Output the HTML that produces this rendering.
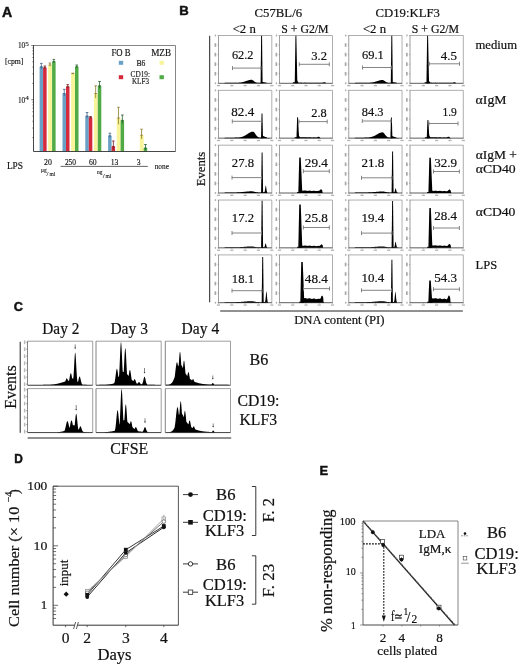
<!DOCTYPE html>
<html><head><meta charset="utf-8"><title>Figure</title>
<style>html,body{margin:0;padding:0;background:#fff;}svg{display:block;}</style>
</head><body>
<svg width="520" height="664" viewBox="0 0 520 664">
<rect x="0" y="0" width="520" height="664" fill="#fff"/>
<text x="2.00" y="17.00" font-family="'Liberation Sans', Arial, sans-serif" font-size="14.2" text-anchor="start" font-weight="bold" fill="#111" textLength="10.20" lengthAdjust="spacingAndGlyphs"  stroke="#111" stroke-width="0.45">A</text>
<line x1="33.50" y1="45.50" x2="175.50" y2="45.50" stroke="#777" stroke-width="0.9" />
<line x1="175.50" y1="45.50" x2="175.50" y2="151.50" stroke="#777" stroke-width="0.9" />
<rect x="39.60" y="66.80" width="3.50" height="84.70" fill="#6a9fc6" stroke="none" stroke-width="1" />
<line x1="41.35" y1="63.40" x2="41.35" y2="68.84" stroke="#3b6186" stroke-width="0.8" />
<line x1="40.05" y1="63.40" x2="42.65" y2="63.40" stroke="#3b6186" stroke-width="0.8" />
<line x1="40.05" y1="66.80" x2="42.65" y2="66.80" stroke="#3b6186" stroke-width="0.8" />
<rect x="43.10" y="67.70" width="3.50" height="83.80" fill="#d52a3c" stroke="none" stroke-width="1" />
<line x1="44.85" y1="66.00" x2="44.85" y2="68.72" stroke="#7a1a1a" stroke-width="0.8" />
<line x1="43.55" y1="66.00" x2="46.15" y2="66.00" stroke="#7a1a1a" stroke-width="0.8" />
<line x1="43.55" y1="67.70" x2="46.15" y2="67.70" stroke="#7a1a1a" stroke-width="0.8" />
<rect x="48.20" y="65.00" width="3.90" height="86.50" fill="#f8f49c" stroke="none" stroke-width="1" />
<line x1="49.95" y1="63.00" x2="49.95" y2="66.20" stroke="#8b7a2c" stroke-width="0.8" />
<line x1="48.65" y1="63.00" x2="51.25" y2="63.00" stroke="#8b7a2c" stroke-width="0.8" />
<line x1="48.65" y1="65.00" x2="51.25" y2="65.00" stroke="#8b7a2c" stroke-width="0.8" />
<rect x="52.10" y="61.60" width="3.50" height="89.90" fill="#50ab46" stroke="none" stroke-width="1" />
<line x1="53.85" y1="59.40" x2="53.85" y2="62.92" stroke="#245f2a" stroke-width="0.8" />
<line x1="52.55" y1="59.40" x2="55.15" y2="59.40" stroke="#245f2a" stroke-width="0.8" />
<line x1="52.55" y1="61.60" x2="55.15" y2="61.60" stroke="#245f2a" stroke-width="0.8" />
<rect x="62.50" y="93.60" width="3.50" height="57.90" fill="#6a9fc6" stroke="none" stroke-width="1" />
<line x1="64.25" y1="89.30" x2="64.25" y2="96.18" stroke="#3b6186" stroke-width="0.8" />
<line x1="62.95" y1="89.30" x2="65.55" y2="89.30" stroke="#3b6186" stroke-width="0.8" />
<line x1="62.95" y1="93.60" x2="65.55" y2="93.60" stroke="#3b6186" stroke-width="0.8" />
<rect x="66.00" y="86.70" width="3.50" height="64.80" fill="#d52a3c" stroke="none" stroke-width="1" />
<line x1="67.75" y1="84.60" x2="67.75" y2="87.96" stroke="#7a1a1a" stroke-width="0.8" />
<line x1="66.45" y1="84.60" x2="69.05" y2="84.60" stroke="#7a1a1a" stroke-width="0.8" />
<line x1="66.45" y1="86.70" x2="69.05" y2="86.70" stroke="#7a1a1a" stroke-width="0.8" />
<rect x="71.10" y="73.70" width="3.90" height="77.80" fill="#f8f49c" stroke="none" stroke-width="1" />
<line x1="72.85" y1="73.20" x2="72.85" y2="74.00" stroke="#8b7a2c" stroke-width="0.8" />
<line x1="71.55" y1="73.20" x2="74.15" y2="73.20" stroke="#8b7a2c" stroke-width="0.8" />
<line x1="71.55" y1="73.70" x2="74.15" y2="73.70" stroke="#8b7a2c" stroke-width="0.8" />
<rect x="75.00" y="66.80" width="3.50" height="84.70" fill="#50ab46" stroke="none" stroke-width="1" />
<line x1="76.75" y1="65.00" x2="76.75" y2="67.88" stroke="#245f2a" stroke-width="0.8" />
<line x1="75.45" y1="65.00" x2="78.05" y2="65.00" stroke="#245f2a" stroke-width="0.8" />
<line x1="75.45" y1="66.80" x2="78.05" y2="66.80" stroke="#245f2a" stroke-width="0.8" />
<rect x="85.30" y="116.00" width="3.50" height="35.50" fill="#6a9fc6" stroke="none" stroke-width="1" />
<line x1="87.05" y1="112.50" x2="87.05" y2="118.10" stroke="#3b6186" stroke-width="0.8" />
<line x1="85.75" y1="112.50" x2="88.35" y2="112.50" stroke="#3b6186" stroke-width="0.8" />
<line x1="85.75" y1="116.00" x2="88.35" y2="116.00" stroke="#3b6186" stroke-width="0.8" />
<rect x="88.80" y="117.60" width="3.50" height="33.90" fill="#d52a3c" stroke="none" stroke-width="1" />
<line x1="90.55" y1="116.50" x2="90.55" y2="118.26" stroke="#7a1a1a" stroke-width="0.8" />
<line x1="89.25" y1="116.50" x2="91.85" y2="116.50" stroke="#7a1a1a" stroke-width="0.8" />
<line x1="89.25" y1="117.60" x2="91.85" y2="117.60" stroke="#7a1a1a" stroke-width="0.8" />
<rect x="93.90" y="93.50" width="3.90" height="58.00" fill="#f8f49c" stroke="none" stroke-width="1" />
<line x1="95.65" y1="85.80" x2="95.65" y2="98.12" stroke="#8b7a2c" stroke-width="0.8" />
<line x1="94.35" y1="85.80" x2="96.95" y2="85.80" stroke="#8b7a2c" stroke-width="0.8" />
<line x1="94.35" y1="93.50" x2="96.95" y2="93.50" stroke="#8b7a2c" stroke-width="0.8" />
<rect x="97.80" y="85.80" width="3.50" height="65.70" fill="#50ab46" stroke="none" stroke-width="1" />
<line x1="99.55" y1="81.50" x2="99.55" y2="88.38" stroke="#245f2a" stroke-width="0.8" />
<line x1="98.25" y1="81.50" x2="100.85" y2="81.50" stroke="#245f2a" stroke-width="0.8" />
<line x1="98.25" y1="85.80" x2="100.85" y2="85.80" stroke="#245f2a" stroke-width="0.8" />
<rect x="108.10" y="135.80" width="3.50" height="15.70" fill="#6a9fc6" stroke="none" stroke-width="1" />
<line x1="109.85" y1="133.20" x2="109.85" y2="137.36" stroke="#3b6186" stroke-width="0.8" />
<line x1="108.55" y1="133.20" x2="111.15" y2="133.20" stroke="#3b6186" stroke-width="0.8" />
<line x1="108.55" y1="135.80" x2="111.15" y2="135.80" stroke="#3b6186" stroke-width="0.8" />
<rect x="111.60" y="146.50" width="3.50" height="5.00" fill="#d52a3c" stroke="none" stroke-width="1" />
<line x1="113.35" y1="141.00" x2="113.35" y2="149.80" stroke="#7a1a1a" stroke-width="0.8" />
<line x1="112.05" y1="141.00" x2="114.65" y2="141.00" stroke="#7a1a1a" stroke-width="0.8" />
<line x1="112.05" y1="146.50" x2="114.65" y2="146.50" stroke="#7a1a1a" stroke-width="0.8" />
<rect x="116.70" y="118.00" width="3.90" height="33.50" fill="#f8f49c" stroke="none" stroke-width="1" />
<line x1="118.45" y1="107.30" x2="118.45" y2="124.42" stroke="#8b7a2c" stroke-width="0.8" />
<line x1="117.15" y1="107.30" x2="119.75" y2="107.30" stroke="#8b7a2c" stroke-width="0.8" />
<line x1="117.15" y1="118.00" x2="119.75" y2="118.00" stroke="#8b7a2c" stroke-width="0.8" />
<rect x="120.60" y="120.40" width="3.50" height="31.10" fill="#50ab46" stroke="none" stroke-width="1" />
<line x1="122.35" y1="115.00" x2="122.35" y2="123.64" stroke="#245f2a" stroke-width="0.8" />
<line x1="121.05" y1="115.00" x2="123.65" y2="115.00" stroke="#245f2a" stroke-width="0.8" />
<line x1="121.05" y1="120.40" x2="123.65" y2="120.40" stroke="#245f2a" stroke-width="0.8" />
<rect x="139.80" y="135.30" width="3.90" height="16.20" fill="#f8f49c" stroke="none" stroke-width="1" />
<line x1="141.55" y1="129.20" x2="141.55" y2="138.96" stroke="#8b7a2c" stroke-width="0.8" />
<line x1="140.25" y1="129.20" x2="142.85" y2="129.20" stroke="#8b7a2c" stroke-width="0.8" />
<line x1="140.25" y1="135.30" x2="142.85" y2="135.30" stroke="#8b7a2c" stroke-width="0.8" />
<rect x="143.70" y="148.00" width="3.50" height="3.50" fill="#50ab46" stroke="none" stroke-width="1" />
<line x1="145.45" y1="144.50" x2="145.45" y2="150.10" stroke="#245f2a" stroke-width="0.8" />
<line x1="144.15" y1="144.50" x2="146.75" y2="144.50" stroke="#245f2a" stroke-width="0.8" />
<line x1="144.15" y1="148.00" x2="146.75" y2="148.00" stroke="#245f2a" stroke-width="0.8" />
<line x1="33.50" y1="45.00" x2="33.50" y2="151.50" stroke="#333" stroke-width="0.9" />
<line x1="33.50" y1="151.50" x2="175.50" y2="151.50" stroke="#333" stroke-width="0.9" />
<line x1="32.30" y1="137.58" x2="33.50" y2="137.58" stroke="#333" stroke-width="0.6" />
<line x1="32.30" y1="128.04" x2="33.50" y2="128.04" stroke="#333" stroke-width="0.6" />
<line x1="32.30" y1="121.27" x2="33.50" y2="121.27" stroke="#333" stroke-width="0.6" />
<line x1="32.30" y1="116.02" x2="33.50" y2="116.02" stroke="#333" stroke-width="0.6" />
<line x1="32.30" y1="111.72" x2="33.50" y2="111.72" stroke="#333" stroke-width="0.6" />
<line x1="32.30" y1="108.10" x2="33.50" y2="108.10" stroke="#333" stroke-width="0.6" />
<line x1="32.30" y1="104.95" x2="33.50" y2="104.95" stroke="#333" stroke-width="0.6" />
<line x1="32.30" y1="102.18" x2="33.50" y2="102.18" stroke="#333" stroke-width="0.6" />
<line x1="31.30" y1="99.70" x2="33.50" y2="99.70" stroke="#333" stroke-width="0.6" />
<line x1="32.30" y1="83.38" x2="33.50" y2="83.38" stroke="#333" stroke-width="0.6" />
<line x1="32.30" y1="73.84" x2="33.50" y2="73.84" stroke="#333" stroke-width="0.6" />
<line x1="32.30" y1="67.07" x2="33.50" y2="67.07" stroke="#333" stroke-width="0.6" />
<line x1="32.30" y1="61.82" x2="33.50" y2="61.82" stroke="#333" stroke-width="0.6" />
<line x1="32.30" y1="57.52" x2="33.50" y2="57.52" stroke="#333" stroke-width="0.6" />
<line x1="32.30" y1="53.90" x2="33.50" y2="53.90" stroke="#333" stroke-width="0.6" />
<line x1="32.30" y1="50.75" x2="33.50" y2="50.75" stroke="#333" stroke-width="0.6" />
<line x1="32.30" y1="47.98" x2="33.50" y2="47.98" stroke="#333" stroke-width="0.6" />
<line x1="31.30" y1="45.50" x2="33.50" y2="45.50" stroke="#333" stroke-width="0.6" />
<text x="17.90" y="48.40" font-family="'Liberation Serif', 'Times New Roman', serif" font-size="7.4" text-anchor="start" font-weight="normal" fill="#111" textLength="7.30" lengthAdjust="spacingAndGlyphs"  stroke="#111" stroke-width="0.12">10</text>
<text x="25.30" y="45.60" font-family="'Liberation Serif', 'Times New Roman', serif" font-size="6.0" text-anchor="start" font-weight="normal" fill="#111" textLength="3.60" lengthAdjust="spacingAndGlyphs"  stroke="#111" stroke-width="0.10">5</text>
<text x="17.90" y="103.40" font-family="'Liberation Serif', 'Times New Roman', serif" font-size="7.4" text-anchor="start" font-weight="normal" fill="#111" textLength="7.30" lengthAdjust="spacingAndGlyphs"  stroke="#111" stroke-width="0.12">10</text>
<text x="25.30" y="99.60" font-family="'Liberation Serif', 'Times New Roman', serif" font-size="6.0" text-anchor="start" font-weight="normal" fill="#111" textLength="3.60" lengthAdjust="spacingAndGlyphs"  stroke="#111" stroke-width="0.10">4</text>
<text x="5.00" y="64.20" font-family="'Liberation Serif', 'Times New Roman', serif" font-size="7.6" text-anchor="start" font-weight="normal" fill="#111" textLength="18.40" lengthAdjust="spacingAndGlyphs"  stroke="#111" stroke-width="0.13">[cpm]</text>
<text x="111.40" y="56.00" font-family="'Liberation Serif', 'Times New Roman', serif" font-size="10.0" text-anchor="start" font-weight="normal" fill="#111" textLength="19.10" lengthAdjust="spacingAndGlyphs"  stroke="#111" stroke-width="0.17">FO B</text>
<text x="151.20" y="56.00" font-family="'Liberation Serif', 'Times New Roman', serif" font-size="10.0" text-anchor="start" font-weight="normal" fill="#111" textLength="19.90" lengthAdjust="spacingAndGlyphs"  stroke="#111" stroke-width="0.17">MZB</text>
<rect x="118.80" y="60.80" width="4.40" height="4.00" fill="#6a9fc6" stroke="none" stroke-width="1" />
<rect x="159.50" y="60.80" width="4.40" height="4.00" fill="#f8f49c" stroke="none" stroke-width="1" />
<rect x="118.80" y="75.20" width="4.40" height="4.00" fill="#d52a3c" stroke="none" stroke-width="1" />
<rect x="159.50" y="75.20" width="4.40" height="4.00" fill="#50ab46" stroke="none" stroke-width="1" />
<text x="136.50" y="65.80" font-family="'Liberation Serif', 'Times New Roman', serif" font-size="8.6" text-anchor="start" font-weight="normal" fill="#111" textLength="8.90" lengthAdjust="spacingAndGlyphs"  stroke="#111" stroke-width="0.14">B6</text>
<text x="130.50" y="77.20" font-family="'Liberation Serif', 'Times New Roman', serif" font-size="8.6" text-anchor="start" font-weight="normal" fill="#111" textLength="19.50" lengthAdjust="spacingAndGlyphs"  stroke="#111" stroke-width="0.14">CD19:</text>
<text x="131.90" y="84.40" font-family="'Liberation Serif', 'Times New Roman', serif" font-size="8.6" text-anchor="start" font-weight="normal" fill="#111" textLength="17.10" lengthAdjust="spacingAndGlyphs"  stroke="#111" stroke-width="0.14">KLF3</text>
<text x="6.90" y="169.00" font-family="'Liberation Serif', 'Times New Roman', serif" font-size="10" text-anchor="start" font-weight="normal" fill="#111" textLength="16.10" lengthAdjust="spacingAndGlyphs"  stroke="#111" stroke-width="0.17">LPS</text>
<text x="44.10" y="164.70" font-family="'Liberation Serif', 'Times New Roman', serif" font-size="7.7" text-anchor="start" font-weight="normal" fill="#111" textLength="7.80" lengthAdjust="spacingAndGlyphs"  stroke="#111" stroke-width="0.13">20</text>
<text x="64.90" y="164.70" font-family="'Liberation Serif', 'Times New Roman', serif" font-size="7.7" text-anchor="start" font-weight="normal" fill="#111" textLength="11.20" lengthAdjust="spacingAndGlyphs"  stroke="#111" stroke-width="0.13">250</text>
<text x="92.80" y="164.70" font-family="'Liberation Serif', 'Times New Roman', serif" font-size="7.7" text-anchor="middle" font-weight="normal" fill="#111"  stroke="#111" stroke-width="0.13">60</text>
<text x="114.50" y="164.70" font-family="'Liberation Serif', 'Times New Roman', serif" font-size="7.7" text-anchor="middle" font-weight="normal" fill="#111"  stroke="#111" stroke-width="0.13">13</text>
<text x="138.60" y="164.70" font-family="'Liberation Serif', 'Times New Roman', serif" font-size="7.7" text-anchor="middle" font-weight="normal" fill="#111"  stroke="#111" stroke-width="0.13">3</text>
<text x="154.70" y="169.20" font-family="'Liberation Serif', 'Times New Roman', serif" font-size="7.4" text-anchor="start" font-weight="normal" fill="#111" textLength="14.30" lengthAdjust="spacingAndGlyphs"  stroke="#111" stroke-width="0.12">none</text>
<line x1="60.60" y1="166.40" x2="147.80" y2="166.40" stroke="#222" stroke-width="0.7" />
<text x="40.80" y="172.00" font-family="'Liberation Serif', 'Times New Roman', serif" font-size="5.5" text-anchor="start" font-weight="normal" fill="#111"  stroke="#111" stroke-width="0.09">µg</text>
<text x="46.60" y="175.50" font-family="'Liberation Serif', 'Times New Roman', serif" font-size="7.0" text-anchor="start" font-weight="normal" fill="#111"  stroke="#111" stroke-width="0.12">/</text>
<text x="49.40" y="176.00" font-family="'Liberation Serif', 'Times New Roman', serif" font-size="5.5" text-anchor="start" font-weight="normal" fill="#111"  stroke="#111" stroke-width="0.09">ml</text>
<text x="97.00" y="174.20" font-family="'Liberation Serif', 'Times New Roman', serif" font-size="5.5" text-anchor="start" font-weight="normal" fill="#111"  stroke="#111" stroke-width="0.09">ng</text>
<text x="102.80" y="177.70" font-family="'Liberation Serif', 'Times New Roman', serif" font-size="7.0" text-anchor="start" font-weight="normal" fill="#111"  stroke="#111" stroke-width="0.12">/</text>
<text x="105.60" y="178.20" font-family="'Liberation Serif', 'Times New Roman', serif" font-size="5.5" text-anchor="start" font-weight="normal" fill="#111"  stroke="#111" stroke-width="0.09">ml</text>
<text x="179.30" y="14.70" font-family="'Liberation Sans', Arial, sans-serif" font-size="12.2" text-anchor="start" font-weight="bold" fill="#111" textLength="9.50" lengthAdjust="spacingAndGlyphs"  stroke="#111" stroke-width="0.45">B</text>
<text x="254.60" y="16.80" font-family="'Liberation Serif', 'Times New Roman', serif" font-size="12.7" text-anchor="start" font-weight="normal" fill="#111" textLength="47.50" lengthAdjust="spacingAndGlyphs"  stroke="#111" stroke-width="0.20">C57BL/6</text>
<text x="375.50" y="16.80" font-family="'Liberation Serif', 'Times New Roman', serif" font-size="12.7" text-anchor="start" font-weight="normal" fill="#111" textLength="64.50" lengthAdjust="spacingAndGlyphs"  stroke="#111" stroke-width="0.20">CD19:KLF3</text>
<text x="232.70" y="33.00" font-family="'Liberation Serif', 'Times New Roman', serif" font-size="12.7" text-anchor="start" font-weight="normal" fill="#111" textLength="23.10" lengthAdjust="spacingAndGlyphs"  stroke="#111" stroke-width="0.20">&lt;2 n</text>
<text x="281.30" y="33.00" font-family="'Liberation Serif', 'Times New Roman', serif" font-size="12.7" text-anchor="start" font-weight="normal" fill="#111" textLength="47.30" lengthAdjust="spacingAndGlyphs"  stroke="#111" stroke-width="0.20">S + G2/M</text>
<text x="362.95" y="33.00" font-family="'Liberation Serif', 'Times New Roman', serif" font-size="12.7" text-anchor="start" font-weight="normal" fill="#111" textLength="23.10" lengthAdjust="spacingAndGlyphs"  stroke="#111" stroke-width="0.20">&lt;2 n</text>
<text x="411.80" y="33.00" font-family="'Liberation Serif', 'Times New Roman', serif" font-size="12.7" text-anchor="start" font-weight="normal" fill="#111" textLength="47.30" lengthAdjust="spacingAndGlyphs"  stroke="#111" stroke-width="0.20">S + G2/M</text>
<text x="475.50" y="48.80" font-family="'Liberation Serif', 'Times New Roman', serif" font-size="12.7" text-anchor="start" font-weight="normal" fill="#111" textLength="41.50" lengthAdjust="spacingAndGlyphs"  stroke="#111" stroke-width="0.20">medium</text>
<text x="475.60" y="104.00" font-family="'Liberation Serif', 'Times New Roman', serif" font-size="12.7" text-anchor="start" font-weight="normal" fill="#111" textLength="30.90" lengthAdjust="spacingAndGlyphs"  stroke="#111" stroke-width="0.20">αIgM</text>
<text x="475.70" y="158.60" font-family="'Liberation Serif', 'Times New Roman', serif" font-size="12.7" text-anchor="start" font-weight="normal" fill="#111" textLength="41.20" lengthAdjust="spacingAndGlyphs"  stroke="#111" stroke-width="0.20">αIgM +</text>
<text x="475.70" y="172.80" font-family="'Liberation Serif', 'Times New Roman', serif" font-size="12.7" text-anchor="start" font-weight="normal" fill="#111" textLength="40.00" lengthAdjust="spacingAndGlyphs"  stroke="#111" stroke-width="0.20">αCD40</text>
<text x="475.80" y="215.90" font-family="'Liberation Serif', 'Times New Roman', serif" font-size="12.7" text-anchor="start" font-weight="normal" fill="#111" textLength="39.60" lengthAdjust="spacingAndGlyphs"  stroke="#111" stroke-width="0.20">αCD40</text>
<text x="475.60" y="268.90" font-family="'Liberation Serif', 'Times New Roman', serif" font-size="12.7" text-anchor="start" font-weight="normal" fill="#111" textLength="21.60" lengthAdjust="spacingAndGlyphs"  stroke="#111" stroke-width="0.20">LPS</text>
<line x1="209.70" y1="35.80" x2="209.70" y2="302.30" stroke="#222" stroke-width="1.0" />
<text x="0" y="0" transform="translate(205.30,169.00) rotate(-90)" font-family="'Liberation Serif', 'Times New Roman', serif" font-size="12.7" text-anchor="middle" fill="#111" stroke="#111" stroke-width="0.2" textLength="34.60" lengthAdjust="spacingAndGlyphs">Events</text>
<line x1="220.20" y1="311.00" x2="462.80" y2="311.00" stroke="#222" stroke-width="1.0" />
<text x="294.20" y="323.90" font-family="'Liberation Serif', 'Times New Roman', serif" font-size="12.7" text-anchor="start" font-weight="normal" fill="#111" textLength="90.40" lengthAdjust="spacingAndGlyphs"  stroke="#111" stroke-width="0.20">DNA content (PI)</text>
<line x1="218.50" y1="35.50" x2="271.80" y2="35.50" stroke="#999" stroke-width="0.8" />
<line x1="271.80" y1="35.50" x2="271.80" y2="83.30" stroke="#999" stroke-width="0.8" />
<line x1="218.50" y1="35.50" x2="218.50" y2="83.30" stroke="#888" stroke-width="0.8" />
<line x1="218.50" y1="83.30" x2="271.80" y2="83.30" stroke="#333" stroke-width="0.8" />
<line x1="217.50" y1="35.50" x2="218.50" y2="35.50" stroke="#777" stroke-width="0.5" />
<rect x="214.80" y="34.60" width="1.30" height="1.80" fill="#aaa" stroke="none" stroke-width="1" />
<line x1="217.50" y1="45.06" x2="218.50" y2="45.06" stroke="#777" stroke-width="0.5" />
<rect x="214.50" y="43.26" width="1.70" height="3.60" fill="#a8a8a8" stroke="none" stroke-width="1" />
<line x1="217.50" y1="54.62" x2="218.50" y2="54.62" stroke="#777" stroke-width="0.5" />
<rect x="214.50" y="52.82" width="1.70" height="3.60" fill="#a8a8a8" stroke="none" stroke-width="1" />
<line x1="217.50" y1="64.18" x2="218.50" y2="64.18" stroke="#777" stroke-width="0.5" />
<rect x="214.50" y="62.38" width="1.70" height="3.60" fill="#a8a8a8" stroke="none" stroke-width="1" />
<line x1="217.50" y1="73.74" x2="218.50" y2="73.74" stroke="#777" stroke-width="0.5" />
<rect x="214.50" y="71.94" width="1.70" height="3.60" fill="#a8a8a8" stroke="none" stroke-width="1" />
<line x1="217.50" y1="83.30" x2="218.50" y2="83.30" stroke="#777" stroke-width="0.5" />
<rect x="214.80" y="82.40" width="1.30" height="1.80" fill="#aaa" stroke="none" stroke-width="1" />
<line x1="218.50" y1="83.30" x2="218.50" y2="84.30" stroke="#777" stroke-width="0.5" />
<rect x="216.90" y="85.00" width="3.20" height="1.30" fill="#b4b4b4" stroke="none" stroke-width="1" />
<line x1="231.82" y1="83.30" x2="231.82" y2="84.30" stroke="#777" stroke-width="0.5" />
<rect x="230.22" y="85.00" width="3.20" height="1.30" fill="#b4b4b4" stroke="none" stroke-width="1" />
<line x1="245.15" y1="83.30" x2="245.15" y2="84.30" stroke="#777" stroke-width="0.5" />
<rect x="243.55" y="85.00" width="3.20" height="1.30" fill="#b4b4b4" stroke="none" stroke-width="1" />
<line x1="258.48" y1="83.30" x2="258.48" y2="84.30" stroke="#777" stroke-width="0.5" />
<rect x="256.88" y="85.00" width="3.20" height="1.30" fill="#b4b4b4" stroke="none" stroke-width="1" />
<line x1="271.80" y1="83.30" x2="271.80" y2="84.30" stroke="#777" stroke-width="0.5" />
<rect x="270.20" y="85.00" width="3.20" height="1.30" fill="#b4b4b4" stroke="none" stroke-width="1" />
<line x1="279.50" y1="35.50" x2="332.50" y2="35.50" stroke="#999" stroke-width="0.8" />
<line x1="332.50" y1="35.50" x2="332.50" y2="83.30" stroke="#999" stroke-width="0.8" />
<line x1="279.50" y1="35.50" x2="279.50" y2="83.30" stroke="#888" stroke-width="0.8" />
<line x1="279.50" y1="83.30" x2="332.50" y2="83.30" stroke="#333" stroke-width="0.8" />
<line x1="278.50" y1="35.50" x2="279.50" y2="35.50" stroke="#777" stroke-width="0.5" />
<rect x="275.80" y="34.60" width="1.30" height="1.80" fill="#aaa" stroke="none" stroke-width="1" />
<line x1="278.50" y1="45.06" x2="279.50" y2="45.06" stroke="#777" stroke-width="0.5" />
<rect x="275.50" y="43.26" width="1.70" height="3.60" fill="#a8a8a8" stroke="none" stroke-width="1" />
<line x1="278.50" y1="54.62" x2="279.50" y2="54.62" stroke="#777" stroke-width="0.5" />
<rect x="275.50" y="52.82" width="1.70" height="3.60" fill="#a8a8a8" stroke="none" stroke-width="1" />
<line x1="278.50" y1="64.18" x2="279.50" y2="64.18" stroke="#777" stroke-width="0.5" />
<rect x="275.50" y="62.38" width="1.70" height="3.60" fill="#a8a8a8" stroke="none" stroke-width="1" />
<line x1="278.50" y1="73.74" x2="279.50" y2="73.74" stroke="#777" stroke-width="0.5" />
<rect x="275.50" y="71.94" width="1.70" height="3.60" fill="#a8a8a8" stroke="none" stroke-width="1" />
<line x1="278.50" y1="83.30" x2="279.50" y2="83.30" stroke="#777" stroke-width="0.5" />
<rect x="275.80" y="82.40" width="1.30" height="1.80" fill="#aaa" stroke="none" stroke-width="1" />
<line x1="279.50" y1="83.30" x2="279.50" y2="84.30" stroke="#777" stroke-width="0.5" />
<rect x="277.90" y="85.00" width="3.20" height="1.30" fill="#b4b4b4" stroke="none" stroke-width="1" />
<line x1="292.75" y1="83.30" x2="292.75" y2="84.30" stroke="#777" stroke-width="0.5" />
<rect x="291.15" y="85.00" width="3.20" height="1.30" fill="#b4b4b4" stroke="none" stroke-width="1" />
<line x1="306.00" y1="83.30" x2="306.00" y2="84.30" stroke="#777" stroke-width="0.5" />
<rect x="304.40" y="85.00" width="3.20" height="1.30" fill="#b4b4b4" stroke="none" stroke-width="1" />
<line x1="319.25" y1="83.30" x2="319.25" y2="84.30" stroke="#777" stroke-width="0.5" />
<rect x="317.65" y="85.00" width="3.20" height="1.30" fill="#b4b4b4" stroke="none" stroke-width="1" />
<line x1="332.50" y1="83.30" x2="332.50" y2="84.30" stroke="#777" stroke-width="0.5" />
<rect x="330.90" y="85.00" width="3.20" height="1.30" fill="#b4b4b4" stroke="none" stroke-width="1" />
<line x1="348.75" y1="35.50" x2="402.05" y2="35.50" stroke="#999" stroke-width="0.8" />
<line x1="402.05" y1="35.50" x2="402.05" y2="83.30" stroke="#999" stroke-width="0.8" />
<line x1="348.75" y1="35.50" x2="348.75" y2="83.30" stroke="#888" stroke-width="0.8" />
<line x1="348.75" y1="83.30" x2="402.05" y2="83.30" stroke="#333" stroke-width="0.8" />
<line x1="347.75" y1="35.50" x2="348.75" y2="35.50" stroke="#777" stroke-width="0.5" />
<rect x="345.05" y="34.60" width="1.30" height="1.80" fill="#aaa" stroke="none" stroke-width="1" />
<line x1="347.75" y1="45.06" x2="348.75" y2="45.06" stroke="#777" stroke-width="0.5" />
<rect x="344.75" y="43.26" width="1.70" height="3.60" fill="#a8a8a8" stroke="none" stroke-width="1" />
<line x1="347.75" y1="54.62" x2="348.75" y2="54.62" stroke="#777" stroke-width="0.5" />
<rect x="344.75" y="52.82" width="1.70" height="3.60" fill="#a8a8a8" stroke="none" stroke-width="1" />
<line x1="347.75" y1="64.18" x2="348.75" y2="64.18" stroke="#777" stroke-width="0.5" />
<rect x="344.75" y="62.38" width="1.70" height="3.60" fill="#a8a8a8" stroke="none" stroke-width="1" />
<line x1="347.75" y1="73.74" x2="348.75" y2="73.74" stroke="#777" stroke-width="0.5" />
<rect x="344.75" y="71.94" width="1.70" height="3.60" fill="#a8a8a8" stroke="none" stroke-width="1" />
<line x1="347.75" y1="83.30" x2="348.75" y2="83.30" stroke="#777" stroke-width="0.5" />
<rect x="345.05" y="82.40" width="1.30" height="1.80" fill="#aaa" stroke="none" stroke-width="1" />
<line x1="348.75" y1="83.30" x2="348.75" y2="84.30" stroke="#777" stroke-width="0.5" />
<rect x="347.15" y="85.00" width="3.20" height="1.30" fill="#b4b4b4" stroke="none" stroke-width="1" />
<line x1="362.07" y1="83.30" x2="362.07" y2="84.30" stroke="#777" stroke-width="0.5" />
<rect x="360.47" y="85.00" width="3.20" height="1.30" fill="#b4b4b4" stroke="none" stroke-width="1" />
<line x1="375.40" y1="83.30" x2="375.40" y2="84.30" stroke="#777" stroke-width="0.5" />
<rect x="373.80" y="85.00" width="3.20" height="1.30" fill="#b4b4b4" stroke="none" stroke-width="1" />
<line x1="388.73" y1="83.30" x2="388.73" y2="84.30" stroke="#777" stroke-width="0.5" />
<rect x="387.12" y="85.00" width="3.20" height="1.30" fill="#b4b4b4" stroke="none" stroke-width="1" />
<line x1="402.05" y1="83.30" x2="402.05" y2="84.30" stroke="#777" stroke-width="0.5" />
<rect x="400.45" y="85.00" width="3.20" height="1.30" fill="#b4b4b4" stroke="none" stroke-width="1" />
<line x1="410.00" y1="35.50" x2="463.30" y2="35.50" stroke="#999" stroke-width="0.8" />
<line x1="463.30" y1="35.50" x2="463.30" y2="83.30" stroke="#999" stroke-width="0.8" />
<line x1="410.00" y1="35.50" x2="410.00" y2="83.30" stroke="#888" stroke-width="0.8" />
<line x1="410.00" y1="83.30" x2="463.30" y2="83.30" stroke="#333" stroke-width="0.8" />
<line x1="409.00" y1="35.50" x2="410.00" y2="35.50" stroke="#777" stroke-width="0.5" />
<rect x="406.30" y="34.60" width="1.30" height="1.80" fill="#aaa" stroke="none" stroke-width="1" />
<line x1="409.00" y1="45.06" x2="410.00" y2="45.06" stroke="#777" stroke-width="0.5" />
<rect x="406.00" y="43.26" width="1.70" height="3.60" fill="#a8a8a8" stroke="none" stroke-width="1" />
<line x1="409.00" y1="54.62" x2="410.00" y2="54.62" stroke="#777" stroke-width="0.5" />
<rect x="406.00" y="52.82" width="1.70" height="3.60" fill="#a8a8a8" stroke="none" stroke-width="1" />
<line x1="409.00" y1="64.18" x2="410.00" y2="64.18" stroke="#777" stroke-width="0.5" />
<rect x="406.00" y="62.38" width="1.70" height="3.60" fill="#a8a8a8" stroke="none" stroke-width="1" />
<line x1="409.00" y1="73.74" x2="410.00" y2="73.74" stroke="#777" stroke-width="0.5" />
<rect x="406.00" y="71.94" width="1.70" height="3.60" fill="#a8a8a8" stroke="none" stroke-width="1" />
<line x1="409.00" y1="83.30" x2="410.00" y2="83.30" stroke="#777" stroke-width="0.5" />
<rect x="406.30" y="82.40" width="1.30" height="1.80" fill="#aaa" stroke="none" stroke-width="1" />
<line x1="410.00" y1="83.30" x2="410.00" y2="84.30" stroke="#777" stroke-width="0.5" />
<rect x="408.40" y="85.00" width="3.20" height="1.30" fill="#b4b4b4" stroke="none" stroke-width="1" />
<line x1="423.32" y1="83.30" x2="423.32" y2="84.30" stroke="#777" stroke-width="0.5" />
<rect x="421.72" y="85.00" width="3.20" height="1.30" fill="#b4b4b4" stroke="none" stroke-width="1" />
<line x1="436.65" y1="83.30" x2="436.65" y2="84.30" stroke="#777" stroke-width="0.5" />
<rect x="435.05" y="85.00" width="3.20" height="1.30" fill="#b4b4b4" stroke="none" stroke-width="1" />
<line x1="449.98" y1="83.30" x2="449.98" y2="84.30" stroke="#777" stroke-width="0.5" />
<rect x="448.38" y="85.00" width="3.20" height="1.30" fill="#b4b4b4" stroke="none" stroke-width="1" />
<line x1="463.30" y1="83.30" x2="463.30" y2="84.30" stroke="#777" stroke-width="0.5" />
<rect x="461.70" y="85.00" width="3.20" height="1.30" fill="#b4b4b4" stroke="none" stroke-width="1" />
<line x1="218.50" y1="90.35" x2="271.80" y2="90.35" stroke="#999" stroke-width="0.8" />
<line x1="271.80" y1="90.35" x2="271.80" y2="138.15" stroke="#999" stroke-width="0.8" />
<line x1="218.50" y1="90.35" x2="218.50" y2="138.15" stroke="#888" stroke-width="0.8" />
<line x1="218.50" y1="138.15" x2="271.80" y2="138.15" stroke="#333" stroke-width="0.8" />
<line x1="217.50" y1="90.35" x2="218.50" y2="90.35" stroke="#777" stroke-width="0.5" />
<rect x="214.80" y="89.45" width="1.30" height="1.80" fill="#aaa" stroke="none" stroke-width="1" />
<line x1="217.50" y1="99.91" x2="218.50" y2="99.91" stroke="#777" stroke-width="0.5" />
<rect x="214.50" y="98.11" width="1.70" height="3.60" fill="#a8a8a8" stroke="none" stroke-width="1" />
<line x1="217.50" y1="109.47" x2="218.50" y2="109.47" stroke="#777" stroke-width="0.5" />
<rect x="214.50" y="107.67" width="1.70" height="3.60" fill="#a8a8a8" stroke="none" stroke-width="1" />
<line x1="217.50" y1="119.03" x2="218.50" y2="119.03" stroke="#777" stroke-width="0.5" />
<rect x="214.50" y="117.23" width="1.70" height="3.60" fill="#a8a8a8" stroke="none" stroke-width="1" />
<line x1="217.50" y1="128.59" x2="218.50" y2="128.59" stroke="#777" stroke-width="0.5" />
<rect x="214.50" y="126.79" width="1.70" height="3.60" fill="#a8a8a8" stroke="none" stroke-width="1" />
<line x1="217.50" y1="138.15" x2="218.50" y2="138.15" stroke="#777" stroke-width="0.5" />
<rect x="214.80" y="137.25" width="1.30" height="1.80" fill="#aaa" stroke="none" stroke-width="1" />
<line x1="218.50" y1="138.15" x2="218.50" y2="139.15" stroke="#777" stroke-width="0.5" />
<rect x="216.90" y="139.85" width="3.20" height="1.30" fill="#b4b4b4" stroke="none" stroke-width="1" />
<line x1="231.82" y1="138.15" x2="231.82" y2="139.15" stroke="#777" stroke-width="0.5" />
<rect x="230.22" y="139.85" width="3.20" height="1.30" fill="#b4b4b4" stroke="none" stroke-width="1" />
<line x1="245.15" y1="138.15" x2="245.15" y2="139.15" stroke="#777" stroke-width="0.5" />
<rect x="243.55" y="139.85" width="3.20" height="1.30" fill="#b4b4b4" stroke="none" stroke-width="1" />
<line x1="258.48" y1="138.15" x2="258.48" y2="139.15" stroke="#777" stroke-width="0.5" />
<rect x="256.88" y="139.85" width="3.20" height="1.30" fill="#b4b4b4" stroke="none" stroke-width="1" />
<line x1="271.80" y1="138.15" x2="271.80" y2="139.15" stroke="#777" stroke-width="0.5" />
<rect x="270.20" y="139.85" width="3.20" height="1.30" fill="#b4b4b4" stroke="none" stroke-width="1" />
<line x1="279.50" y1="90.35" x2="332.50" y2="90.35" stroke="#999" stroke-width="0.8" />
<line x1="332.50" y1="90.35" x2="332.50" y2="138.15" stroke="#999" stroke-width="0.8" />
<line x1="279.50" y1="90.35" x2="279.50" y2="138.15" stroke="#888" stroke-width="0.8" />
<line x1="279.50" y1="138.15" x2="332.50" y2="138.15" stroke="#333" stroke-width="0.8" />
<line x1="278.50" y1="90.35" x2="279.50" y2="90.35" stroke="#777" stroke-width="0.5" />
<rect x="275.80" y="89.45" width="1.30" height="1.80" fill="#aaa" stroke="none" stroke-width="1" />
<line x1="278.50" y1="99.91" x2="279.50" y2="99.91" stroke="#777" stroke-width="0.5" />
<rect x="275.50" y="98.11" width="1.70" height="3.60" fill="#a8a8a8" stroke="none" stroke-width="1" />
<line x1="278.50" y1="109.47" x2="279.50" y2="109.47" stroke="#777" stroke-width="0.5" />
<rect x="275.50" y="107.67" width="1.70" height="3.60" fill="#a8a8a8" stroke="none" stroke-width="1" />
<line x1="278.50" y1="119.03" x2="279.50" y2="119.03" stroke="#777" stroke-width="0.5" />
<rect x="275.50" y="117.23" width="1.70" height="3.60" fill="#a8a8a8" stroke="none" stroke-width="1" />
<line x1="278.50" y1="128.59" x2="279.50" y2="128.59" stroke="#777" stroke-width="0.5" />
<rect x="275.50" y="126.79" width="1.70" height="3.60" fill="#a8a8a8" stroke="none" stroke-width="1" />
<line x1="278.50" y1="138.15" x2="279.50" y2="138.15" stroke="#777" stroke-width="0.5" />
<rect x="275.80" y="137.25" width="1.30" height="1.80" fill="#aaa" stroke="none" stroke-width="1" />
<line x1="279.50" y1="138.15" x2="279.50" y2="139.15" stroke="#777" stroke-width="0.5" />
<rect x="277.90" y="139.85" width="3.20" height="1.30" fill="#b4b4b4" stroke="none" stroke-width="1" />
<line x1="292.75" y1="138.15" x2="292.75" y2="139.15" stroke="#777" stroke-width="0.5" />
<rect x="291.15" y="139.85" width="3.20" height="1.30" fill="#b4b4b4" stroke="none" stroke-width="1" />
<line x1="306.00" y1="138.15" x2="306.00" y2="139.15" stroke="#777" stroke-width="0.5" />
<rect x="304.40" y="139.85" width="3.20" height="1.30" fill="#b4b4b4" stroke="none" stroke-width="1" />
<line x1="319.25" y1="138.15" x2="319.25" y2="139.15" stroke="#777" stroke-width="0.5" />
<rect x="317.65" y="139.85" width="3.20" height="1.30" fill="#b4b4b4" stroke="none" stroke-width="1" />
<line x1="332.50" y1="138.15" x2="332.50" y2="139.15" stroke="#777" stroke-width="0.5" />
<rect x="330.90" y="139.85" width="3.20" height="1.30" fill="#b4b4b4" stroke="none" stroke-width="1" />
<line x1="348.75" y1="90.35" x2="402.05" y2="90.35" stroke="#999" stroke-width="0.8" />
<line x1="402.05" y1="90.35" x2="402.05" y2="138.15" stroke="#999" stroke-width="0.8" />
<line x1="348.75" y1="90.35" x2="348.75" y2="138.15" stroke="#888" stroke-width="0.8" />
<line x1="348.75" y1="138.15" x2="402.05" y2="138.15" stroke="#333" stroke-width="0.8" />
<line x1="347.75" y1="90.35" x2="348.75" y2="90.35" stroke="#777" stroke-width="0.5" />
<rect x="345.05" y="89.45" width="1.30" height="1.80" fill="#aaa" stroke="none" stroke-width="1" />
<line x1="347.75" y1="99.91" x2="348.75" y2="99.91" stroke="#777" stroke-width="0.5" />
<rect x="344.75" y="98.11" width="1.70" height="3.60" fill="#a8a8a8" stroke="none" stroke-width="1" />
<line x1="347.75" y1="109.47" x2="348.75" y2="109.47" stroke="#777" stroke-width="0.5" />
<rect x="344.75" y="107.67" width="1.70" height="3.60" fill="#a8a8a8" stroke="none" stroke-width="1" />
<line x1="347.75" y1="119.03" x2="348.75" y2="119.03" stroke="#777" stroke-width="0.5" />
<rect x="344.75" y="117.23" width="1.70" height="3.60" fill="#a8a8a8" stroke="none" stroke-width="1" />
<line x1="347.75" y1="128.59" x2="348.75" y2="128.59" stroke="#777" stroke-width="0.5" />
<rect x="344.75" y="126.79" width="1.70" height="3.60" fill="#a8a8a8" stroke="none" stroke-width="1" />
<line x1="347.75" y1="138.15" x2="348.75" y2="138.15" stroke="#777" stroke-width="0.5" />
<rect x="345.05" y="137.25" width="1.30" height="1.80" fill="#aaa" stroke="none" stroke-width="1" />
<line x1="348.75" y1="138.15" x2="348.75" y2="139.15" stroke="#777" stroke-width="0.5" />
<rect x="347.15" y="139.85" width="3.20" height="1.30" fill="#b4b4b4" stroke="none" stroke-width="1" />
<line x1="362.07" y1="138.15" x2="362.07" y2="139.15" stroke="#777" stroke-width="0.5" />
<rect x="360.47" y="139.85" width="3.20" height="1.30" fill="#b4b4b4" stroke="none" stroke-width="1" />
<line x1="375.40" y1="138.15" x2="375.40" y2="139.15" stroke="#777" stroke-width="0.5" />
<rect x="373.80" y="139.85" width="3.20" height="1.30" fill="#b4b4b4" stroke="none" stroke-width="1" />
<line x1="388.73" y1="138.15" x2="388.73" y2="139.15" stroke="#777" stroke-width="0.5" />
<rect x="387.12" y="139.85" width="3.20" height="1.30" fill="#b4b4b4" stroke="none" stroke-width="1" />
<line x1="402.05" y1="138.15" x2="402.05" y2="139.15" stroke="#777" stroke-width="0.5" />
<rect x="400.45" y="139.85" width="3.20" height="1.30" fill="#b4b4b4" stroke="none" stroke-width="1" />
<line x1="410.00" y1="90.35" x2="463.30" y2="90.35" stroke="#999" stroke-width="0.8" />
<line x1="463.30" y1="90.35" x2="463.30" y2="138.15" stroke="#999" stroke-width="0.8" />
<line x1="410.00" y1="90.35" x2="410.00" y2="138.15" stroke="#888" stroke-width="0.8" />
<line x1="410.00" y1="138.15" x2="463.30" y2="138.15" stroke="#333" stroke-width="0.8" />
<line x1="409.00" y1="90.35" x2="410.00" y2="90.35" stroke="#777" stroke-width="0.5" />
<rect x="406.30" y="89.45" width="1.30" height="1.80" fill="#aaa" stroke="none" stroke-width="1" />
<line x1="409.00" y1="99.91" x2="410.00" y2="99.91" stroke="#777" stroke-width="0.5" />
<rect x="406.00" y="98.11" width="1.70" height="3.60" fill="#a8a8a8" stroke="none" stroke-width="1" />
<line x1="409.00" y1="109.47" x2="410.00" y2="109.47" stroke="#777" stroke-width="0.5" />
<rect x="406.00" y="107.67" width="1.70" height="3.60" fill="#a8a8a8" stroke="none" stroke-width="1" />
<line x1="409.00" y1="119.03" x2="410.00" y2="119.03" stroke="#777" stroke-width="0.5" />
<rect x="406.00" y="117.23" width="1.70" height="3.60" fill="#a8a8a8" stroke="none" stroke-width="1" />
<line x1="409.00" y1="128.59" x2="410.00" y2="128.59" stroke="#777" stroke-width="0.5" />
<rect x="406.00" y="126.79" width="1.70" height="3.60" fill="#a8a8a8" stroke="none" stroke-width="1" />
<line x1="409.00" y1="138.15" x2="410.00" y2="138.15" stroke="#777" stroke-width="0.5" />
<rect x="406.30" y="137.25" width="1.30" height="1.80" fill="#aaa" stroke="none" stroke-width="1" />
<line x1="410.00" y1="138.15" x2="410.00" y2="139.15" stroke="#777" stroke-width="0.5" />
<rect x="408.40" y="139.85" width="3.20" height="1.30" fill="#b4b4b4" stroke="none" stroke-width="1" />
<line x1="423.32" y1="138.15" x2="423.32" y2="139.15" stroke="#777" stroke-width="0.5" />
<rect x="421.72" y="139.85" width="3.20" height="1.30" fill="#b4b4b4" stroke="none" stroke-width="1" />
<line x1="436.65" y1="138.15" x2="436.65" y2="139.15" stroke="#777" stroke-width="0.5" />
<rect x="435.05" y="139.85" width="3.20" height="1.30" fill="#b4b4b4" stroke="none" stroke-width="1" />
<line x1="449.98" y1="138.15" x2="449.98" y2="139.15" stroke="#777" stroke-width="0.5" />
<rect x="448.38" y="139.85" width="3.20" height="1.30" fill="#b4b4b4" stroke="none" stroke-width="1" />
<line x1="463.30" y1="138.15" x2="463.30" y2="139.15" stroke="#777" stroke-width="0.5" />
<rect x="461.70" y="139.85" width="3.20" height="1.30" fill="#b4b4b4" stroke="none" stroke-width="1" />
<line x1="218.50" y1="145.20" x2="271.80" y2="145.20" stroke="#999" stroke-width="0.8" />
<line x1="271.80" y1="145.20" x2="271.80" y2="193.00" stroke="#999" stroke-width="0.8" />
<line x1="218.50" y1="145.20" x2="218.50" y2="193.00" stroke="#888" stroke-width="0.8" />
<line x1="218.50" y1="193.00" x2="271.80" y2="193.00" stroke="#333" stroke-width="0.8" />
<line x1="217.50" y1="145.20" x2="218.50" y2="145.20" stroke="#777" stroke-width="0.5" />
<rect x="214.80" y="144.30" width="1.30" height="1.80" fill="#aaa" stroke="none" stroke-width="1" />
<line x1="217.50" y1="154.76" x2="218.50" y2="154.76" stroke="#777" stroke-width="0.5" />
<rect x="214.50" y="152.96" width="1.70" height="3.60" fill="#a8a8a8" stroke="none" stroke-width="1" />
<line x1="217.50" y1="164.32" x2="218.50" y2="164.32" stroke="#777" stroke-width="0.5" />
<rect x="214.50" y="162.52" width="1.70" height="3.60" fill="#a8a8a8" stroke="none" stroke-width="1" />
<line x1="217.50" y1="173.88" x2="218.50" y2="173.88" stroke="#777" stroke-width="0.5" />
<rect x="214.50" y="172.08" width="1.70" height="3.60" fill="#a8a8a8" stroke="none" stroke-width="1" />
<line x1="217.50" y1="183.44" x2="218.50" y2="183.44" stroke="#777" stroke-width="0.5" />
<rect x="214.50" y="181.64" width="1.70" height="3.60" fill="#a8a8a8" stroke="none" stroke-width="1" />
<line x1="217.50" y1="193.00" x2="218.50" y2="193.00" stroke="#777" stroke-width="0.5" />
<rect x="214.80" y="192.10" width="1.30" height="1.80" fill="#aaa" stroke="none" stroke-width="1" />
<line x1="218.50" y1="193.00" x2="218.50" y2="194.00" stroke="#777" stroke-width="0.5" />
<rect x="216.90" y="194.70" width="3.20" height="1.30" fill="#b4b4b4" stroke="none" stroke-width="1" />
<line x1="231.82" y1="193.00" x2="231.82" y2="194.00" stroke="#777" stroke-width="0.5" />
<rect x="230.22" y="194.70" width="3.20" height="1.30" fill="#b4b4b4" stroke="none" stroke-width="1" />
<line x1="245.15" y1="193.00" x2="245.15" y2="194.00" stroke="#777" stroke-width="0.5" />
<rect x="243.55" y="194.70" width="3.20" height="1.30" fill="#b4b4b4" stroke="none" stroke-width="1" />
<line x1="258.48" y1="193.00" x2="258.48" y2="194.00" stroke="#777" stroke-width="0.5" />
<rect x="256.88" y="194.70" width="3.20" height="1.30" fill="#b4b4b4" stroke="none" stroke-width="1" />
<line x1="271.80" y1="193.00" x2="271.80" y2="194.00" stroke="#777" stroke-width="0.5" />
<rect x="270.20" y="194.70" width="3.20" height="1.30" fill="#b4b4b4" stroke="none" stroke-width="1" />
<line x1="279.50" y1="145.20" x2="332.50" y2="145.20" stroke="#999" stroke-width="0.8" />
<line x1="332.50" y1="145.20" x2="332.50" y2="193.00" stroke="#999" stroke-width="0.8" />
<line x1="279.50" y1="145.20" x2="279.50" y2="193.00" stroke="#888" stroke-width="0.8" />
<line x1="279.50" y1="193.00" x2="332.50" y2="193.00" stroke="#333" stroke-width="0.8" />
<line x1="278.50" y1="145.20" x2="279.50" y2="145.20" stroke="#777" stroke-width="0.5" />
<rect x="275.80" y="144.30" width="1.30" height="1.80" fill="#aaa" stroke="none" stroke-width="1" />
<line x1="278.50" y1="154.76" x2="279.50" y2="154.76" stroke="#777" stroke-width="0.5" />
<rect x="275.50" y="152.96" width="1.70" height="3.60" fill="#a8a8a8" stroke="none" stroke-width="1" />
<line x1="278.50" y1="164.32" x2="279.50" y2="164.32" stroke="#777" stroke-width="0.5" />
<rect x="275.50" y="162.52" width="1.70" height="3.60" fill="#a8a8a8" stroke="none" stroke-width="1" />
<line x1="278.50" y1="173.88" x2="279.50" y2="173.88" stroke="#777" stroke-width="0.5" />
<rect x="275.50" y="172.08" width="1.70" height="3.60" fill="#a8a8a8" stroke="none" stroke-width="1" />
<line x1="278.50" y1="183.44" x2="279.50" y2="183.44" stroke="#777" stroke-width="0.5" />
<rect x="275.50" y="181.64" width="1.70" height="3.60" fill="#a8a8a8" stroke="none" stroke-width="1" />
<line x1="278.50" y1="193.00" x2="279.50" y2="193.00" stroke="#777" stroke-width="0.5" />
<rect x="275.80" y="192.10" width="1.30" height="1.80" fill="#aaa" stroke="none" stroke-width="1" />
<line x1="279.50" y1="193.00" x2="279.50" y2="194.00" stroke="#777" stroke-width="0.5" />
<rect x="277.90" y="194.70" width="3.20" height="1.30" fill="#b4b4b4" stroke="none" stroke-width="1" />
<line x1="292.75" y1="193.00" x2="292.75" y2="194.00" stroke="#777" stroke-width="0.5" />
<rect x="291.15" y="194.70" width="3.20" height="1.30" fill="#b4b4b4" stroke="none" stroke-width="1" />
<line x1="306.00" y1="193.00" x2="306.00" y2="194.00" stroke="#777" stroke-width="0.5" />
<rect x="304.40" y="194.70" width="3.20" height="1.30" fill="#b4b4b4" stroke="none" stroke-width="1" />
<line x1="319.25" y1="193.00" x2="319.25" y2="194.00" stroke="#777" stroke-width="0.5" />
<rect x="317.65" y="194.70" width="3.20" height="1.30" fill="#b4b4b4" stroke="none" stroke-width="1" />
<line x1="332.50" y1="193.00" x2="332.50" y2="194.00" stroke="#777" stroke-width="0.5" />
<rect x="330.90" y="194.70" width="3.20" height="1.30" fill="#b4b4b4" stroke="none" stroke-width="1" />
<line x1="348.75" y1="145.20" x2="402.05" y2="145.20" stroke="#999" stroke-width="0.8" />
<line x1="402.05" y1="145.20" x2="402.05" y2="193.00" stroke="#999" stroke-width="0.8" />
<line x1="348.75" y1="145.20" x2="348.75" y2="193.00" stroke="#888" stroke-width="0.8" />
<line x1="348.75" y1="193.00" x2="402.05" y2="193.00" stroke="#333" stroke-width="0.8" />
<line x1="347.75" y1="145.20" x2="348.75" y2="145.20" stroke="#777" stroke-width="0.5" />
<rect x="345.05" y="144.30" width="1.30" height="1.80" fill="#aaa" stroke="none" stroke-width="1" />
<line x1="347.75" y1="154.76" x2="348.75" y2="154.76" stroke="#777" stroke-width="0.5" />
<rect x="344.75" y="152.96" width="1.70" height="3.60" fill="#a8a8a8" stroke="none" stroke-width="1" />
<line x1="347.75" y1="164.32" x2="348.75" y2="164.32" stroke="#777" stroke-width="0.5" />
<rect x="344.75" y="162.52" width="1.70" height="3.60" fill="#a8a8a8" stroke="none" stroke-width="1" />
<line x1="347.75" y1="173.88" x2="348.75" y2="173.88" stroke="#777" stroke-width="0.5" />
<rect x="344.75" y="172.08" width="1.70" height="3.60" fill="#a8a8a8" stroke="none" stroke-width="1" />
<line x1="347.75" y1="183.44" x2="348.75" y2="183.44" stroke="#777" stroke-width="0.5" />
<rect x="344.75" y="181.64" width="1.70" height="3.60" fill="#a8a8a8" stroke="none" stroke-width="1" />
<line x1="347.75" y1="193.00" x2="348.75" y2="193.00" stroke="#777" stroke-width="0.5" />
<rect x="345.05" y="192.10" width="1.30" height="1.80" fill="#aaa" stroke="none" stroke-width="1" />
<line x1="348.75" y1="193.00" x2="348.75" y2="194.00" stroke="#777" stroke-width="0.5" />
<rect x="347.15" y="194.70" width="3.20" height="1.30" fill="#b4b4b4" stroke="none" stroke-width="1" />
<line x1="362.07" y1="193.00" x2="362.07" y2="194.00" stroke="#777" stroke-width="0.5" />
<rect x="360.47" y="194.70" width="3.20" height="1.30" fill="#b4b4b4" stroke="none" stroke-width="1" />
<line x1="375.40" y1="193.00" x2="375.40" y2="194.00" stroke="#777" stroke-width="0.5" />
<rect x="373.80" y="194.70" width="3.20" height="1.30" fill="#b4b4b4" stroke="none" stroke-width="1" />
<line x1="388.73" y1="193.00" x2="388.73" y2="194.00" stroke="#777" stroke-width="0.5" />
<rect x="387.12" y="194.70" width="3.20" height="1.30" fill="#b4b4b4" stroke="none" stroke-width="1" />
<line x1="402.05" y1="193.00" x2="402.05" y2="194.00" stroke="#777" stroke-width="0.5" />
<rect x="400.45" y="194.70" width="3.20" height="1.30" fill="#b4b4b4" stroke="none" stroke-width="1" />
<line x1="410.00" y1="145.20" x2="463.30" y2="145.20" stroke="#999" stroke-width="0.8" />
<line x1="463.30" y1="145.20" x2="463.30" y2="193.00" stroke="#999" stroke-width="0.8" />
<line x1="410.00" y1="145.20" x2="410.00" y2="193.00" stroke="#888" stroke-width="0.8" />
<line x1="410.00" y1="193.00" x2="463.30" y2="193.00" stroke="#333" stroke-width="0.8" />
<line x1="409.00" y1="145.20" x2="410.00" y2="145.20" stroke="#777" stroke-width="0.5" />
<rect x="406.30" y="144.30" width="1.30" height="1.80" fill="#aaa" stroke="none" stroke-width="1" />
<line x1="409.00" y1="154.76" x2="410.00" y2="154.76" stroke="#777" stroke-width="0.5" />
<rect x="406.00" y="152.96" width="1.70" height="3.60" fill="#a8a8a8" stroke="none" stroke-width="1" />
<line x1="409.00" y1="164.32" x2="410.00" y2="164.32" stroke="#777" stroke-width="0.5" />
<rect x="406.00" y="162.52" width="1.70" height="3.60" fill="#a8a8a8" stroke="none" stroke-width="1" />
<line x1="409.00" y1="173.88" x2="410.00" y2="173.88" stroke="#777" stroke-width="0.5" />
<rect x="406.00" y="172.08" width="1.70" height="3.60" fill="#a8a8a8" stroke="none" stroke-width="1" />
<line x1="409.00" y1="183.44" x2="410.00" y2="183.44" stroke="#777" stroke-width="0.5" />
<rect x="406.00" y="181.64" width="1.70" height="3.60" fill="#a8a8a8" stroke="none" stroke-width="1" />
<line x1="409.00" y1="193.00" x2="410.00" y2="193.00" stroke="#777" stroke-width="0.5" />
<rect x="406.30" y="192.10" width="1.30" height="1.80" fill="#aaa" stroke="none" stroke-width="1" />
<line x1="410.00" y1="193.00" x2="410.00" y2="194.00" stroke="#777" stroke-width="0.5" />
<rect x="408.40" y="194.70" width="3.20" height="1.30" fill="#b4b4b4" stroke="none" stroke-width="1" />
<line x1="423.32" y1="193.00" x2="423.32" y2="194.00" stroke="#777" stroke-width="0.5" />
<rect x="421.72" y="194.70" width="3.20" height="1.30" fill="#b4b4b4" stroke="none" stroke-width="1" />
<line x1="436.65" y1="193.00" x2="436.65" y2="194.00" stroke="#777" stroke-width="0.5" />
<rect x="435.05" y="194.70" width="3.20" height="1.30" fill="#b4b4b4" stroke="none" stroke-width="1" />
<line x1="449.98" y1="193.00" x2="449.98" y2="194.00" stroke="#777" stroke-width="0.5" />
<rect x="448.38" y="194.70" width="3.20" height="1.30" fill="#b4b4b4" stroke="none" stroke-width="1" />
<line x1="463.30" y1="193.00" x2="463.30" y2="194.00" stroke="#777" stroke-width="0.5" />
<rect x="461.70" y="194.70" width="3.20" height="1.30" fill="#b4b4b4" stroke="none" stroke-width="1" />
<line x1="218.50" y1="200.05" x2="271.80" y2="200.05" stroke="#999" stroke-width="0.8" />
<line x1="271.80" y1="200.05" x2="271.80" y2="247.85" stroke="#999" stroke-width="0.8" />
<line x1="218.50" y1="200.05" x2="218.50" y2="247.85" stroke="#888" stroke-width="0.8" />
<line x1="218.50" y1="247.85" x2="271.80" y2="247.85" stroke="#333" stroke-width="0.8" />
<line x1="217.50" y1="200.05" x2="218.50" y2="200.05" stroke="#777" stroke-width="0.5" />
<rect x="214.80" y="199.15" width="1.30" height="1.80" fill="#aaa" stroke="none" stroke-width="1" />
<line x1="217.50" y1="209.61" x2="218.50" y2="209.61" stroke="#777" stroke-width="0.5" />
<rect x="214.50" y="207.81" width="1.70" height="3.60" fill="#a8a8a8" stroke="none" stroke-width="1" />
<line x1="217.50" y1="219.17" x2="218.50" y2="219.17" stroke="#777" stroke-width="0.5" />
<rect x="214.50" y="217.37" width="1.70" height="3.60" fill="#a8a8a8" stroke="none" stroke-width="1" />
<line x1="217.50" y1="228.73" x2="218.50" y2="228.73" stroke="#777" stroke-width="0.5" />
<rect x="214.50" y="226.93" width="1.70" height="3.60" fill="#a8a8a8" stroke="none" stroke-width="1" />
<line x1="217.50" y1="238.29" x2="218.50" y2="238.29" stroke="#777" stroke-width="0.5" />
<rect x="214.50" y="236.49" width="1.70" height="3.60" fill="#a8a8a8" stroke="none" stroke-width="1" />
<line x1="217.50" y1="247.85" x2="218.50" y2="247.85" stroke="#777" stroke-width="0.5" />
<rect x="214.80" y="246.95" width="1.30" height="1.80" fill="#aaa" stroke="none" stroke-width="1" />
<line x1="218.50" y1="247.85" x2="218.50" y2="248.85" stroke="#777" stroke-width="0.5" />
<rect x="216.90" y="249.55" width="3.20" height="1.30" fill="#b4b4b4" stroke="none" stroke-width="1" />
<line x1="231.82" y1="247.85" x2="231.82" y2="248.85" stroke="#777" stroke-width="0.5" />
<rect x="230.22" y="249.55" width="3.20" height="1.30" fill="#b4b4b4" stroke="none" stroke-width="1" />
<line x1="245.15" y1="247.85" x2="245.15" y2="248.85" stroke="#777" stroke-width="0.5" />
<rect x="243.55" y="249.55" width="3.20" height="1.30" fill="#b4b4b4" stroke="none" stroke-width="1" />
<line x1="258.48" y1="247.85" x2="258.48" y2="248.85" stroke="#777" stroke-width="0.5" />
<rect x="256.88" y="249.55" width="3.20" height="1.30" fill="#b4b4b4" stroke="none" stroke-width="1" />
<line x1="271.80" y1="247.85" x2="271.80" y2="248.85" stroke="#777" stroke-width="0.5" />
<rect x="270.20" y="249.55" width="3.20" height="1.30" fill="#b4b4b4" stroke="none" stroke-width="1" />
<line x1="279.50" y1="200.05" x2="332.50" y2="200.05" stroke="#999" stroke-width="0.8" />
<line x1="332.50" y1="200.05" x2="332.50" y2="247.85" stroke="#999" stroke-width="0.8" />
<line x1="279.50" y1="200.05" x2="279.50" y2="247.85" stroke="#888" stroke-width="0.8" />
<line x1="279.50" y1="247.85" x2="332.50" y2="247.85" stroke="#333" stroke-width="0.8" />
<line x1="278.50" y1="200.05" x2="279.50" y2="200.05" stroke="#777" stroke-width="0.5" />
<rect x="275.80" y="199.15" width="1.30" height="1.80" fill="#aaa" stroke="none" stroke-width="1" />
<line x1="278.50" y1="209.61" x2="279.50" y2="209.61" stroke="#777" stroke-width="0.5" />
<rect x="275.50" y="207.81" width="1.70" height="3.60" fill="#a8a8a8" stroke="none" stroke-width="1" />
<line x1="278.50" y1="219.17" x2="279.50" y2="219.17" stroke="#777" stroke-width="0.5" />
<rect x="275.50" y="217.37" width="1.70" height="3.60" fill="#a8a8a8" stroke="none" stroke-width="1" />
<line x1="278.50" y1="228.73" x2="279.50" y2="228.73" stroke="#777" stroke-width="0.5" />
<rect x="275.50" y="226.93" width="1.70" height="3.60" fill="#a8a8a8" stroke="none" stroke-width="1" />
<line x1="278.50" y1="238.29" x2="279.50" y2="238.29" stroke="#777" stroke-width="0.5" />
<rect x="275.50" y="236.49" width="1.70" height="3.60" fill="#a8a8a8" stroke="none" stroke-width="1" />
<line x1="278.50" y1="247.85" x2="279.50" y2="247.85" stroke="#777" stroke-width="0.5" />
<rect x="275.80" y="246.95" width="1.30" height="1.80" fill="#aaa" stroke="none" stroke-width="1" />
<line x1="279.50" y1="247.85" x2="279.50" y2="248.85" stroke="#777" stroke-width="0.5" />
<rect x="277.90" y="249.55" width="3.20" height="1.30" fill="#b4b4b4" stroke="none" stroke-width="1" />
<line x1="292.75" y1="247.85" x2="292.75" y2="248.85" stroke="#777" stroke-width="0.5" />
<rect x="291.15" y="249.55" width="3.20" height="1.30" fill="#b4b4b4" stroke="none" stroke-width="1" />
<line x1="306.00" y1="247.85" x2="306.00" y2="248.85" stroke="#777" stroke-width="0.5" />
<rect x="304.40" y="249.55" width="3.20" height="1.30" fill="#b4b4b4" stroke="none" stroke-width="1" />
<line x1="319.25" y1="247.85" x2="319.25" y2="248.85" stroke="#777" stroke-width="0.5" />
<rect x="317.65" y="249.55" width="3.20" height="1.30" fill="#b4b4b4" stroke="none" stroke-width="1" />
<line x1="332.50" y1="247.85" x2="332.50" y2="248.85" stroke="#777" stroke-width="0.5" />
<rect x="330.90" y="249.55" width="3.20" height="1.30" fill="#b4b4b4" stroke="none" stroke-width="1" />
<line x1="348.75" y1="200.05" x2="402.05" y2="200.05" stroke="#999" stroke-width="0.8" />
<line x1="402.05" y1="200.05" x2="402.05" y2="247.85" stroke="#999" stroke-width="0.8" />
<line x1="348.75" y1="200.05" x2="348.75" y2="247.85" stroke="#888" stroke-width="0.8" />
<line x1="348.75" y1="247.85" x2="402.05" y2="247.85" stroke="#333" stroke-width="0.8" />
<line x1="347.75" y1="200.05" x2="348.75" y2="200.05" stroke="#777" stroke-width="0.5" />
<rect x="345.05" y="199.15" width="1.30" height="1.80" fill="#aaa" stroke="none" stroke-width="1" />
<line x1="347.75" y1="209.61" x2="348.75" y2="209.61" stroke="#777" stroke-width="0.5" />
<rect x="344.75" y="207.81" width="1.70" height="3.60" fill="#a8a8a8" stroke="none" stroke-width="1" />
<line x1="347.75" y1="219.17" x2="348.75" y2="219.17" stroke="#777" stroke-width="0.5" />
<rect x="344.75" y="217.37" width="1.70" height="3.60" fill="#a8a8a8" stroke="none" stroke-width="1" />
<line x1="347.75" y1="228.73" x2="348.75" y2="228.73" stroke="#777" stroke-width="0.5" />
<rect x="344.75" y="226.93" width="1.70" height="3.60" fill="#a8a8a8" stroke="none" stroke-width="1" />
<line x1="347.75" y1="238.29" x2="348.75" y2="238.29" stroke="#777" stroke-width="0.5" />
<rect x="344.75" y="236.49" width="1.70" height="3.60" fill="#a8a8a8" stroke="none" stroke-width="1" />
<line x1="347.75" y1="247.85" x2="348.75" y2="247.85" stroke="#777" stroke-width="0.5" />
<rect x="345.05" y="246.95" width="1.30" height="1.80" fill="#aaa" stroke="none" stroke-width="1" />
<line x1="348.75" y1="247.85" x2="348.75" y2="248.85" stroke="#777" stroke-width="0.5" />
<rect x="347.15" y="249.55" width="3.20" height="1.30" fill="#b4b4b4" stroke="none" stroke-width="1" />
<line x1="362.07" y1="247.85" x2="362.07" y2="248.85" stroke="#777" stroke-width="0.5" />
<rect x="360.47" y="249.55" width="3.20" height="1.30" fill="#b4b4b4" stroke="none" stroke-width="1" />
<line x1="375.40" y1="247.85" x2="375.40" y2="248.85" stroke="#777" stroke-width="0.5" />
<rect x="373.80" y="249.55" width="3.20" height="1.30" fill="#b4b4b4" stroke="none" stroke-width="1" />
<line x1="388.73" y1="247.85" x2="388.73" y2="248.85" stroke="#777" stroke-width="0.5" />
<rect x="387.12" y="249.55" width="3.20" height="1.30" fill="#b4b4b4" stroke="none" stroke-width="1" />
<line x1="402.05" y1="247.85" x2="402.05" y2="248.85" stroke="#777" stroke-width="0.5" />
<rect x="400.45" y="249.55" width="3.20" height="1.30" fill="#b4b4b4" stroke="none" stroke-width="1" />
<line x1="410.00" y1="200.05" x2="463.30" y2="200.05" stroke="#999" stroke-width="0.8" />
<line x1="463.30" y1="200.05" x2="463.30" y2="247.85" stroke="#999" stroke-width="0.8" />
<line x1="410.00" y1="200.05" x2="410.00" y2="247.85" stroke="#888" stroke-width="0.8" />
<line x1="410.00" y1="247.85" x2="463.30" y2="247.85" stroke="#333" stroke-width="0.8" />
<line x1="409.00" y1="200.05" x2="410.00" y2="200.05" stroke="#777" stroke-width="0.5" />
<rect x="406.30" y="199.15" width="1.30" height="1.80" fill="#aaa" stroke="none" stroke-width="1" />
<line x1="409.00" y1="209.61" x2="410.00" y2="209.61" stroke="#777" stroke-width="0.5" />
<rect x="406.00" y="207.81" width="1.70" height="3.60" fill="#a8a8a8" stroke="none" stroke-width="1" />
<line x1="409.00" y1="219.17" x2="410.00" y2="219.17" stroke="#777" stroke-width="0.5" />
<rect x="406.00" y="217.37" width="1.70" height="3.60" fill="#a8a8a8" stroke="none" stroke-width="1" />
<line x1="409.00" y1="228.73" x2="410.00" y2="228.73" stroke="#777" stroke-width="0.5" />
<rect x="406.00" y="226.93" width="1.70" height="3.60" fill="#a8a8a8" stroke="none" stroke-width="1" />
<line x1="409.00" y1="238.29" x2="410.00" y2="238.29" stroke="#777" stroke-width="0.5" />
<rect x="406.00" y="236.49" width="1.70" height="3.60" fill="#a8a8a8" stroke="none" stroke-width="1" />
<line x1="409.00" y1="247.85" x2="410.00" y2="247.85" stroke="#777" stroke-width="0.5" />
<rect x="406.30" y="246.95" width="1.30" height="1.80" fill="#aaa" stroke="none" stroke-width="1" />
<line x1="410.00" y1="247.85" x2="410.00" y2="248.85" stroke="#777" stroke-width="0.5" />
<rect x="408.40" y="249.55" width="3.20" height="1.30" fill="#b4b4b4" stroke="none" stroke-width="1" />
<line x1="423.32" y1="247.85" x2="423.32" y2="248.85" stroke="#777" stroke-width="0.5" />
<rect x="421.72" y="249.55" width="3.20" height="1.30" fill="#b4b4b4" stroke="none" stroke-width="1" />
<line x1="436.65" y1="247.85" x2="436.65" y2="248.85" stroke="#777" stroke-width="0.5" />
<rect x="435.05" y="249.55" width="3.20" height="1.30" fill="#b4b4b4" stroke="none" stroke-width="1" />
<line x1="449.98" y1="247.85" x2="449.98" y2="248.85" stroke="#777" stroke-width="0.5" />
<rect x="448.38" y="249.55" width="3.20" height="1.30" fill="#b4b4b4" stroke="none" stroke-width="1" />
<line x1="463.30" y1="247.85" x2="463.30" y2="248.85" stroke="#777" stroke-width="0.5" />
<rect x="461.70" y="249.55" width="3.20" height="1.30" fill="#b4b4b4" stroke="none" stroke-width="1" />
<line x1="218.50" y1="254.90" x2="271.80" y2="254.90" stroke="#999" stroke-width="0.8" />
<line x1="271.80" y1="254.90" x2="271.80" y2="302.70" stroke="#999" stroke-width="0.8" />
<line x1="218.50" y1="254.90" x2="218.50" y2="302.70" stroke="#888" stroke-width="0.8" />
<line x1="218.50" y1="302.70" x2="271.80" y2="302.70" stroke="#333" stroke-width="0.8" />
<line x1="217.50" y1="254.90" x2="218.50" y2="254.90" stroke="#777" stroke-width="0.5" />
<rect x="214.80" y="254.00" width="1.30" height="1.80" fill="#aaa" stroke="none" stroke-width="1" />
<line x1="217.50" y1="264.46" x2="218.50" y2="264.46" stroke="#777" stroke-width="0.5" />
<rect x="214.50" y="262.66" width="1.70" height="3.60" fill="#a8a8a8" stroke="none" stroke-width="1" />
<line x1="217.50" y1="274.02" x2="218.50" y2="274.02" stroke="#777" stroke-width="0.5" />
<rect x="214.50" y="272.22" width="1.70" height="3.60" fill="#a8a8a8" stroke="none" stroke-width="1" />
<line x1="217.50" y1="283.58" x2="218.50" y2="283.58" stroke="#777" stroke-width="0.5" />
<rect x="214.50" y="281.78" width="1.70" height="3.60" fill="#a8a8a8" stroke="none" stroke-width="1" />
<line x1="217.50" y1="293.14" x2="218.50" y2="293.14" stroke="#777" stroke-width="0.5" />
<rect x="214.50" y="291.34" width="1.70" height="3.60" fill="#a8a8a8" stroke="none" stroke-width="1" />
<line x1="217.50" y1="302.70" x2="218.50" y2="302.70" stroke="#777" stroke-width="0.5" />
<rect x="214.80" y="301.80" width="1.30" height="1.80" fill="#aaa" stroke="none" stroke-width="1" />
<line x1="218.50" y1="302.70" x2="218.50" y2="303.70" stroke="#777" stroke-width="0.5" />
<rect x="216.90" y="304.40" width="3.20" height="1.30" fill="#b4b4b4" stroke="none" stroke-width="1" />
<line x1="231.82" y1="302.70" x2="231.82" y2="303.70" stroke="#777" stroke-width="0.5" />
<rect x="230.22" y="304.40" width="3.20" height="1.30" fill="#b4b4b4" stroke="none" stroke-width="1" />
<line x1="245.15" y1="302.70" x2="245.15" y2="303.70" stroke="#777" stroke-width="0.5" />
<rect x="243.55" y="304.40" width="3.20" height="1.30" fill="#b4b4b4" stroke="none" stroke-width="1" />
<line x1="258.48" y1="302.70" x2="258.48" y2="303.70" stroke="#777" stroke-width="0.5" />
<rect x="256.88" y="304.40" width="3.20" height="1.30" fill="#b4b4b4" stroke="none" stroke-width="1" />
<line x1="271.80" y1="302.70" x2="271.80" y2="303.70" stroke="#777" stroke-width="0.5" />
<rect x="270.20" y="304.40" width="3.20" height="1.30" fill="#b4b4b4" stroke="none" stroke-width="1" />
<line x1="279.50" y1="254.90" x2="332.50" y2="254.90" stroke="#999" stroke-width="0.8" />
<line x1="332.50" y1="254.90" x2="332.50" y2="302.70" stroke="#999" stroke-width="0.8" />
<line x1="279.50" y1="254.90" x2="279.50" y2="302.70" stroke="#888" stroke-width="0.8" />
<line x1="279.50" y1="302.70" x2="332.50" y2="302.70" stroke="#333" stroke-width="0.8" />
<line x1="278.50" y1="254.90" x2="279.50" y2="254.90" stroke="#777" stroke-width="0.5" />
<rect x="275.80" y="254.00" width="1.30" height="1.80" fill="#aaa" stroke="none" stroke-width="1" />
<line x1="278.50" y1="264.46" x2="279.50" y2="264.46" stroke="#777" stroke-width="0.5" />
<rect x="275.50" y="262.66" width="1.70" height="3.60" fill="#a8a8a8" stroke="none" stroke-width="1" />
<line x1="278.50" y1="274.02" x2="279.50" y2="274.02" stroke="#777" stroke-width="0.5" />
<rect x="275.50" y="272.22" width="1.70" height="3.60" fill="#a8a8a8" stroke="none" stroke-width="1" />
<line x1="278.50" y1="283.58" x2="279.50" y2="283.58" stroke="#777" stroke-width="0.5" />
<rect x="275.50" y="281.78" width="1.70" height="3.60" fill="#a8a8a8" stroke="none" stroke-width="1" />
<line x1="278.50" y1="293.14" x2="279.50" y2="293.14" stroke="#777" stroke-width="0.5" />
<rect x="275.50" y="291.34" width="1.70" height="3.60" fill="#a8a8a8" stroke="none" stroke-width="1" />
<line x1="278.50" y1="302.70" x2="279.50" y2="302.70" stroke="#777" stroke-width="0.5" />
<rect x="275.80" y="301.80" width="1.30" height="1.80" fill="#aaa" stroke="none" stroke-width="1" />
<line x1="279.50" y1="302.70" x2="279.50" y2="303.70" stroke="#777" stroke-width="0.5" />
<rect x="277.90" y="304.40" width="3.20" height="1.30" fill="#b4b4b4" stroke="none" stroke-width="1" />
<line x1="292.75" y1="302.70" x2="292.75" y2="303.70" stroke="#777" stroke-width="0.5" />
<rect x="291.15" y="304.40" width="3.20" height="1.30" fill="#b4b4b4" stroke="none" stroke-width="1" />
<line x1="306.00" y1="302.70" x2="306.00" y2="303.70" stroke="#777" stroke-width="0.5" />
<rect x="304.40" y="304.40" width="3.20" height="1.30" fill="#b4b4b4" stroke="none" stroke-width="1" />
<line x1="319.25" y1="302.70" x2="319.25" y2="303.70" stroke="#777" stroke-width="0.5" />
<rect x="317.65" y="304.40" width="3.20" height="1.30" fill="#b4b4b4" stroke="none" stroke-width="1" />
<line x1="332.50" y1="302.70" x2="332.50" y2="303.70" stroke="#777" stroke-width="0.5" />
<rect x="330.90" y="304.40" width="3.20" height="1.30" fill="#b4b4b4" stroke="none" stroke-width="1" />
<line x1="348.75" y1="254.90" x2="402.05" y2="254.90" stroke="#999" stroke-width="0.8" />
<line x1="402.05" y1="254.90" x2="402.05" y2="302.70" stroke="#999" stroke-width="0.8" />
<line x1="348.75" y1="254.90" x2="348.75" y2="302.70" stroke="#888" stroke-width="0.8" />
<line x1="348.75" y1="302.70" x2="402.05" y2="302.70" stroke="#333" stroke-width="0.8" />
<line x1="347.75" y1="254.90" x2="348.75" y2="254.90" stroke="#777" stroke-width="0.5" />
<rect x="345.05" y="254.00" width="1.30" height="1.80" fill="#aaa" stroke="none" stroke-width="1" />
<line x1="347.75" y1="264.46" x2="348.75" y2="264.46" stroke="#777" stroke-width="0.5" />
<rect x="344.75" y="262.66" width="1.70" height="3.60" fill="#a8a8a8" stroke="none" stroke-width="1" />
<line x1="347.75" y1="274.02" x2="348.75" y2="274.02" stroke="#777" stroke-width="0.5" />
<rect x="344.75" y="272.22" width="1.70" height="3.60" fill="#a8a8a8" stroke="none" stroke-width="1" />
<line x1="347.75" y1="283.58" x2="348.75" y2="283.58" stroke="#777" stroke-width="0.5" />
<rect x="344.75" y="281.78" width="1.70" height="3.60" fill="#a8a8a8" stroke="none" stroke-width="1" />
<line x1="347.75" y1="293.14" x2="348.75" y2="293.14" stroke="#777" stroke-width="0.5" />
<rect x="344.75" y="291.34" width="1.70" height="3.60" fill="#a8a8a8" stroke="none" stroke-width="1" />
<line x1="347.75" y1="302.70" x2="348.75" y2="302.70" stroke="#777" stroke-width="0.5" />
<rect x="345.05" y="301.80" width="1.30" height="1.80" fill="#aaa" stroke="none" stroke-width="1" />
<line x1="348.75" y1="302.70" x2="348.75" y2="303.70" stroke="#777" stroke-width="0.5" />
<rect x="347.15" y="304.40" width="3.20" height="1.30" fill="#b4b4b4" stroke="none" stroke-width="1" />
<line x1="362.07" y1="302.70" x2="362.07" y2="303.70" stroke="#777" stroke-width="0.5" />
<rect x="360.47" y="304.40" width="3.20" height="1.30" fill="#b4b4b4" stroke="none" stroke-width="1" />
<line x1="375.40" y1="302.70" x2="375.40" y2="303.70" stroke="#777" stroke-width="0.5" />
<rect x="373.80" y="304.40" width="3.20" height="1.30" fill="#b4b4b4" stroke="none" stroke-width="1" />
<line x1="388.73" y1="302.70" x2="388.73" y2="303.70" stroke="#777" stroke-width="0.5" />
<rect x="387.12" y="304.40" width="3.20" height="1.30" fill="#b4b4b4" stroke="none" stroke-width="1" />
<line x1="402.05" y1="302.70" x2="402.05" y2="303.70" stroke="#777" stroke-width="0.5" />
<rect x="400.45" y="304.40" width="3.20" height="1.30" fill="#b4b4b4" stroke="none" stroke-width="1" />
<line x1="410.00" y1="254.90" x2="463.30" y2="254.90" stroke="#999" stroke-width="0.8" />
<line x1="463.30" y1="254.90" x2="463.30" y2="302.70" stroke="#999" stroke-width="0.8" />
<line x1="410.00" y1="254.90" x2="410.00" y2="302.70" stroke="#888" stroke-width="0.8" />
<line x1="410.00" y1="302.70" x2="463.30" y2="302.70" stroke="#333" stroke-width="0.8" />
<line x1="409.00" y1="254.90" x2="410.00" y2="254.90" stroke="#777" stroke-width="0.5" />
<rect x="406.30" y="254.00" width="1.30" height="1.80" fill="#aaa" stroke="none" stroke-width="1" />
<line x1="409.00" y1="264.46" x2="410.00" y2="264.46" stroke="#777" stroke-width="0.5" />
<rect x="406.00" y="262.66" width="1.70" height="3.60" fill="#a8a8a8" stroke="none" stroke-width="1" />
<line x1="409.00" y1="274.02" x2="410.00" y2="274.02" stroke="#777" stroke-width="0.5" />
<rect x="406.00" y="272.22" width="1.70" height="3.60" fill="#a8a8a8" stroke="none" stroke-width="1" />
<line x1="409.00" y1="283.58" x2="410.00" y2="283.58" stroke="#777" stroke-width="0.5" />
<rect x="406.00" y="281.78" width="1.70" height="3.60" fill="#a8a8a8" stroke="none" stroke-width="1" />
<line x1="409.00" y1="293.14" x2="410.00" y2="293.14" stroke="#777" stroke-width="0.5" />
<rect x="406.00" y="291.34" width="1.70" height="3.60" fill="#a8a8a8" stroke="none" stroke-width="1" />
<line x1="409.00" y1="302.70" x2="410.00" y2="302.70" stroke="#777" stroke-width="0.5" />
<rect x="406.30" y="301.80" width="1.30" height="1.80" fill="#aaa" stroke="none" stroke-width="1" />
<line x1="410.00" y1="302.70" x2="410.00" y2="303.70" stroke="#777" stroke-width="0.5" />
<rect x="408.40" y="304.40" width="3.20" height="1.30" fill="#b4b4b4" stroke="none" stroke-width="1" />
<line x1="423.32" y1="302.70" x2="423.32" y2="303.70" stroke="#777" stroke-width="0.5" />
<rect x="421.72" y="304.40" width="3.20" height="1.30" fill="#b4b4b4" stroke="none" stroke-width="1" />
<line x1="436.65" y1="302.70" x2="436.65" y2="303.70" stroke="#777" stroke-width="0.5" />
<rect x="435.05" y="304.40" width="3.20" height="1.30" fill="#b4b4b4" stroke="none" stroke-width="1" />
<line x1="449.98" y1="302.70" x2="449.98" y2="303.70" stroke="#777" stroke-width="0.5" />
<rect x="448.38" y="304.40" width="3.20" height="1.30" fill="#b4b4b4" stroke="none" stroke-width="1" />
<line x1="463.30" y1="302.70" x2="463.30" y2="303.70" stroke="#777" stroke-width="0.5" />
<rect x="461.70" y="304.40" width="3.20" height="1.30" fill="#b4b4b4" stroke="none" stroke-width="1" />
<path d="M219.00,83.30 L219.00,83.30 L219.25,83.30 L219.50,83.30 L219.75,83.30 L220.00,83.30 L220.25,83.30 L220.50,83.30 L220.75,83.30 L221.00,83.30 L221.25,83.30 L221.50,83.30 L221.75,83.30 L222.00,83.30 L222.25,83.30 L222.50,83.30 L222.75,83.30 L223.00,83.30 L223.25,83.30 L223.50,83.30 L223.75,83.30 L224.00,83.30 L224.25,83.30 L224.50,83.30 L224.75,82.80 L225.00,82.80 L225.25,82.80 L225.50,82.80 L225.75,82.80 L226.00,82.80 L226.25,82.80 L226.50,82.80 L226.75,82.80 L227.00,82.80 L227.25,82.80 L227.50,82.80 L227.75,82.80 L228.00,82.80 L228.25,82.80 L228.50,82.80 L228.75,82.80 L229.00,82.80 L229.25,82.80 L229.50,82.80 L229.75,82.80 L230.00,82.80 L230.25,82.80 L230.50,82.80 L230.75,82.80 L231.00,82.80 L231.25,82.80 L231.50,82.80 L231.75,82.80 L232.00,82.80 L232.25,82.80 L232.50,82.80 L232.75,82.80 L233.00,82.79 L233.25,82.79 L233.50,82.79 L233.75,82.79 L234.00,82.79 L234.25,82.79 L234.50,82.79 L234.75,82.78 L235.00,82.78 L235.25,82.78 L235.50,82.77 L235.75,82.77 L236.00,82.77 L236.25,82.76 L236.50,82.76 L236.75,82.75 L237.00,82.74 L237.25,82.73 L237.50,82.72 L237.75,82.71 L238.00,82.70 L238.25,82.69 L238.50,82.67 L238.75,82.66 L239.00,82.64 L239.25,82.62 L239.50,82.60 L239.75,82.57 L240.00,82.55 L240.25,82.52 L240.50,82.49 L240.75,82.45 L241.00,82.42 L241.25,82.38 L241.50,82.34 L241.75,82.29 L242.00,82.24 L242.25,82.19 L242.50,82.14 L242.75,82.08 L243.00,82.02 L243.25,81.96 L243.50,81.89 L243.75,81.82 L244.00,81.75 L244.25,81.68 L244.50,81.60 L244.75,81.52 L245.00,81.44 L245.25,81.35 L245.50,81.27 L245.75,81.18 L246.00,81.09 L246.25,81.01 L246.50,80.92 L246.75,80.83 L247.00,80.74 L247.25,80.66 L247.50,80.57 L247.75,80.49 L248.00,80.41 L248.25,80.34 L248.50,80.26 L248.75,80.20 L249.00,80.13 L249.25,80.07 L249.50,80.02 L249.75,79.97 L250.00,79.92 L250.25,79.89 L250.50,79.86 L250.75,79.83 L251.00,79.81 L251.25,79.80 L251.50,79.80 L251.75,79.82 L252.00,79.87 L252.25,79.96 L252.50,80.08 L252.75,80.23 L253.00,80.40 L253.25,80.58 L253.50,80.78 L253.75,80.98 L254.00,81.18 L254.25,81.38 L254.50,81.57 L254.75,81.74 L255.00,81.91 L255.25,82.05 L255.50,82.18 L255.75,82.30 L256.00,82.39 L256.25,82.48 L256.50,82.55 L256.75,82.60 L257.00,82.65 L257.25,82.69 L257.50,82.71 L257.75,82.74 L258.00,82.75 L258.25,82.77 L258.50,82.78 L258.75,82.78 L259.00,82.79 L259.25,82.79 L259.50,82.79 L259.75,82.80 L260.00,82.80 L260.25,82.80 L260.50,82.80 L260.75,82.80 L261.00,82.80 L261.25,82.80 L261.50,82.80 L261.75,81.90 L262.00,81.91 L262.25,81.93 L262.50,81.96 L262.75,81.99 L263.00,82.03 L263.25,82.08 L263.50,82.13 L263.75,82.18 L264.00,82.23 L264.25,82.29 L264.50,82.34 L264.75,82.39 L265.00,82.44 L265.25,82.49 L265.50,82.53 L265.75,82.57 L266.00,82.61 L266.25,82.64 L266.50,82.67 L266.75,83.19 L267.00,83.21 L267.25,83.23 L267.50,83.24 L267.75,83.26 L268.00,83.27 L268.25,83.27 L268.50,83.28 L268.75,83.28 L269.00,83.29 L269.25,83.29 L269.50,83.29 L269.75,83.30 L270.00,83.30 L270.25,83.30 L270.50,83.30 L270.75,83.30 L271.00,83.30 L271.25,83.30 L271.30,83.30 Z" fill="#000"/>
<path d="M260.60,83.30 L261.15,35.80 L262.05,35.80 L262.60,83.30 Z" fill="#000"/>
<line x1="232.50" y1="68.10" x2="261.00" y2="68.10" stroke="#777" stroke-width="0.9" />
<line x1="232.50" y1="66.10" x2="232.50" y2="70.10" stroke="#777" stroke-width="0.9" />
<line x1="261.00" y1="66.10" x2="261.00" y2="70.10" stroke="#777" stroke-width="0.9" />
<text x="231.90" y="59.30" font-family="'Liberation Serif', 'Times New Roman', serif" font-size="12.6" text-anchor="start" font-weight="normal" fill="#111" textLength="21.60" lengthAdjust="spacingAndGlyphs"  stroke="#111" stroke-width="0.20">62.2</text>
<path d="M280.00,83.30 L280.00,83.30 L280.25,83.30 L280.50,83.30 L280.75,83.30 L281.00,83.30 L281.25,83.30 L281.50,83.30 L281.75,83.30 L282.00,83.30 L282.25,83.30 L282.50,83.30 L282.75,83.30 L283.00,83.30 L283.25,83.30 L283.50,83.30 L283.75,83.30 L284.00,83.30 L284.25,83.30 L284.50,83.30 L284.75,83.30 L285.00,83.30 L285.25,83.30 L285.50,83.30 L285.75,83.30 L286.00,83.30 L286.25,83.30 L286.50,83.30 L286.75,83.30 L287.00,83.30 L287.25,83.30 L287.50,83.30 L287.75,83.30 L288.00,83.30 L288.25,83.30 L288.50,83.30 L288.75,83.30 L289.00,83.30 L289.25,83.30 L289.50,83.30 L289.75,83.30 L290.00,83.30 L290.25,83.30 L290.50,83.30 L290.75,83.30 L291.00,83.30 L291.25,83.30 L291.50,83.30 L291.75,83.30 L292.00,83.30 L292.25,83.30 L292.50,83.30 L292.75,83.30 L293.00,82.30 L293.25,82.30 L293.50,82.30 L293.75,82.30 L294.00,82.30 L294.25,82.30 L294.50,82.30 L294.75,82.30 L295.00,82.30 L295.25,82.30 L295.50,82.30 L295.75,82.30 L296.00,75.08 L296.25,76.75 L296.50,78.08 L296.75,79.14 L297.00,79.99 L297.25,80.66 L297.50,81.20 L297.75,81.63 L298.00,81.97 L298.25,82.24 L298.50,82.45 L298.75,82.63 L299.00,82.62 L299.25,82.62 L299.50,82.65 L299.75,82.66 L300.00,82.63 L300.25,82.58 L300.50,82.57 L300.75,82.60 L301.00,82.64 L301.25,82.64 L301.50,82.61 L301.75,82.61 L302.00,82.65 L302.25,82.70 L302.50,82.71 L302.75,82.68 L303.00,82.65 L303.25,82.67 L303.50,82.70 L303.75,82.71 L304.00,82.66 L304.25,82.62 L304.50,82.61 L304.75,82.65 L305.00,82.67 L305.25,82.64 L305.50,82.61 L305.75,82.61 L306.00,82.66 L306.25,82.70 L306.50,82.70 L306.75,82.68 L307.00,82.67 L307.25,82.71 L307.50,82.75 L307.75,82.74 L308.00,82.70 L308.25,82.66 L308.50,82.67 L308.75,82.70 L309.00,82.70 L309.25,82.66 L309.50,82.62 L309.75,82.63 L310.00,82.68 L310.25,82.71 L310.50,82.69 L310.75,82.67 L311.00,82.68 L311.25,82.73 L311.50,82.77 L311.75,82.76 L312.00,82.72 L312.25,82.71 L312.50,82.73 L312.75,82.76 L313.00,82.74 L313.25,82.69 L313.50,82.66 L313.75,82.67 L314.00,82.71 L314.25,82.72 L314.50,82.69 L314.75,82.66 L315.00,82.69 L315.25,82.74 L315.50,82.77 L315.75,82.76 L316.00,82.73 L316.25,82.74 L316.50,82.78 L316.75,82.80 L317.00,82.78 L317.25,82.73 L317.50,82.71 L317.75,82.73 L318.00,82.75 L318.25,82.74 L318.50,82.70 L318.75,82.68 L319.00,82.70 L319.25,82.75 L319.50,82.77 L319.75,82.75 L320.00,82.73 L320.25,82.76 L320.50,82.81 L320.75,82.83 L321.00,82.80 L321.25,82.76 L321.50,82.76 L321.75,82.78 L322.00,82.79 L322.25,82.74 L322.50,82.67 L322.75,82.62 L323.00,82.59 L323.25,82.56 L323.50,82.47 L323.75,82.35 L324.00,82.26 L324.25,82.25 L324.50,82.28 L324.75,82.32 L325.00,82.34 L325.25,82.40 L325.50,82.51 L325.75,82.63 L326.00,83.18 L326.25,83.25 L326.50,83.28 L326.75,83.29 L327.00,83.30 L327.25,83.30 L327.50,83.30 L327.75,83.30 L328.00,83.30 L328.25,83.30 L328.50,83.30 L328.75,83.30 L329.00,83.30 L329.25,83.30 L329.50,83.30 L329.75,83.30 L330.00,83.30 L330.25,83.30 L330.50,83.30 L330.75,83.30 L331.00,83.30 L331.25,83.30 L331.50,83.30 L331.75,83.30 L332.00,83.30 L332.00,83.30 Z" fill="#000"/>
<path d="M294.75,83.30 L295.45,35.80 L296.35,35.80 L297.35,83.30 Z" fill="#000"/>
<line x1="299.30" y1="64.30" x2="329.30" y2="64.30" stroke="#777" stroke-width="0.9" />
<line x1="299.30" y1="62.30" x2="299.30" y2="66.30" stroke="#777" stroke-width="0.9" />
<line x1="329.30" y1="62.30" x2="329.30" y2="66.30" stroke="#777" stroke-width="0.9" />
<text x="311.30" y="59.60" font-family="'Liberation Serif', 'Times New Roman', serif" font-size="12.6" text-anchor="start" font-weight="normal" fill="#111" textLength="15.70" lengthAdjust="spacingAndGlyphs"  stroke="#111" stroke-width="0.20">3.2</text>
<path d="M349.25,83.30 L349.25,83.30 L349.50,83.30 L349.75,83.30 L350.00,83.30 L350.25,83.30 L350.50,83.30 L350.75,83.30 L351.00,83.30 L351.25,83.30 L351.50,83.30 L351.75,83.30 L352.00,83.30 L352.25,83.30 L352.50,83.30 L352.75,83.30 L353.00,83.30 L353.25,83.30 L353.50,83.30 L353.75,83.30 L354.00,83.30 L354.25,83.30 L354.50,83.30 L354.75,83.30 L355.00,82.80 L355.25,82.80 L355.50,82.80 L355.75,82.80 L356.00,82.80 L356.25,82.80 L356.50,82.80 L356.75,82.80 L357.00,82.80 L357.25,82.80 L357.50,82.80 L357.75,82.80 L358.00,82.80 L358.25,82.80 L358.50,82.80 L358.75,82.80 L359.00,82.80 L359.25,82.80 L359.50,82.80 L359.75,82.80 L360.00,82.80 L360.25,82.80 L360.50,82.80 L360.75,82.80 L361.00,82.80 L361.25,82.80 L361.50,82.80 L361.75,82.80 L362.00,82.80 L362.25,82.80 L362.50,82.80 L362.75,82.80 L363.00,82.80 L363.25,82.80 L363.50,82.80 L363.75,82.80 L364.00,82.80 L364.25,82.79 L364.50,82.79 L364.75,82.79 L365.00,82.79 L365.25,82.79 L365.50,82.79 L365.75,82.79 L366.00,82.78 L366.25,82.78 L366.50,82.78 L366.75,82.77 L367.00,82.77 L367.25,82.76 L367.50,82.76 L367.75,82.75 L368.00,82.74 L368.25,82.74 L368.50,82.73 L368.75,82.72 L369.00,82.71 L369.25,82.69 L369.50,82.68 L369.75,82.67 L370.00,82.65 L370.25,82.63 L370.50,82.61 L370.75,82.59 L371.00,82.56 L371.25,82.54 L371.50,82.51 L371.75,82.48 L372.00,82.44 L372.25,82.41 L372.50,82.37 L372.75,82.33 L373.00,82.28 L373.25,82.23 L373.50,82.18 L373.75,82.13 L374.00,82.07 L374.25,82.01 L374.50,81.95 L374.75,81.89 L375.00,81.82 L375.25,81.75 L375.50,81.68 L375.75,81.60 L376.00,81.53 L376.25,81.45 L376.50,81.37 L376.75,81.29 L377.00,81.21 L377.25,81.13 L377.50,81.04 L377.75,80.96 L378.00,80.88 L378.25,80.80 L378.50,80.72 L378.75,80.65 L379.00,80.57 L379.25,80.50 L379.50,80.43 L379.75,80.37 L380.00,80.31 L380.25,80.25 L380.50,80.20 L380.75,80.16 L381.00,80.12 L381.25,80.08 L381.50,80.05 L381.75,80.03 L382.00,80.01 L382.25,80.00 L382.50,80.00 L382.75,80.02 L383.00,80.07 L383.25,80.15 L383.50,80.26 L383.75,80.40 L384.00,80.56 L384.25,80.73 L384.50,80.91 L384.75,81.10 L385.00,81.29 L385.25,81.47 L385.50,81.65 L385.75,81.81 L386.00,81.96 L386.25,82.10 L386.50,82.22 L386.75,82.33 L387.00,82.42 L387.25,82.50 L387.50,82.56 L387.75,82.62 L388.00,82.66 L388.25,82.69 L388.50,82.72 L388.75,82.74 L389.00,82.76 L389.25,82.77 L389.50,82.78 L389.75,82.78 L390.00,82.79 L390.25,82.79 L390.50,82.79 L390.75,82.80 L391.00,82.80 L391.25,82.80 L391.50,82.80 L391.75,82.80 L392.00,81.96 L392.25,81.97 L392.50,81.99 L392.75,82.02 L393.00,82.05 L393.25,82.09 L393.50,82.13 L393.75,82.18 L394.00,82.23 L394.25,82.28 L394.50,82.33 L394.75,82.38 L395.00,82.43 L395.25,82.48 L395.50,82.52 L395.75,82.56 L396.00,82.60 L396.25,82.63 L396.50,82.66 L396.75,82.68 L397.00,83.20 L397.25,83.22 L397.50,83.24 L397.75,83.25 L398.00,83.26 L398.25,83.27 L398.50,83.28 L398.75,83.28 L399.00,83.29 L399.25,83.29 L399.50,83.29 L399.75,83.29 L400.00,83.30 L400.25,83.30 L400.50,83.30 L400.75,83.30 L401.00,83.30 L401.25,83.30 L401.50,83.30 L401.55,83.30 Z" fill="#000"/>
<path d="M390.80,83.30 L391.35,35.80 L392.25,35.80 L392.80,83.30 Z" fill="#000"/>
<line x1="362.50" y1="67.50" x2="391.30" y2="67.50" stroke="#777" stroke-width="0.9" />
<line x1="362.50" y1="65.50" x2="362.50" y2="69.50" stroke="#777" stroke-width="0.9" />
<line x1="391.30" y1="65.50" x2="391.30" y2="69.50" stroke="#777" stroke-width="0.9" />
<text x="362.00" y="59.30" font-family="'Liberation Serif', 'Times New Roman', serif" font-size="12.6" text-anchor="start" font-weight="normal" fill="#111" textLength="21.80" lengthAdjust="spacingAndGlyphs"  stroke="#111" stroke-width="0.20">69.1</text>
<path d="M410.50,83.30 L410.50,83.30 L410.75,83.30 L411.00,83.30 L411.25,83.30 L411.50,83.30 L411.75,83.30 L412.00,83.30 L412.25,83.30 L412.50,83.30 L412.75,83.30 L413.00,83.30 L413.25,83.30 L413.50,83.30 L413.75,83.30 L414.00,83.30 L414.25,83.30 L414.50,83.30 L414.75,83.30 L415.00,83.30 L415.25,83.30 L415.50,83.30 L415.75,83.30 L416.00,83.30 L416.25,83.30 L416.50,83.30 L416.75,83.30 L417.00,83.30 L417.25,83.30 L417.50,83.30 L417.75,83.30 L418.00,83.30 L418.25,83.30 L418.50,83.30 L418.75,83.30 L419.00,83.30 L419.25,83.30 L419.50,83.30 L419.75,83.30 L420.00,83.30 L420.25,83.30 L420.50,83.30 L420.75,83.30 L421.00,83.30 L421.25,83.30 L421.50,83.30 L421.75,83.30 L422.00,83.30 L422.25,83.30 L422.50,83.30 L422.75,83.30 L423.00,83.30 L423.25,83.30 L423.50,83.30 L423.75,83.30 L424.00,83.30 L424.25,83.30 L424.50,83.30 L424.75,82.30 L425.00,82.30 L425.25,82.30 L425.50,82.30 L425.75,82.30 L426.00,82.30 L426.25,82.30 L426.50,82.30 L426.75,82.30 L427.00,82.30 L427.25,82.30 L427.50,82.30 L427.75,75.45 L428.00,77.04 L428.25,78.32 L428.50,79.33 L428.75,80.14 L429.00,80.78 L429.25,81.29 L429.50,81.70 L429.75,82.03 L430.00,82.28 L430.25,82.49 L430.50,82.62 L430.75,82.63 L431.00,82.59 L431.25,82.57 L431.50,82.59 L431.75,82.64 L432.00,82.68 L432.25,82.66 L432.50,82.64 L432.75,82.65 L433.00,82.69 L433.25,82.72 L433.50,82.70 L433.75,82.65 L434.00,82.63 L434.25,82.65 L434.50,82.67 L434.75,82.66 L435.00,82.61 L435.25,82.59 L435.50,82.61 L435.75,82.66 L436.00,82.67 L436.25,82.65 L436.50,82.63 L436.75,82.66 L437.00,82.71 L437.25,82.74 L437.50,82.71 L437.75,82.68 L438.00,82.68 L438.25,82.71 L438.50,82.72 L438.75,82.69 L439.00,82.64 L439.25,82.63 L439.50,82.65 L439.75,82.69 L440.00,82.68 L440.25,82.64 L440.50,82.63 L440.75,82.67 L441.00,82.73 L441.25,82.74 L441.50,82.72 L441.75,82.70 L442.00,82.72 L442.25,82.76 L442.50,82.77 L442.75,82.73 L443.00,82.68 L443.25,82.68 L443.50,82.71 L443.75,82.72 L444.00,82.69 L444.25,82.65 L444.50,82.65 L444.75,82.69 L445.00,82.73 L445.25,82.73 L445.50,82.71 L445.75,82.71 L446.00,82.75 L446.25,82.79 L446.50,82.79 L446.75,82.76 L447.00,82.73 L447.25,82.74 L447.50,82.77 L447.75,82.77 L448.00,82.72 L448.25,82.68 L448.50,82.68 L448.75,82.72 L449.00,82.75 L449.25,82.73 L449.50,82.70 L449.75,82.71 L450.00,82.76 L450.25,82.80 L450.50,82.80 L450.75,82.77 L451.00,82.76 L451.25,82.79 L451.50,82.82 L451.75,82.80 L452.00,82.75 L452.25,82.70 L452.50,82.69 L452.75,82.68 L453.00,82.63 L453.25,82.52 L453.50,82.41 L453.75,82.34 L454.00,82.31 L454.25,82.29 L454.50,82.25 L454.75,82.25 L455.00,82.31 L455.25,82.44 L455.50,82.56 L455.75,82.63 L456.00,83.18 L456.25,83.25 L456.50,83.28 L456.75,83.29 L457.00,83.30 L457.25,83.30 L457.50,83.30 L457.75,83.30 L458.00,83.30 L458.25,83.30 L458.50,83.30 L458.75,83.30 L459.00,83.30 L459.25,83.30 L459.50,83.30 L459.75,83.30 L460.00,83.30 L460.25,83.30 L460.50,83.30 L460.75,83.30 L461.00,83.30 L461.25,83.30 L461.50,83.30 L461.75,83.30 L462.00,83.30 L462.25,83.30 L462.50,83.30 L462.75,83.30 L462.80,83.30 Z" fill="#000"/>
<path d="M426.45,83.30 L427.15,35.80 L428.05,35.80 L429.05,83.30 Z" fill="#000"/>
<line x1="429.30" y1="63.80" x2="459.50" y2="63.80" stroke="#777" stroke-width="0.9" />
<line x1="429.30" y1="61.80" x2="429.30" y2="65.80" stroke="#777" stroke-width="0.9" />
<line x1="459.50" y1="61.80" x2="459.50" y2="65.80" stroke="#777" stroke-width="0.9" />
<text x="440.80" y="59.60" font-family="'Liberation Serif', 'Times New Roman', serif" font-size="12.6" text-anchor="start" font-weight="normal" fill="#111" textLength="16.20" lengthAdjust="spacingAndGlyphs"  stroke="#111" stroke-width="0.20">4.5</text>
<path d="M219.00,138.15 L219.00,138.15 L219.25,138.15 L219.50,138.15 L219.75,138.15 L220.00,138.15 L220.25,138.15 L220.50,138.15 L220.75,138.15 L221.00,138.15 L221.25,138.15 L221.50,138.15 L221.75,138.15 L222.00,138.15 L222.25,138.15 L222.50,138.15 L222.75,138.15 L223.00,138.15 L223.25,138.15 L223.50,138.15 L223.75,138.15 L224.00,138.15 L224.25,138.15 L224.50,138.15 L224.75,137.65 L225.00,137.65 L225.25,137.65 L225.50,137.65 L225.75,137.65 L226.00,137.65 L226.25,137.65 L226.50,137.65 L226.75,137.65 L227.00,137.65 L227.25,137.65 L227.50,137.65 L227.75,137.65 L228.00,137.65 L228.25,137.65 L228.50,137.65 L228.75,137.65 L229.00,137.65 L229.25,137.65 L229.50,137.65 L229.75,137.65 L230.00,137.65 L230.25,137.65 L230.50,137.65 L230.75,137.65 L231.00,137.65 L231.25,137.65 L231.50,137.65 L231.75,137.65 L232.00,137.65 L232.25,137.64 L232.50,137.64 L232.75,137.64 L233.00,137.64 L233.25,137.64 L233.50,137.64 L233.75,137.64 L234.00,137.63 L234.25,137.63 L234.50,137.63 L234.75,137.62 L235.00,137.62 L235.25,137.62 L235.50,137.61 L235.75,137.60 L236.00,137.60 L236.25,137.59 L236.50,137.58 L236.75,137.57 L237.00,137.56 L237.25,137.55 L237.50,137.53 L237.75,137.52 L238.00,137.50 L238.25,137.48 L238.50,137.46 L238.75,137.44 L239.00,137.41 L239.25,137.38 L239.50,137.35 L239.75,137.31 L240.00,137.28 L240.25,137.23 L240.50,137.19 L240.75,137.14 L241.00,137.09 L241.25,137.03 L241.50,136.97 L241.75,136.90 L242.00,136.83 L242.25,136.75 L242.50,136.67 L242.75,136.58 L243.00,136.49 L243.25,136.39 L243.50,136.29 L243.75,136.18 L244.00,136.06 L244.25,135.94 L244.50,135.82 L244.75,135.69 L245.00,135.55 L245.25,135.41 L245.50,135.27 L245.75,135.12 L246.00,134.96 L246.25,134.81 L246.50,134.65 L246.75,134.49 L247.00,134.33 L247.25,134.16 L247.50,134.00 L247.75,133.83 L248.00,133.67 L248.25,133.51 L248.50,133.35 L248.75,133.19 L249.00,133.04 L249.25,132.89 L249.50,132.74 L249.75,132.60 L250.00,132.47 L250.25,132.35 L250.50,132.23 L250.75,132.13 L251.00,132.03 L251.25,131.94 L251.50,131.87 L251.75,131.80 L252.00,131.75 L252.25,131.71 L252.50,131.67 L252.75,131.66 L253.00,131.65 L253.25,131.68 L253.50,131.78 L253.75,131.94 L254.00,132.15 L254.25,132.41 L254.50,132.71 L254.75,133.05 L255.00,133.41 L255.25,133.78 L255.50,134.16 L255.75,134.54 L256.00,134.90 L256.25,135.25 L256.50,135.58 L256.75,135.88 L257.00,136.15 L257.25,136.40 L257.50,136.62 L257.75,136.80 L258.00,136.97 L258.25,137.10 L258.50,137.22 L258.75,137.31 L259.00,137.39 L259.25,137.45 L259.50,137.50 L259.75,137.54 L260.00,137.56 L260.25,137.59 L260.50,137.60 L260.75,137.62 L261.00,137.63 L261.25,137.63 L261.50,137.64 L261.75,137.64 L262.00,135.85 L262.25,135.86 L262.50,135.89 L262.75,135.93 L263.00,135.99 L263.25,136.06 L263.50,136.15 L263.75,136.24 L264.00,136.34 L264.25,136.45 L264.50,136.56 L264.75,136.67 L265.00,136.77 L265.25,136.88 L265.50,136.97 L265.75,137.07 L266.00,137.15 L266.25,137.23 L266.50,137.29 L266.75,137.35 L267.00,137.91 L267.25,137.95 L267.50,137.99 L267.75,138.02 L268.00,138.05 L268.25,138.07 L268.50,138.09 L268.75,138.10 L269.00,138.11 L269.25,138.12 L269.50,138.13 L269.75,138.14 L270.00,138.14 L270.25,138.14 L270.50,138.14 L270.75,138.15 L271.00,138.15 L271.25,138.15 L271.30,138.15 Z" fill="#000"/>
<path d="M261.00,138.15 L261.55,113.60 L262.45,113.60 L263.00,138.15 Z" fill="#000"/>
<line x1="232.30" y1="121.30" x2="262.00" y2="121.30" stroke="#777" stroke-width="0.9" />
<line x1="232.30" y1="119.30" x2="232.30" y2="123.30" stroke="#777" stroke-width="0.9" />
<line x1="262.00" y1="119.30" x2="262.00" y2="123.30" stroke="#777" stroke-width="0.9" />
<text x="231.30" y="116.40" font-family="'Liberation Serif', 'Times New Roman', serif" font-size="12.6" text-anchor="start" font-weight="normal" fill="#111" textLength="22.90" lengthAdjust="spacingAndGlyphs"  stroke="#111" stroke-width="0.20">82.4</text>
<path d="M280.00,138.15 L280.00,138.15 L280.25,138.15 L280.50,138.15 L280.75,138.15 L281.00,138.15 L281.25,138.15 L281.50,138.15 L281.75,138.15 L282.00,138.15 L282.25,138.15 L282.50,138.15 L282.75,138.15 L283.00,138.15 L283.25,138.15 L283.50,138.15 L283.75,138.15 L284.00,138.15 L284.25,138.15 L284.50,138.15 L284.75,138.15 L285.00,138.15 L285.25,138.15 L285.50,138.15 L285.75,138.15 L286.00,138.15 L286.25,138.15 L286.50,138.15 L286.75,138.15 L287.00,138.15 L287.25,138.15 L287.50,138.15 L287.75,138.15 L288.00,138.15 L288.25,138.15 L288.50,138.15 L288.75,138.15 L289.00,138.15 L289.25,138.15 L289.50,138.15 L289.75,138.15 L290.00,138.15 L290.25,138.15 L290.50,138.15 L290.75,138.15 L291.00,138.15 L291.25,138.15 L291.50,138.15 L291.75,138.15 L292.00,138.15 L292.25,138.15 L292.50,138.15 L292.75,138.15 L293.00,138.15 L293.25,138.15 L293.50,138.15 L293.75,138.15 L294.00,138.15 L294.25,138.15 L294.50,138.15 L294.75,137.15 L295.00,137.15 L295.25,137.15 L295.50,137.15 L295.75,137.15 L296.00,137.15 L296.25,137.15 L296.50,137.15 L296.75,137.15 L297.00,137.15 L297.25,137.15 L297.50,137.15 L297.75,130.30 L298.00,131.89 L298.25,133.17 L298.50,134.18 L298.75,134.99 L299.00,135.63 L299.25,136.14 L299.50,136.55 L299.75,136.88 L300.00,137.13 L300.25,137.19 L300.50,137.17 L300.75,137.22 L301.00,137.27 L301.25,137.27 L301.50,137.23 L301.75,137.22 L302.00,137.28 L302.25,137.35 L302.50,137.36 L302.75,137.32 L303.00,137.29 L303.25,137.31 L303.50,137.36 L303.75,137.36 L304.00,137.31 L304.25,137.25 L304.50,137.24 L304.75,137.29 L305.00,137.31 L305.25,137.28 L305.50,137.24 L305.75,137.24 L306.00,137.31 L306.25,137.37 L306.50,137.37 L306.75,137.33 L307.00,137.32 L307.25,137.37 L307.50,137.42 L307.75,137.42 L308.00,137.36 L308.25,137.32 L308.50,137.33 L308.75,137.37 L309.00,137.37 L309.25,137.32 L309.50,137.27 L309.75,137.28 L310.00,137.34 L310.25,137.38 L310.50,137.36 L310.75,137.33 L311.00,137.35 L311.25,137.41 L311.50,137.47 L311.75,137.45 L312.00,137.40 L312.25,137.38 L312.50,137.42 L312.75,137.45 L313.00,137.43 L313.25,137.37 L313.50,137.32 L313.75,137.34 L314.00,137.39 L314.25,137.40 L314.50,137.37 L314.75,137.34 L315.00,137.37 L315.25,137.44 L315.50,137.48 L315.75,137.46 L316.00,137.41 L316.25,137.40 L316.50,137.42 L316.75,137.41 L317.00,137.30 L317.25,137.14 L317.50,137.00 L317.75,136.91 L318.00,136.84 L318.25,136.75 L318.50,136.67 L318.75,136.67 L319.00,136.78 L319.25,136.95 L319.50,137.09 L319.75,137.17 L320.00,137.99 L320.25,138.08 L320.50,138.12 L320.75,138.14 L321.00,138.15 L321.25,138.15 L321.50,138.15 L321.75,138.15 L322.00,138.15 L322.25,138.15 L322.50,138.15 L322.75,138.15 L323.00,138.15 L323.25,138.15 L323.50,138.15 L323.75,138.15 L324.00,138.15 L324.25,138.15 L324.50,138.15 L324.75,138.15 L325.00,138.15 L325.25,138.15 L325.50,138.15 L325.75,138.15 L326.00,138.15 L326.25,138.15 L326.50,138.15 L326.75,138.15 L327.00,138.15 L327.25,138.15 L327.50,138.15 L327.75,138.15 L328.00,138.15 L328.25,138.15 L328.50,138.15 L328.75,138.15 L329.00,138.15 L329.25,138.15 L329.50,138.15 L329.75,138.15 L330.00,138.15 L330.25,138.15 L330.50,138.15 L330.75,138.15 L331.00,138.15 L331.25,138.15 L331.50,138.15 L331.75,138.15 L332.00,138.15 L332.00,138.15 Z" fill="#000"/>
<path d="M296.45,138.15 L297.15,117.30 L298.05,117.30 L299.05,138.15 Z" fill="#000"/>
<line x1="299.00" y1="121.60" x2="327.20" y2="121.60" stroke="#777" stroke-width="0.9" />
<line x1="299.00" y1="119.60" x2="299.00" y2="123.60" stroke="#777" stroke-width="0.9" />
<line x1="327.20" y1="119.60" x2="327.20" y2="123.60" stroke="#777" stroke-width="0.9" />
<text x="311.30" y="116.50" font-family="'Liberation Serif', 'Times New Roman', serif" font-size="12.6" text-anchor="start" font-weight="normal" fill="#111" textLength="15.50" lengthAdjust="spacingAndGlyphs"  stroke="#111" stroke-width="0.20">2.8</text>
<path d="M349.25,138.15 L349.25,138.15 L349.50,138.15 L349.75,138.15 L350.00,138.15 L350.25,138.15 L350.50,138.15 L350.75,138.15 L351.00,138.15 L351.25,138.15 L351.50,138.15 L351.75,138.15 L352.00,138.15 L352.25,138.15 L352.50,138.15 L352.75,138.15 L353.00,138.15 L353.25,138.15 L353.50,138.15 L353.75,138.15 L354.00,138.15 L354.25,138.15 L354.50,138.15 L354.75,138.15 L355.00,137.65 L355.25,137.65 L355.50,137.65 L355.75,137.65 L356.00,137.65 L356.25,137.65 L356.50,137.65 L356.75,137.65 L357.00,137.65 L357.25,137.65 L357.50,137.65 L357.75,137.65 L358.00,137.65 L358.25,137.65 L358.50,137.65 L358.75,137.65 L359.00,137.65 L359.25,137.65 L359.50,137.65 L359.75,137.65 L360.00,137.65 L360.25,137.65 L360.50,137.65 L360.75,137.65 L361.00,137.65 L361.25,137.65 L361.50,137.65 L361.75,137.65 L362.00,137.64 L362.25,137.64 L362.50,137.64 L362.75,137.64 L363.00,137.64 L363.25,137.64 L363.50,137.64 L363.75,137.63 L364.00,137.63 L364.25,137.63 L364.50,137.62 L364.75,137.62 L365.00,137.62 L365.25,137.61 L365.50,137.60 L365.75,137.60 L366.00,137.59 L366.25,137.58 L366.50,137.57 L366.75,137.56 L367.00,137.55 L367.25,137.53 L367.50,137.52 L367.75,137.50 L368.00,137.48 L368.25,137.46 L368.50,137.44 L368.75,137.41 L369.00,137.38 L369.25,137.35 L369.50,137.32 L369.75,137.28 L370.00,137.24 L370.25,137.20 L370.50,137.15 L370.75,137.10 L371.00,137.04 L371.25,136.99 L371.50,136.92 L371.75,136.85 L372.00,136.78 L372.25,136.70 L372.50,136.62 L372.75,136.54 L373.00,136.44 L373.25,136.35 L373.50,136.25 L373.75,136.14 L374.00,136.03 L374.25,135.92 L374.50,135.80 L374.75,135.67 L375.00,135.54 L375.25,135.41 L375.50,135.28 L375.75,135.14 L376.00,135.00 L376.25,134.86 L376.50,134.71 L376.75,134.57 L377.00,134.42 L377.25,134.28 L377.50,134.13 L377.75,133.99 L378.00,133.85 L378.25,133.71 L378.50,133.57 L378.75,133.44 L379.00,133.32 L379.25,133.19 L379.50,133.08 L379.75,132.97 L380.00,132.87 L380.25,132.77 L380.50,132.69 L380.75,132.61 L381.00,132.54 L381.25,132.48 L381.50,132.44 L381.75,132.40 L382.00,132.37 L382.25,132.36 L382.50,132.35 L382.75,132.38 L383.00,132.46 L383.25,132.60 L383.50,132.79 L383.75,133.02 L384.00,133.29 L384.25,133.59 L384.50,133.90 L384.75,134.23 L385.00,134.57 L385.25,134.90 L385.50,135.22 L385.75,135.53 L386.00,135.82 L386.25,136.09 L386.50,136.33 L386.75,136.55 L387.00,136.74 L387.25,136.90 L387.50,137.04 L387.75,137.17 L388.00,137.27 L388.25,137.35 L388.50,137.42 L388.75,137.47 L389.00,137.51 L389.25,137.55 L389.50,137.57 L389.75,137.59 L390.00,137.61 L390.25,137.62 L390.50,137.63 L390.75,137.64 L391.00,137.64 L391.25,137.64 L391.50,136.06 L391.75,136.08 L392.00,136.11 L392.25,136.15 L392.50,136.21 L392.75,136.28 L393.00,136.35 L393.25,136.44 L393.50,136.53 L393.75,136.63 L394.00,136.72 L394.25,136.82 L394.50,136.91 L394.75,137.00 L395.00,137.09 L395.25,137.16 L395.50,137.24 L395.75,137.30 L396.00,137.36 L396.25,137.41 L396.50,137.95 L396.75,137.99 L397.00,138.02 L397.25,138.05 L397.50,138.07 L397.75,138.09 L398.00,138.10 L398.25,138.11 L398.50,138.12 L398.75,138.13 L399.00,138.13 L399.25,138.14 L399.50,138.14 L399.75,138.14 L400.00,138.15 L400.25,138.15 L400.50,138.15 L400.75,138.15 L401.00,138.15 L401.25,138.15 L401.50,138.15 L401.55,138.15 Z" fill="#000"/>
<path d="M390.40,138.15 L390.95,117.50 L391.85,117.50 L392.40,138.15 Z" fill="#000"/>
<line x1="362.30" y1="121.00" x2="391.00" y2="121.00" stroke="#777" stroke-width="0.9" />
<line x1="362.30" y1="119.00" x2="362.30" y2="123.00" stroke="#777" stroke-width="0.9" />
<line x1="391.00" y1="119.00" x2="391.00" y2="123.00" stroke="#777" stroke-width="0.9" />
<text x="361.80" y="116.30" font-family="'Liberation Serif', 'Times New Roman', serif" font-size="12.6" text-anchor="start" font-weight="normal" fill="#111" textLength="21.70" lengthAdjust="spacingAndGlyphs"  stroke="#111" stroke-width="0.20">84.3</text>
<path d="M410.50,138.15 L410.50,138.15 L410.75,138.15 L411.00,138.15 L411.25,138.15 L411.50,138.15 L411.75,138.15 L412.00,138.15 L412.25,138.15 L412.50,138.15 L412.75,138.15 L413.00,138.15 L413.25,138.15 L413.50,138.15 L413.75,138.15 L414.00,138.15 L414.25,138.15 L414.50,138.15 L414.75,138.15 L415.00,138.15 L415.25,138.15 L415.50,138.15 L415.75,138.15 L416.00,138.15 L416.25,138.15 L416.50,138.15 L416.75,138.15 L417.00,138.15 L417.25,138.15 L417.50,138.15 L417.75,138.15 L418.00,138.15 L418.25,138.15 L418.50,138.15 L418.75,138.15 L419.00,138.15 L419.25,138.15 L419.50,138.15 L419.75,138.15 L420.00,138.15 L420.25,138.15 L420.50,138.15 L420.75,138.15 L421.00,138.15 L421.25,138.15 L421.50,138.15 L421.75,138.15 L422.00,138.15 L422.25,138.15 L422.50,138.15 L422.75,138.15 L423.00,138.15 L423.25,138.15 L423.50,138.15 L423.75,138.15 L424.00,138.15 L424.25,138.15 L424.50,138.15 L424.75,138.15 L425.00,137.15 L425.25,137.15 L425.50,137.15 L425.75,137.15 L426.00,137.15 L426.25,137.15 L426.50,137.15 L426.75,137.15 L427.00,137.15 L427.25,137.15 L427.50,137.15 L427.75,137.15 L428.00,129.93 L428.25,131.60 L428.50,132.93 L428.75,133.99 L429.00,134.84 L429.25,135.51 L429.50,136.05 L429.75,136.48 L430.00,136.82 L430.25,137.09 L430.50,137.25 L430.75,137.26 L431.00,137.21 L431.25,137.18 L431.50,137.21 L431.75,137.28 L432.00,137.32 L432.25,137.31 L432.50,137.27 L432.75,137.29 L433.00,137.34 L433.25,137.38 L433.50,137.35 L433.75,137.29 L434.00,137.26 L434.25,137.29 L434.50,137.33 L434.75,137.31 L435.00,137.25 L435.25,137.21 L435.50,137.25 L435.75,137.31 L436.00,137.33 L436.25,137.30 L436.50,137.28 L436.75,137.32 L437.00,137.39 L437.25,137.42 L437.50,137.39 L437.75,137.34 L438.00,137.34 L438.25,137.39 L438.50,137.41 L438.75,137.36 L439.00,137.30 L439.25,137.28 L439.50,137.31 L439.75,137.36 L440.00,137.35 L440.25,137.30 L440.50,137.29 L440.75,137.34 L441.00,137.41 L441.25,137.44 L441.50,137.40 L441.75,137.38 L442.00,137.41 L442.25,137.46 L442.50,137.47 L442.75,137.42 L443.00,137.36 L443.25,137.36 L443.50,137.40 L443.75,137.42 L444.00,137.38 L444.25,137.32 L444.50,137.32 L444.75,137.38 L445.00,137.43 L445.25,137.43 L445.50,137.40 L445.75,137.39 L446.00,137.43 L446.25,137.48 L446.50,137.45 L446.75,137.35 L447.00,137.24 L447.25,137.16 L447.50,137.09 L447.75,136.97 L448.00,136.81 L448.25,136.68 L448.50,136.66 L448.75,136.74 L449.00,136.84 L449.25,136.92 L449.50,137.00 L449.75,137.13 L450.00,137.99 L450.25,138.08 L450.50,138.12 L450.75,138.14 L451.00,138.15 L451.25,138.15 L451.50,138.15 L451.75,138.15 L452.00,138.15 L452.25,138.15 L452.50,138.15 L452.75,138.15 L453.00,138.15 L453.25,138.15 L453.50,138.15 L453.75,138.15 L454.00,138.15 L454.25,138.15 L454.50,138.15 L454.75,138.15 L455.00,138.15 L455.25,138.15 L455.50,138.15 L455.75,138.15 L456.00,138.15 L456.25,138.15 L456.50,138.15 L456.75,138.15 L457.00,138.15 L457.25,138.15 L457.50,138.15 L457.75,138.15 L458.00,138.15 L458.25,138.15 L458.50,138.15 L458.75,138.15 L459.00,138.15 L459.25,138.15 L459.50,138.15 L459.75,138.15 L460.00,138.15 L460.25,138.15 L460.50,138.15 L460.75,138.15 L461.00,138.15 L461.25,138.15 L461.50,138.15 L461.75,138.15 L462.00,138.15 L462.25,138.15 L462.50,138.15 L462.75,138.15 L462.80,138.15 Z" fill="#000"/>
<path d="M426.75,138.15 L427.45,119.90 L428.35,119.90 L429.35,138.15 Z" fill="#000"/>
<line x1="429.00" y1="123.50" x2="458.00" y2="123.50" stroke="#777" stroke-width="0.9" />
<line x1="429.00" y1="121.50" x2="429.00" y2="125.50" stroke="#777" stroke-width="0.9" />
<line x1="458.00" y1="121.50" x2="458.00" y2="125.50" stroke="#777" stroke-width="0.9" />
<text x="442.40" y="116.30" font-family="'Liberation Serif', 'Times New Roman', serif" font-size="12.6" text-anchor="start" font-weight="normal" fill="#111" textLength="14.40" lengthAdjust="spacingAndGlyphs"  stroke="#111" stroke-width="0.20">1.9</text>
<path d="M219.00,193.00 L219.00,193.00 L219.25,193.00 L219.50,193.00 L219.75,193.00 L220.00,193.00 L220.25,193.00 L220.50,193.00 L220.75,193.00 L221.00,193.00 L221.25,193.00 L221.50,193.00 L221.75,193.00 L222.00,193.00 L222.25,193.00 L222.50,193.00 L222.75,193.00 L223.00,193.00 L223.25,193.00 L223.50,193.00 L223.75,193.00 L224.00,193.00 L224.25,193.00 L224.50,193.00 L224.75,192.50 L225.00,192.50 L225.25,192.50 L225.50,192.50 L225.75,192.50 L226.00,192.50 L226.25,192.50 L226.50,192.50 L226.75,192.50 L227.00,192.50 L227.25,192.50 L227.50,192.50 L227.75,192.50 L228.00,192.50 L228.25,192.50 L228.50,192.50 L228.75,192.49 L229.00,192.49 L229.25,192.49 L229.50,192.49 L229.75,192.49 L230.00,192.49 L230.25,192.49 L230.50,192.49 L230.75,192.49 L231.00,192.49 L231.25,192.48 L231.50,192.48 L231.75,192.48 L232.00,192.48 L232.25,192.48 L232.50,192.47 L232.75,192.47 L233.00,192.47 L233.25,192.46 L233.50,192.46 L233.75,192.46 L234.00,192.45 L234.25,192.45 L234.50,192.44 L234.75,192.44 L235.00,192.43 L235.25,192.43 L235.50,192.42 L235.75,192.41 L236.00,192.40 L236.25,192.40 L236.50,192.39 L236.75,192.38 L237.00,192.37 L237.25,192.36 L237.50,192.35 L237.75,192.34 L238.00,192.32 L238.25,192.31 L238.50,192.30 L238.75,192.28 L239.00,192.27 L239.25,192.25 L239.50,192.24 L239.75,192.22 L240.00,192.20 L240.25,192.18 L240.50,192.16 L240.75,192.14 L241.00,192.12 L241.25,192.10 L241.50,192.08 L241.75,192.06 L242.00,192.03 L242.25,192.01 L242.50,191.99 L242.75,191.96 L243.00,191.94 L243.25,191.91 L243.50,191.89 L243.75,191.86 L244.00,191.84 L244.25,191.81 L244.50,191.78 L244.75,191.76 L245.00,191.73 L245.25,191.70 L245.50,191.68 L245.75,191.65 L246.00,191.63 L246.25,191.60 L246.50,191.58 L246.75,191.55 L247.00,191.53 L247.25,191.51 L247.50,191.49 L247.75,191.46 L248.00,191.44 L248.25,191.43 L248.50,191.41 L248.75,191.39 L249.00,191.38 L249.25,191.36 L249.50,191.35 L249.75,191.34 L250.00,191.33 L250.25,191.32 L250.50,191.31 L250.75,191.31 L251.00,191.30 L251.25,191.30 L251.50,191.30 L251.75,191.30 L252.00,191.32 L252.25,191.34 L252.50,191.36 L252.75,191.40 L253.00,191.44 L253.25,191.49 L253.50,191.54 L253.75,191.59 L254.00,191.65 L254.25,191.71 L254.50,191.77 L254.75,191.83 L255.00,191.89 L255.25,191.95 L255.50,192.01 L255.75,192.06 L256.00,192.11 L256.25,192.16 L256.50,192.20 L256.75,192.24 L257.00,192.28 L257.25,192.31 L257.50,192.34 L257.75,192.36 L258.00,192.39 L258.25,192.40 L258.50,192.42 L258.75,192.44 L259.00,192.45 L259.25,192.46 L259.50,192.47 L259.75,192.47 L260.00,192.48 L260.25,192.48 L260.50,192.49 L260.75,192.49 L261.00,192.49 L261.25,192.49 L261.50,192.50 L261.75,192.50 L262.00,192.50 L262.25,192.14 L262.50,192.14 L262.75,192.15 L263.00,192.16 L263.25,192.18 L263.50,192.19 L263.75,192.21 L264.00,192.23 L264.25,192.25 L264.50,192.07 L264.75,191.37 L265.00,190.07 L265.25,188.25 L265.50,186.47 L265.75,185.53 L266.00,185.95 L266.25,187.49 L266.50,189.39 L266.75,190.93 L267.00,191.85 L267.25,192.78 L267.50,192.94 L267.75,192.97 L268.00,192.98 L268.25,192.98 L268.50,192.99 L268.75,192.99 L269.00,192.99 L269.25,192.99 L269.50,193.00 L269.75,193.00 L270.00,193.00 L270.25,193.00 L270.50,193.00 L270.75,193.00 L271.00,193.00 L271.25,193.00 L271.30,193.00 Z" fill="#000"/>
<path d="M261.10,193.00 L261.65,152.50 L262.55,152.50 L263.10,193.00 Z" fill="#000"/>
<line x1="232.00" y1="177.60" x2="261.50" y2="177.60" stroke="#777" stroke-width="0.9" />
<line x1="232.00" y1="175.60" x2="232.00" y2="179.60" stroke="#777" stroke-width="0.9" />
<line x1="261.50" y1="175.60" x2="261.50" y2="179.60" stroke="#777" stroke-width="0.9" />
<text x="231.80" y="167.20" font-family="'Liberation Serif', 'Times New Roman', serif" font-size="12.6" text-anchor="start" font-weight="normal" fill="#111" textLength="22.20" lengthAdjust="spacingAndGlyphs"  stroke="#111" stroke-width="0.20">27.8</text>
<path d="M280.00,193.00 L280.00,193.00 L280.25,193.00 L280.50,193.00 L280.75,193.00 L281.00,193.00 L281.25,193.00 L281.50,193.00 L281.75,193.00 L282.00,193.00 L282.25,193.00 L282.50,193.00 L282.75,193.00 L283.00,193.00 L283.25,193.00 L283.50,193.00 L283.75,193.00 L284.00,193.00 L284.25,193.00 L284.50,193.00 L284.75,193.00 L285.00,193.00 L285.25,193.00 L285.50,193.00 L285.75,193.00 L286.00,193.00 L286.25,193.00 L286.50,193.00 L286.75,193.00 L287.00,193.00 L287.25,193.00 L287.50,193.00 L287.75,193.00 L288.00,193.00 L288.25,193.00 L288.50,193.00 L288.75,193.00 L289.00,193.00 L289.25,193.00 L289.50,193.00 L289.75,193.00 L290.00,193.00 L290.25,193.00 L290.50,193.00 L290.75,193.00 L291.00,193.00 L291.25,193.00 L291.50,193.00 L291.75,193.00 L292.00,193.00 L292.25,193.00 L292.50,193.00 L292.75,193.00 L293.00,193.00 L293.25,193.00 L293.50,193.00 L293.75,193.00 L294.00,193.00 L294.25,193.00 L294.50,193.00 L294.75,193.00 L295.00,193.00 L295.25,193.00 L295.50,193.00 L295.75,193.00 L296.00,193.00 L296.25,193.00 L296.50,193.00 L296.75,193.00 L297.00,193.00 L297.25,192.00 L297.50,192.00 L297.75,192.00 L298.00,192.00 L298.25,192.00 L298.50,192.00 L298.75,192.00 L299.00,192.00 L299.25,192.00 L299.50,192.00 L299.75,192.00 L300.00,184.00 L300.25,185.83 L300.50,187.29 L300.75,188.45 L301.00,189.37 L301.25,190.11 L301.50,190.39 L301.75,190.38 L302.00,190.53 L302.25,190.72 L302.50,190.76 L302.75,190.65 L303.00,190.56 L303.25,190.62 L303.50,190.75 L303.75,190.76 L304.00,190.61 L304.25,190.44 L304.50,190.43 L304.75,190.55 L305.00,190.62 L305.25,190.54 L305.50,190.41 L305.75,190.43 L306.00,190.61 L306.25,190.77 L306.50,190.77 L306.75,190.67 L307.00,190.65 L307.25,190.79 L307.50,190.93 L307.75,190.92 L308.00,190.76 L308.25,190.63 L308.50,190.67 L308.75,190.78 L309.00,190.78 L309.25,190.63 L309.50,190.50 L309.75,190.54 L310.00,190.70 L310.25,190.81 L310.50,190.76 L310.75,190.67 L311.00,190.72 L311.25,190.90 L311.50,191.05 L311.75,191.01 L312.00,190.88 L312.25,190.82 L312.50,190.91 L312.75,191.01 L313.00,190.96 L313.25,190.77 L313.50,190.65 L313.75,190.71 L314.00,190.85 L314.25,190.88 L314.50,190.77 L314.75,190.69 L315.00,190.78 L315.25,190.98 L315.50,191.09 L315.75,191.04 L316.00,190.94 L316.25,190.97 L316.50,191.12 L316.75,191.21 L317.00,191.12 L317.25,190.94 L317.50,190.86 L317.75,190.94 L318.00,191.03 L318.25,190.96 L318.50,190.78 L318.75,190.66 L319.00,190.68 L319.25,190.72 L319.50,190.59 L319.75,190.24 L320.00,189.87 L320.25,189.65 L320.50,189.55 L320.75,189.43 L321.00,189.26 L321.25,189.19 L321.50,189.38 L321.75,189.78 L322.00,190.15 L322.25,190.35 L322.50,192.56 L322.75,192.80 L323.00,192.92 L323.25,192.97 L323.50,192.99 L323.75,193.00 L324.00,193.00 L324.25,193.00 L324.50,193.00 L324.75,193.00 L325.00,193.00 L325.25,193.00 L325.50,193.00 L325.75,193.00 L326.00,193.00 L326.25,193.00 L326.50,193.00 L326.75,193.00 L327.00,193.00 L327.25,193.00 L327.50,193.00 L327.75,193.00 L328.00,193.00 L328.25,193.00 L328.50,193.00 L328.75,193.00 L329.00,193.00 L329.25,193.00 L329.50,193.00 L329.75,193.00 L330.00,193.00 L330.25,193.00 L330.50,193.00 L330.75,193.00 L331.00,193.00 L331.25,193.00 L331.50,193.00 L331.75,193.00 L332.00,193.00 L332.00,193.00 Z" fill="#000"/>
<path d="M298.30,193.00 L299.25,157.40 L300.75,157.40 L302.30,193.00 Z" fill="#000"/>
<line x1="303.40" y1="171.20" x2="329.30" y2="171.20" stroke="#777" stroke-width="0.9" />
<line x1="303.40" y1="169.20" x2="303.40" y2="173.20" stroke="#777" stroke-width="0.9" />
<line x1="329.30" y1="169.20" x2="329.30" y2="173.20" stroke="#777" stroke-width="0.9" />
<text x="304.80" y="167.20" font-family="'Liberation Serif', 'Times New Roman', serif" font-size="12.6" text-anchor="start" font-weight="normal" fill="#111" textLength="23.10" lengthAdjust="spacingAndGlyphs"  stroke="#111" stroke-width="0.20">29.4</text>
<path d="M349.25,193.00 L349.25,193.00 L349.50,193.00 L349.75,193.00 L350.00,193.00 L350.25,193.00 L350.50,193.00 L350.75,193.00 L351.00,193.00 L351.25,193.00 L351.50,193.00 L351.75,193.00 L352.00,193.00 L352.25,193.00 L352.50,193.00 L352.75,193.00 L353.00,193.00 L353.25,193.00 L353.50,193.00 L353.75,193.00 L354.00,193.00 L354.25,193.00 L354.50,193.00 L354.75,193.00 L355.00,192.50 L355.25,192.50 L355.50,192.50 L355.75,192.50 L356.00,192.50 L356.25,192.50 L356.50,192.50 L356.75,192.50 L357.00,192.50 L357.25,192.50 L357.50,192.50 L357.75,192.50 L358.00,192.50 L358.25,192.50 L358.50,192.50 L358.75,192.50 L359.00,192.50 L359.25,192.50 L359.50,192.50 L359.75,192.50 L360.00,192.50 L360.25,192.49 L360.50,192.49 L360.75,192.49 L361.00,192.49 L361.25,192.49 L361.50,192.49 L361.75,192.49 L362.00,192.49 L362.25,192.49 L362.50,192.49 L362.75,192.48 L363.00,192.48 L363.25,192.48 L363.50,192.48 L363.75,192.48 L364.00,192.47 L364.25,192.47 L364.50,192.47 L364.75,192.46 L365.00,192.46 L365.25,192.46 L365.50,192.45 L365.75,192.45 L366.00,192.44 L366.25,192.44 L366.50,192.43 L366.75,192.43 L367.00,192.42 L367.25,192.41 L367.50,192.41 L367.75,192.40 L368.00,192.39 L368.25,192.38 L368.50,192.37 L368.75,192.36 L369.00,192.35 L369.25,192.34 L369.50,192.33 L369.75,192.32 L370.00,192.31 L370.25,192.29 L370.50,192.28 L370.75,192.27 L371.00,192.25 L371.25,192.24 L371.50,192.22 L371.75,192.20 L372.00,192.19 L372.25,192.17 L372.50,192.15 L372.75,192.13 L373.00,192.11 L373.25,192.09 L373.50,192.07 L373.75,192.05 L374.00,192.03 L374.25,192.01 L374.50,191.99 L374.75,191.97 L375.00,191.95 L375.25,191.92 L375.50,191.90 L375.75,191.88 L376.00,191.86 L376.25,191.84 L376.50,191.81 L376.75,191.79 L377.00,191.77 L377.25,191.75 L377.50,191.73 L377.75,191.71 L378.00,191.69 L378.25,191.67 L378.50,191.65 L378.75,191.64 L379.00,191.62 L379.25,191.60 L379.50,191.59 L379.75,191.58 L380.00,191.56 L380.25,191.55 L380.50,191.54 L380.75,191.53 L381.00,191.52 L381.25,191.52 L381.50,191.51 L381.75,191.51 L382.00,191.50 L382.25,191.50 L382.50,191.50 L382.75,191.50 L383.00,191.51 L383.25,191.53 L383.50,191.55 L383.75,191.58 L384.00,191.62 L384.25,191.66 L384.50,191.70 L384.75,191.75 L385.00,191.79 L385.25,191.84 L385.50,191.89 L385.75,191.94 L386.00,191.99 L386.25,192.04 L386.50,192.09 L386.75,192.13 L387.00,192.18 L387.25,192.21 L387.50,192.25 L387.75,192.28 L388.00,192.31 L388.25,192.34 L388.50,192.36 L388.75,192.39 L389.00,192.40 L389.25,192.42 L389.50,192.43 L389.75,192.45 L390.00,192.46 L390.25,192.46 L390.50,192.47 L390.75,192.48 L391.00,192.48 L391.25,192.49 L391.50,192.49 L391.75,192.49 L392.00,192.49 L392.25,192.49 L392.50,192.50 L392.75,192.20 L393.00,192.20 L393.25,192.21 L393.50,192.22 L393.75,192.23 L394.00,192.24 L394.25,192.26 L394.50,191.92 L394.75,191.20 L395.00,190.13 L395.25,188.99 L395.50,188.27 L395.75,188.36 L396.00,189.20 L396.25,190.36 L396.50,191.37 L396.75,192.02 L397.00,192.33 L397.25,192.45 L397.50,192.46 L397.75,192.96 L398.00,192.97 L398.25,192.98 L398.50,192.98 L398.75,192.99 L399.00,192.99 L399.25,192.99 L399.50,192.99 L399.75,192.99 L400.00,193.00 L400.25,193.00 L400.50,193.00 L400.75,193.00 L401.00,193.00 L401.25,193.00 L401.50,193.00 L401.55,193.00 Z" fill="#000"/>
<path d="M391.60,193.00 L392.15,151.50 L393.05,151.50 L393.60,193.00 Z" fill="#000"/>
<line x1="361.50" y1="177.80" x2="392.00" y2="177.80" stroke="#777" stroke-width="0.9" />
<line x1="361.50" y1="175.80" x2="361.50" y2="179.80" stroke="#777" stroke-width="0.9" />
<line x1="392.00" y1="175.80" x2="392.00" y2="179.80" stroke="#777" stroke-width="0.9" />
<text x="361.50" y="166.60" font-family="'Liberation Serif', 'Times New Roman', serif" font-size="12.6" text-anchor="start" font-weight="normal" fill="#111" textLength="22.80" lengthAdjust="spacingAndGlyphs"  stroke="#111" stroke-width="0.20">21.8</text>
<path d="M410.50,193.00 L410.50,193.00 L410.75,193.00 L411.00,193.00 L411.25,193.00 L411.50,193.00 L411.75,193.00 L412.00,193.00 L412.25,193.00 L412.50,193.00 L412.75,193.00 L413.00,193.00 L413.25,193.00 L413.50,193.00 L413.75,193.00 L414.00,193.00 L414.25,193.00 L414.50,193.00 L414.75,193.00 L415.00,193.00 L415.25,193.00 L415.50,193.00 L415.75,193.00 L416.00,193.00 L416.25,193.00 L416.50,193.00 L416.75,193.00 L417.00,193.00 L417.25,193.00 L417.50,193.00 L417.75,193.00 L418.00,193.00 L418.25,193.00 L418.50,193.00 L418.75,193.00 L419.00,193.00 L419.25,193.00 L419.50,193.00 L419.75,193.00 L420.00,193.00 L420.25,193.00 L420.50,193.00 L420.75,193.00 L421.00,193.00 L421.25,193.00 L421.50,193.00 L421.75,193.00 L422.00,193.00 L422.25,193.00 L422.50,193.00 L422.75,193.00 L423.00,193.00 L423.25,193.00 L423.50,193.00 L423.75,193.00 L424.00,193.00 L424.25,193.00 L424.50,193.00 L424.75,193.00 L425.00,193.00 L425.25,193.00 L425.50,193.00 L425.75,193.00 L426.00,193.00 L426.25,193.00 L426.50,193.00 L426.75,193.00 L427.00,193.00 L427.25,192.00 L427.50,192.00 L427.75,192.00 L428.00,192.00 L428.25,192.00 L428.50,192.00 L428.75,192.00 L429.00,192.00 L429.25,192.00 L429.50,192.00 L429.75,192.00 L430.00,192.00 L430.25,185.15 L430.50,186.74 L430.75,188.02 L431.00,189.03 L431.25,189.84 L431.50,190.48 L431.75,190.77 L432.00,190.88 L432.25,190.83 L432.50,190.75 L432.75,190.78 L433.00,190.93 L433.25,191.03 L433.50,190.96 L433.75,190.80 L434.00,190.73 L434.25,190.81 L434.50,190.89 L434.75,190.84 L435.00,190.69 L435.25,190.61 L435.50,190.70 L435.75,190.85 L436.00,190.90 L436.25,190.83 L436.50,190.77 L436.75,190.87 L437.00,191.05 L437.25,191.13 L437.50,191.05 L437.75,190.93 L438.00,190.93 L438.25,191.04 L438.50,191.09 L438.75,190.99 L439.00,190.82 L439.25,190.77 L439.50,190.86 L439.75,190.97 L440.00,190.95 L440.25,190.84 L440.50,190.81 L440.75,190.94 L441.00,191.12 L441.25,191.17 L441.50,191.09 L441.75,191.02 L442.00,191.10 L442.25,191.24 L442.50,191.27 L442.75,191.14 L443.00,190.99 L443.25,190.98 L443.50,191.08 L443.75,191.13 L444.00,191.03 L444.25,190.90 L444.50,190.89 L444.75,191.03 L445.00,191.17 L445.25,191.18 L445.50,191.09 L445.75,191.08 L446.00,191.22 L446.25,191.37 L446.50,191.38 L446.75,191.24 L447.00,191.12 L447.25,191.11 L447.50,191.14 L447.75,191.01 L448.00,190.69 L448.25,190.31 L448.50,190.04 L448.75,189.88 L449.00,189.69 L449.25,189.45 L449.50,189.30 L449.75,189.40 L450.00,189.75 L450.25,190.16 L450.50,190.44 L450.75,190.62 L451.00,192.60 L451.25,192.82 L451.50,192.93 L451.75,192.98 L452.00,192.99 L452.25,193.00 L452.50,193.00 L452.75,193.00 L453.00,193.00 L453.25,193.00 L453.50,193.00 L453.75,193.00 L454.00,193.00 L454.25,193.00 L454.50,193.00 L454.75,193.00 L455.00,193.00 L455.25,193.00 L455.50,193.00 L455.75,193.00 L456.00,193.00 L456.25,193.00 L456.50,193.00 L456.75,193.00 L457.00,193.00 L457.25,193.00 L457.50,193.00 L457.75,193.00 L458.00,193.00 L458.25,193.00 L458.50,193.00 L458.75,193.00 L459.00,193.00 L459.25,193.00 L459.50,193.00 L459.75,193.00 L460.00,193.00 L460.25,193.00 L460.50,193.00 L460.75,193.00 L461.00,193.00 L461.25,193.00 L461.50,193.00 L461.75,193.00 L462.00,193.00 L462.25,193.00 L462.50,193.00 L462.75,193.00 L462.80,193.00 Z" fill="#000"/>
<path d="M428.40,193.00 L429.35,157.70 L430.85,157.70 L432.40,193.00 Z" fill="#000"/>
<line x1="433.50" y1="171.50" x2="459.40" y2="171.50" stroke="#777" stroke-width="0.9" />
<line x1="433.50" y1="169.50" x2="433.50" y2="173.50" stroke="#777" stroke-width="0.9" />
<line x1="459.40" y1="169.50" x2="459.40" y2="173.50" stroke="#777" stroke-width="0.9" />
<text x="434.20" y="166.60" font-family="'Liberation Serif', 'Times New Roman', serif" font-size="12.6" text-anchor="start" font-weight="normal" fill="#111" textLength="22.80" lengthAdjust="spacingAndGlyphs"  stroke="#111" stroke-width="0.20">32.9</text>
<path d="M219.00,247.85 L219.00,247.85 L219.25,247.85 L219.50,247.85 L219.75,247.85 L220.00,247.85 L220.25,247.85 L220.50,247.85 L220.75,247.85 L221.00,247.85 L221.25,247.85 L221.50,247.85 L221.75,247.85 L222.00,247.85 L222.25,247.85 L222.50,247.85 L222.75,247.85 L223.00,247.85 L223.25,247.85 L223.50,247.85 L223.75,247.85 L224.00,247.85 L224.25,247.85 L224.50,247.85 L224.75,247.35 L225.00,247.35 L225.25,247.35 L225.50,247.35 L225.75,247.35 L226.00,247.35 L226.25,247.35 L226.50,247.35 L226.75,247.35 L227.00,247.35 L227.25,247.35 L227.50,247.35 L227.75,247.35 L228.00,247.35 L228.25,247.35 L228.50,247.35 L228.75,247.35 L229.00,247.35 L229.25,247.35 L229.50,247.34 L229.75,247.34 L230.00,247.34 L230.25,247.34 L230.50,247.34 L230.75,247.34 L231.00,247.34 L231.25,247.34 L231.50,247.34 L231.75,247.34 L232.00,247.33 L232.25,247.33 L232.50,247.33 L232.75,247.33 L233.00,247.33 L233.25,247.32 L233.50,247.32 L233.75,247.32 L234.00,247.31 L234.25,247.31 L234.50,247.31 L234.75,247.30 L235.00,247.30 L235.25,247.29 L235.50,247.29 L235.75,247.28 L236.00,247.28 L236.25,247.27 L236.50,247.27 L236.75,247.26 L237.00,247.25 L237.25,247.24 L237.50,247.24 L237.75,247.23 L238.00,247.22 L238.25,247.21 L238.50,247.20 L238.75,247.19 L239.00,247.18 L239.25,247.16 L239.50,247.15 L239.75,247.14 L240.00,247.13 L240.25,247.11 L240.50,247.10 L240.75,247.08 L241.00,247.07 L241.25,247.05 L241.50,247.04 L241.75,247.02 L242.00,247.00 L242.25,246.98 L242.50,246.97 L242.75,246.95 L243.00,246.93 L243.25,246.91 L243.50,246.89 L243.75,246.87 L244.00,246.85 L244.25,246.83 L244.50,246.81 L244.75,246.79 L245.00,246.77 L245.25,246.75 L245.50,246.73 L245.75,246.71 L246.00,246.69 L246.25,246.68 L246.50,246.66 L246.75,246.64 L247.00,246.62 L247.25,246.61 L247.50,246.59 L247.75,246.57 L248.00,246.56 L248.25,246.54 L248.50,246.53 L248.75,246.52 L249.00,246.51 L249.25,246.50 L249.50,246.49 L249.75,246.48 L250.00,246.47 L250.25,246.46 L250.50,246.46 L250.75,246.46 L251.00,246.45 L251.25,246.45 L251.50,246.45 L251.75,246.45 L252.00,246.46 L252.25,246.48 L252.50,246.50 L252.75,246.52 L253.00,246.56 L253.25,246.59 L253.50,246.63 L253.75,246.67 L254.00,246.71 L254.25,246.76 L254.50,246.80 L254.75,246.85 L255.00,246.89 L255.25,246.94 L255.50,246.98 L255.75,247.02 L256.00,247.06 L256.25,247.09 L256.50,247.13 L256.75,247.16 L257.00,247.18 L257.25,247.21 L257.50,247.23 L257.75,247.25 L258.00,247.26 L258.25,247.28 L258.50,247.29 L258.75,247.30 L259.00,247.31 L259.25,247.32 L259.50,247.32 L259.75,247.33 L260.00,247.33 L260.25,247.34 L260.50,247.34 L260.75,247.34 L261.00,247.34 L261.25,247.35 L261.50,247.35 L261.75,247.35 L262.00,247.35 L262.25,247.08 L262.50,247.08 L262.75,247.09 L263.00,247.10 L263.25,247.11 L263.50,247.12 L263.75,247.13 L264.00,247.15 L264.25,247.15 L264.50,246.81 L264.75,246.14 L265.00,245.14 L265.25,244.08 L265.50,243.42 L265.75,243.50 L266.00,244.28 L266.25,245.36 L266.50,246.30 L266.75,246.90 L267.00,247.19 L267.25,247.81 L267.50,247.82 L267.75,247.83 L268.00,247.83 L268.25,247.84 L268.50,247.84 L268.75,247.84 L269.00,247.84 L269.25,247.85 L269.50,247.85 L269.75,247.85 L270.00,247.85 L270.25,247.85 L270.50,247.85 L270.75,247.85 L271.00,247.85 L271.25,247.85 L271.30,247.85 Z" fill="#000"/>
<path d="M261.10,247.85 L261.65,200.70 L262.55,200.70 L263.10,247.85 Z" fill="#000"/>
<line x1="232.00" y1="233.00" x2="261.50" y2="233.00" stroke="#777" stroke-width="0.9" />
<line x1="232.00" y1="231.00" x2="232.00" y2="235.00" stroke="#777" stroke-width="0.9" />
<line x1="261.50" y1="231.00" x2="261.50" y2="235.00" stroke="#777" stroke-width="0.9" />
<text x="231.80" y="222.30" font-family="'Liberation Serif', 'Times New Roman', serif" font-size="12.6" text-anchor="start" font-weight="normal" fill="#111" textLength="22.20" lengthAdjust="spacingAndGlyphs"  stroke="#111" stroke-width="0.20">17.2</text>
<path d="M280.00,247.85 L280.00,247.85 L280.25,247.85 L280.50,247.85 L280.75,247.85 L281.00,247.85 L281.25,247.85 L281.50,247.85 L281.75,247.85 L282.00,247.85 L282.25,247.85 L282.50,247.85 L282.75,247.85 L283.00,247.85 L283.25,247.85 L283.50,247.85 L283.75,247.85 L284.00,247.85 L284.25,247.85 L284.50,247.85 L284.75,247.85 L285.00,247.85 L285.25,247.85 L285.50,247.85 L285.75,247.85 L286.00,247.85 L286.25,247.85 L286.50,247.85 L286.75,247.85 L287.00,247.85 L287.25,247.85 L287.50,247.85 L287.75,247.85 L288.00,247.85 L288.25,247.85 L288.50,247.85 L288.75,247.85 L289.00,247.85 L289.25,247.85 L289.50,247.85 L289.75,247.85 L290.00,247.85 L290.25,247.85 L290.50,247.85 L290.75,247.85 L291.00,247.85 L291.25,247.85 L291.50,247.85 L291.75,247.85 L292.00,247.85 L292.25,247.85 L292.50,247.85 L292.75,247.85 L293.00,247.85 L293.25,247.85 L293.50,247.85 L293.75,247.85 L294.00,247.85 L294.25,247.85 L294.50,247.85 L294.75,247.85 L295.00,247.85 L295.25,247.85 L295.50,247.85 L295.75,247.85 L296.00,247.85 L296.25,247.85 L296.50,247.85 L296.75,247.85 L297.00,247.85 L297.25,246.85 L297.50,246.85 L297.75,246.85 L298.00,246.85 L298.25,246.85 L298.50,246.85 L298.75,246.85 L299.00,246.85 L299.25,246.85 L299.50,246.85 L299.75,246.85 L300.00,238.85 L300.25,240.68 L300.50,242.14 L300.75,243.30 L301.00,244.22 L301.25,244.96 L301.50,245.48 L301.75,245.47 L302.00,245.60 L302.25,245.77 L302.50,245.81 L302.75,245.71 L303.00,245.63 L303.25,245.68 L303.50,245.80 L303.75,245.81 L304.00,245.67 L304.25,245.52 L304.50,245.51 L304.75,245.62 L305.00,245.68 L305.25,245.61 L305.50,245.50 L305.75,245.51 L306.00,245.67 L306.25,245.82 L306.50,245.82 L306.75,245.73 L307.00,245.71 L307.25,245.83 L307.50,245.97 L307.75,245.96 L308.00,245.81 L308.25,245.69 L308.50,245.73 L308.75,245.83 L309.00,245.83 L309.25,245.69 L309.50,245.57 L309.75,245.60 L310.00,245.76 L310.25,245.85 L310.50,245.81 L310.75,245.73 L311.00,245.77 L311.25,245.94 L311.50,246.07 L311.75,246.04 L312.00,245.91 L312.25,245.86 L312.50,245.94 L312.75,246.04 L313.00,245.99 L313.25,245.82 L313.50,245.71 L313.75,245.76 L314.00,245.88 L314.25,245.91 L314.50,245.81 L314.75,245.74 L315.00,245.82 L315.25,246.00 L315.50,246.11 L315.75,246.06 L316.00,245.97 L316.25,245.99 L316.50,246.13 L316.75,246.21 L317.00,246.13 L317.25,245.97 L317.50,245.90 L317.75,245.97 L318.00,246.05 L318.25,246.01 L318.50,245.86 L318.75,245.78 L319.00,245.86 L319.25,245.97 L319.50,245.95 L319.75,245.75 L320.00,245.52 L320.25,245.37 L320.50,245.26 L320.75,245.04 L321.00,244.68 L321.25,244.37 L321.50,244.30 L321.75,244.46 L322.00,244.69 L322.25,244.85 L322.50,244.98 L322.75,245.22 L323.00,247.45 L323.25,247.67 L323.50,247.78 L323.75,247.83 L324.00,247.84 L324.25,247.85 L324.50,247.85 L324.75,247.85 L325.00,247.85 L325.25,247.85 L325.50,247.85 L325.75,247.85 L326.00,247.85 L326.25,247.85 L326.50,247.85 L326.75,247.85 L327.00,247.85 L327.25,247.85 L327.50,247.85 L327.75,247.85 L328.00,247.85 L328.25,247.85 L328.50,247.85 L328.75,247.85 L329.00,247.85 L329.25,247.85 L329.50,247.85 L329.75,247.85 L330.00,247.85 L330.25,247.85 L330.50,247.85 L330.75,247.85 L331.00,247.85 L331.25,247.85 L331.50,247.85 L331.75,247.85 L332.00,247.85 L332.00,247.85 Z" fill="#000"/>
<path d="M298.30,247.85 L299.25,204.40 L300.75,204.40 L302.30,247.85 Z" fill="#000"/>
<line x1="303.40" y1="227.50" x2="329.30" y2="227.50" stroke="#777" stroke-width="0.9" />
<line x1="303.40" y1="225.50" x2="303.40" y2="229.50" stroke="#777" stroke-width="0.9" />
<line x1="329.30" y1="225.50" x2="329.30" y2="229.50" stroke="#777" stroke-width="0.9" />
<text x="304.80" y="222.30" font-family="'Liberation Serif', 'Times New Roman', serif" font-size="12.6" text-anchor="start" font-weight="normal" fill="#111" textLength="23.10" lengthAdjust="spacingAndGlyphs"  stroke="#111" stroke-width="0.20">25.8</text>
<path d="M349.25,247.85 L349.25,247.85 L349.50,247.85 L349.75,247.85 L350.00,247.85 L350.25,247.85 L350.50,247.85 L350.75,247.85 L351.00,247.85 L351.25,247.85 L351.50,247.85 L351.75,247.85 L352.00,247.85 L352.25,247.85 L352.50,247.85 L352.75,247.85 L353.00,247.85 L353.25,247.85 L353.50,247.85 L353.75,247.85 L354.00,247.85 L354.25,247.85 L354.50,247.85 L354.75,247.85 L355.00,247.35 L355.25,247.35 L355.50,247.35 L355.75,247.35 L356.00,247.35 L356.25,247.35 L356.50,247.35 L356.75,247.35 L357.00,247.35 L357.25,247.35 L357.50,247.35 L357.75,247.35 L358.00,247.35 L358.25,247.35 L358.50,247.35 L358.75,247.35 L359.00,247.35 L359.25,247.35 L359.50,247.35 L359.75,247.35 L360.00,247.35 L360.25,247.35 L360.50,247.34 L360.75,247.34 L361.00,247.34 L361.25,247.34 L361.50,247.34 L361.75,247.34 L362.00,247.34 L362.25,247.34 L362.50,247.34 L362.75,247.34 L363.00,247.33 L363.25,247.33 L363.50,247.33 L363.75,247.33 L364.00,247.33 L364.25,247.32 L364.50,247.32 L364.75,247.32 L365.00,247.31 L365.25,247.31 L365.50,247.31 L365.75,247.30 L366.00,247.30 L366.25,247.29 L366.50,247.29 L366.75,247.28 L367.00,247.28 L367.25,247.27 L367.50,247.27 L367.75,247.26 L368.00,247.25 L368.25,247.24 L368.50,247.24 L368.75,247.23 L369.00,247.22 L369.25,247.21 L369.50,247.20 L369.75,247.19 L370.00,247.18 L370.25,247.16 L370.50,247.15 L370.75,247.14 L371.00,247.13 L371.25,247.11 L371.50,247.10 L371.75,247.08 L372.00,247.07 L372.25,247.05 L372.50,247.04 L372.75,247.02 L373.00,247.00 L373.25,246.98 L373.50,246.97 L373.75,246.95 L374.00,246.93 L374.25,246.91 L374.50,246.89 L374.75,246.87 L375.00,246.85 L375.25,246.83 L375.50,246.81 L375.75,246.79 L376.00,246.77 L376.25,246.75 L376.50,246.73 L376.75,246.71 L377.00,246.69 L377.25,246.68 L377.50,246.66 L377.75,246.64 L378.00,246.62 L378.25,246.61 L378.50,246.59 L378.75,246.57 L379.00,246.56 L379.25,246.54 L379.50,246.53 L379.75,246.52 L380.00,246.51 L380.25,246.50 L380.50,246.49 L380.75,246.48 L381.00,246.47 L381.25,246.46 L381.50,246.46 L381.75,246.46 L382.00,246.45 L382.25,246.45 L382.50,246.45 L382.75,246.45 L383.00,246.46 L383.25,246.48 L383.50,246.50 L383.75,246.52 L384.00,246.56 L384.25,246.59 L384.50,246.63 L384.75,246.67 L385.00,246.71 L385.25,246.76 L385.50,246.80 L385.75,246.85 L386.00,246.89 L386.25,246.94 L386.50,246.98 L386.75,247.02 L387.00,247.06 L387.25,247.09 L387.50,247.13 L387.75,247.16 L388.00,247.18 L388.25,247.21 L388.50,247.23 L388.75,247.25 L389.00,247.26 L389.25,247.28 L389.50,247.29 L389.75,247.30 L390.00,247.31 L390.25,247.32 L390.50,247.32 L390.75,247.33 L391.00,247.33 L391.25,247.34 L391.50,247.34 L391.75,247.34 L392.00,247.34 L392.25,247.35 L392.50,247.35 L392.75,247.08 L393.00,247.08 L393.25,247.09 L393.50,247.10 L393.75,247.11 L394.00,247.12 L394.25,247.06 L394.50,246.57 L394.75,245.59 L395.00,244.15 L395.25,242.61 L395.50,241.65 L395.75,241.76 L396.00,242.90 L396.25,244.47 L396.50,245.83 L396.75,246.70 L397.00,247.12 L397.25,247.29 L397.50,247.31 L397.75,247.82 L398.00,247.82 L398.25,247.83 L398.50,247.83 L398.75,247.84 L399.00,247.84 L399.25,247.84 L399.50,247.84 L399.75,247.85 L400.00,247.85 L400.25,247.85 L400.50,247.85 L400.75,247.85 L401.00,247.85 L401.25,247.85 L401.50,247.85 L401.55,247.85 Z" fill="#000"/>
<path d="M391.60,247.85 L392.15,201.00 L393.05,201.00 L393.60,247.85 Z" fill="#000"/>
<line x1="361.50" y1="233.10" x2="392.00" y2="233.10" stroke="#777" stroke-width="0.9" />
<line x1="361.50" y1="231.10" x2="361.50" y2="235.10" stroke="#777" stroke-width="0.9" />
<line x1="392.00" y1="231.10" x2="392.00" y2="235.10" stroke="#777" stroke-width="0.9" />
<text x="361.50" y="222.00" font-family="'Liberation Serif', 'Times New Roman', serif" font-size="12.6" text-anchor="start" font-weight="normal" fill="#111" textLength="22.80" lengthAdjust="spacingAndGlyphs"  stroke="#111" stroke-width="0.20">19.4</text>
<path d="M410.50,247.85 L410.50,247.85 L410.75,247.85 L411.00,247.85 L411.25,247.85 L411.50,247.85 L411.75,247.85 L412.00,247.85 L412.25,247.85 L412.50,247.85 L412.75,247.85 L413.00,247.85 L413.25,247.85 L413.50,247.85 L413.75,247.85 L414.00,247.85 L414.25,247.85 L414.50,247.85 L414.75,247.85 L415.00,247.85 L415.25,247.85 L415.50,247.85 L415.75,247.85 L416.00,247.85 L416.25,247.85 L416.50,247.85 L416.75,247.85 L417.00,247.85 L417.25,247.85 L417.50,247.85 L417.75,247.85 L418.00,247.85 L418.25,247.85 L418.50,247.85 L418.75,247.85 L419.00,247.85 L419.25,247.85 L419.50,247.85 L419.75,247.85 L420.00,247.85 L420.25,247.85 L420.50,247.85 L420.75,247.85 L421.00,247.85 L421.25,247.85 L421.50,247.85 L421.75,247.85 L422.00,247.85 L422.25,247.85 L422.50,247.85 L422.75,247.85 L423.00,247.85 L423.25,247.85 L423.50,247.85 L423.75,247.85 L424.00,247.85 L424.25,247.85 L424.50,247.85 L424.75,247.85 L425.00,247.85 L425.25,247.85 L425.50,247.85 L425.75,247.85 L426.00,247.85 L426.25,247.85 L426.50,247.85 L426.75,247.85 L427.00,247.85 L427.25,246.85 L427.50,246.85 L427.75,246.85 L428.00,246.85 L428.25,246.85 L428.50,246.85 L428.75,246.85 L429.00,246.85 L429.25,246.85 L429.50,246.85 L429.75,246.85 L430.00,246.85 L430.25,240.00 L430.50,241.59 L430.75,242.87 L431.00,243.88 L431.25,244.69 L431.50,245.20 L431.75,245.40 L432.00,245.52 L432.25,245.47 L432.50,245.38 L432.75,245.41 L433.00,245.57 L433.25,245.68 L433.50,245.60 L433.75,245.43 L434.00,245.36 L434.25,245.44 L434.50,245.53 L434.75,245.47 L435.00,245.30 L435.25,245.22 L435.50,245.32 L435.75,245.49 L436.00,245.54 L436.25,245.46 L436.50,245.40 L436.75,245.51 L437.00,245.70 L437.25,245.79 L437.50,245.71 L437.75,245.58 L438.00,245.58 L438.25,245.69 L438.50,245.75 L438.75,245.64 L439.00,245.46 L439.25,245.40 L439.50,245.50 L439.75,245.62 L440.00,245.59 L440.25,245.47 L440.50,245.44 L440.75,245.59 L441.00,245.78 L441.25,245.84 L441.50,245.75 L441.75,245.68 L442.00,245.76 L442.25,245.91 L442.50,245.95 L442.75,245.81 L443.00,245.64 L443.25,245.63 L443.50,245.74 L443.75,245.79 L444.00,245.69 L444.25,245.54 L444.50,245.53 L444.75,245.69 L445.00,245.84 L445.25,245.85 L445.50,245.75 L445.75,245.74 L446.00,245.89 L446.25,246.06 L446.50,246.07 L446.75,245.92 L447.00,245.78 L447.25,245.78 L447.50,245.80 L447.75,245.66 L448.00,245.31 L448.25,244.89 L448.50,244.59 L448.75,244.41 L449.00,244.21 L449.25,243.95 L449.50,243.78 L449.75,243.89 L450.00,244.28 L450.25,244.72 L450.50,245.04 L450.75,245.23 L451.00,247.41 L451.25,247.65 L451.50,247.77 L451.75,247.82 L452.00,247.84 L452.25,247.85 L452.50,247.85 L452.75,247.85 L453.00,247.85 L453.25,247.85 L453.50,247.85 L453.75,247.85 L454.00,247.85 L454.25,247.85 L454.50,247.85 L454.75,247.85 L455.00,247.85 L455.25,247.85 L455.50,247.85 L455.75,247.85 L456.00,247.85 L456.25,247.85 L456.50,247.85 L456.75,247.85 L457.00,247.85 L457.25,247.85 L457.50,247.85 L457.75,247.85 L458.00,247.85 L458.25,247.85 L458.50,247.85 L458.75,247.85 L459.00,247.85 L459.25,247.85 L459.50,247.85 L459.75,247.85 L460.00,247.85 L460.25,247.85 L460.50,247.85 L460.75,247.85 L461.00,247.85 L461.25,247.85 L461.50,247.85 L461.75,247.85 L462.00,247.85 L462.25,247.85 L462.50,247.85 L462.75,247.85 L462.80,247.85 Z" fill="#000"/>
<path d="M428.40,247.85 L429.35,207.90 L430.85,207.90 L432.40,247.85 Z" fill="#000"/>
<line x1="433.50" y1="228.00" x2="459.40" y2="228.00" stroke="#777" stroke-width="0.9" />
<line x1="433.50" y1="226.00" x2="433.50" y2="230.00" stroke="#777" stroke-width="0.9" />
<line x1="459.40" y1="226.00" x2="459.40" y2="230.00" stroke="#777" stroke-width="0.9" />
<text x="434.20" y="220.20" font-family="'Liberation Serif', 'Times New Roman', serif" font-size="12.6" text-anchor="start" font-weight="normal" fill="#111" textLength="22.80" lengthAdjust="spacingAndGlyphs"  stroke="#111" stroke-width="0.20">28.4</text>
<path d="M219.00,302.70 L219.00,302.70 L219.25,302.70 L219.50,302.70 L219.75,302.70 L220.00,302.70 L220.25,302.70 L220.50,302.70 L220.75,302.70 L221.00,302.70 L221.25,302.70 L221.50,302.70 L221.75,302.70 L222.00,302.70 L222.25,302.70 L222.50,302.70 L222.75,302.70 L223.00,302.70 L223.25,302.70 L223.50,302.70 L223.75,302.70 L224.00,302.70 L224.25,302.70 L224.50,302.70 L224.75,302.20 L225.00,302.20 L225.25,302.20 L225.50,302.20 L225.75,302.20 L226.00,302.20 L226.25,302.20 L226.50,302.20 L226.75,302.20 L227.00,302.20 L227.25,302.20 L227.50,302.20 L227.75,302.20 L228.00,302.20 L228.25,302.20 L228.50,302.20 L228.75,302.20 L229.00,302.20 L229.25,302.19 L229.50,302.19 L229.75,302.19 L230.00,302.19 L230.25,302.19 L230.50,302.19 L230.75,302.19 L231.00,302.19 L231.25,302.19 L231.50,302.19 L231.75,302.18 L232.00,302.18 L232.25,302.18 L232.50,302.18 L232.75,302.18 L233.00,302.17 L233.25,302.17 L233.50,302.17 L233.75,302.16 L234.00,302.16 L234.25,302.16 L234.50,302.15 L234.75,302.15 L235.00,302.14 L235.25,302.14 L235.50,302.13 L235.75,302.13 L236.00,302.12 L236.25,302.11 L236.50,302.11 L236.75,302.10 L237.00,302.09 L237.25,302.08 L237.50,302.07 L237.75,302.06 L238.00,302.05 L238.25,302.04 L238.50,302.03 L238.75,302.02 L239.00,302.01 L239.25,301.99 L239.50,301.98 L239.75,301.97 L240.00,301.95 L240.25,301.94 L240.50,301.92 L240.75,301.90 L241.00,301.89 L241.25,301.87 L241.50,301.85 L241.75,301.83 L242.00,301.81 L242.25,301.79 L242.50,301.77 L242.75,301.75 L243.00,301.73 L243.25,301.71 L243.50,301.69 L243.75,301.67 L244.00,301.65 L244.25,301.62 L244.50,301.60 L244.75,301.58 L245.00,301.56 L245.25,301.54 L245.50,301.51 L245.75,301.49 L246.00,301.47 L246.25,301.45 L246.50,301.43 L246.75,301.41 L247.00,301.39 L247.25,301.37 L247.50,301.35 L247.75,301.34 L248.00,301.32 L248.25,301.30 L248.50,301.29 L248.75,301.28 L249.00,301.26 L249.25,301.25 L249.50,301.24 L249.75,301.23 L250.00,301.22 L250.25,301.22 L250.50,301.21 L250.75,301.21 L251.00,301.20 L251.25,301.20 L251.50,301.20 L251.75,301.20 L252.00,301.21 L252.25,301.23 L252.50,301.25 L252.75,301.28 L253.00,301.32 L253.25,301.36 L253.50,301.40 L253.75,301.45 L254.00,301.49 L254.25,301.54 L254.50,301.59 L254.75,301.64 L255.00,301.69 L255.25,301.74 L255.50,301.79 L255.75,301.83 L256.00,301.88 L256.25,301.91 L256.50,301.95 L256.75,301.98 L257.00,302.01 L257.25,302.04 L257.50,302.06 L257.75,302.09 L258.00,302.10 L258.25,302.12 L258.50,302.13 L258.75,302.15 L259.00,302.16 L259.25,302.16 L259.50,302.17 L259.75,302.18 L260.00,302.18 L260.25,302.19 L260.50,302.19 L260.75,302.19 L261.00,302.19 L261.25,302.19 L261.50,302.20 L261.75,302.20 L262.00,302.20 L262.25,302.20 L262.50,302.20 L262.75,301.90 L263.00,301.90 L263.25,301.91 L263.50,301.91 L263.75,301.93 L264.00,301.94 L264.25,301.95 L264.50,301.97 L264.75,301.99 L265.00,301.77 L265.25,300.96 L265.50,299.32 L265.75,296.73 L266.00,293.76 L266.25,291.60 L266.50,291.38 L266.75,293.22 L267.00,296.13 L267.25,298.87 L267.50,300.71 L267.75,302.16 L268.00,302.54 L268.25,302.66 L268.50,302.68 L268.75,302.68 L269.00,302.69 L269.25,302.69 L269.50,302.69 L269.75,302.69 L270.00,302.70 L270.25,302.70 L270.50,302.70 L270.75,302.70 L271.00,302.70 L271.25,302.70 L271.30,302.70 Z" fill="#000"/>
<path d="M261.70,302.70 L262.25,256.90 L263.15,256.90 L263.70,302.70 Z" fill="#000"/>
<line x1="232.00" y1="290.70" x2="262.00" y2="290.70" stroke="#777" stroke-width="0.9" />
<line x1="232.00" y1="288.70" x2="232.00" y2="292.70" stroke="#777" stroke-width="0.9" />
<line x1="262.00" y1="288.70" x2="262.00" y2="292.70" stroke="#777" stroke-width="0.9" />
<text x="231.80" y="283.40" font-family="'Liberation Serif', 'Times New Roman', serif" font-size="12.6" text-anchor="start" font-weight="normal" fill="#111" textLength="22.20" lengthAdjust="spacingAndGlyphs"  stroke="#111" stroke-width="0.20">18.1</text>
<path d="M280.00,302.70 L280.00,302.70 L280.25,302.70 L280.50,302.70 L280.75,302.70 L281.00,302.70 L281.25,302.70 L281.50,302.70 L281.75,302.70 L282.00,302.70 L282.25,302.70 L282.50,302.70 L282.75,302.70 L283.00,302.70 L283.25,302.70 L283.50,302.70 L283.75,302.70 L284.00,302.70 L284.25,302.70 L284.50,302.70 L284.75,302.70 L285.00,302.70 L285.25,302.70 L285.50,302.70 L285.75,302.70 L286.00,302.70 L286.25,302.70 L286.50,302.70 L286.75,302.70 L287.00,302.70 L287.25,302.70 L287.50,302.70 L287.75,302.70 L288.00,302.70 L288.25,302.70 L288.50,302.70 L288.75,302.70 L289.00,302.70 L289.25,302.70 L289.50,302.70 L289.75,302.70 L290.00,302.70 L290.25,302.70 L290.50,302.70 L290.75,302.70 L291.00,302.70 L291.25,302.70 L291.50,302.70 L291.75,302.70 L292.00,302.70 L292.25,302.70 L292.50,302.70 L292.75,302.70 L293.00,302.70 L293.25,302.70 L293.50,302.70 L293.75,302.70 L294.00,302.70 L294.25,302.70 L294.50,302.70 L294.75,302.70 L295.00,302.70 L295.25,302.70 L295.50,302.70 L295.75,302.70 L296.00,302.70 L296.25,302.70 L296.50,302.70 L296.75,302.70 L297.00,302.70 L297.25,302.70 L297.50,302.70 L297.75,302.70 L298.00,302.70 L298.25,302.70 L298.50,302.70 L298.75,302.70 L299.00,302.70 L299.25,301.70 L299.50,301.70 L299.75,301.70 L300.00,301.70 L300.25,301.70 L300.50,301.70 L300.75,301.70 L301.00,301.70 L301.25,301.70 L301.50,301.70 L301.75,301.70 L302.00,293.70 L302.25,295.53 L302.50,296.99 L302.75,298.15 L303.00,298.16 L303.25,298.27 L303.50,298.50 L303.75,298.53 L304.00,298.25 L304.25,297.95 L304.50,297.93 L304.75,298.15 L305.00,298.28 L305.25,298.13 L305.50,297.90 L305.75,297.93 L306.00,298.25 L306.25,298.55 L306.50,298.56 L306.75,298.38 L307.00,298.34 L307.25,298.58 L307.50,298.85 L307.75,298.83 L308.00,298.54 L308.25,298.31 L308.50,298.37 L308.75,298.57 L309.00,298.57 L309.25,298.31 L309.50,298.06 L309.75,298.13 L310.00,298.44 L310.25,298.63 L310.50,298.55 L310.75,298.38 L311.00,298.47 L311.25,298.80 L311.50,299.07 L311.75,299.01 L312.00,298.75 L312.25,298.65 L312.50,298.82 L312.75,299.01 L313.00,298.91 L313.25,298.58 L313.50,298.36 L313.75,298.46 L314.00,298.71 L314.25,298.76 L314.50,298.57 L314.75,298.42 L315.00,298.58 L315.25,298.95 L315.50,299.16 L315.75,299.07 L316.00,298.88 L316.25,298.93 L316.50,299.20 L316.75,299.37 L317.00,299.21 L317.25,298.89 L317.50,298.75 L317.75,298.89 L318.00,299.06 L318.25,298.97 L318.50,298.69 L318.75,298.55 L319.00,298.74 L319.25,299.05 L319.50,299.11 L319.75,298.87 L320.00,298.61 L320.25,298.54 L320.50,298.52 L320.75,298.19 L321.00,297.44 L321.25,296.60 L321.50,296.05 L321.75,295.89 L322.00,295.86 L322.25,295.78 L322.50,295.82 L322.75,296.25 L323.00,297.05 L323.25,297.85 L323.50,301.90 L323.75,302.34 L324.00,302.56 L324.25,302.65 L324.50,302.69 L324.75,302.70 L325.00,302.70 L325.25,302.70 L325.50,302.70 L325.75,302.70 L326.00,302.70 L326.25,302.70 L326.50,302.70 L326.75,302.70 L327.00,302.70 L327.25,302.70 L327.50,302.70 L327.75,302.70 L328.00,302.70 L328.25,302.70 L328.50,302.70 L328.75,302.70 L329.00,302.70 L329.25,302.70 L329.50,302.70 L329.75,302.70 L330.00,302.70 L330.25,302.70 L330.50,302.70 L330.75,302.70 L331.00,302.70 L331.25,302.70 L331.50,302.70 L331.75,302.70 L332.00,302.70 L332.00,302.70 Z" fill="#000"/>
<path d="M300.30,302.70 L301.25,262.10 L302.75,262.10 L304.30,302.70 Z" fill="#000"/>
<line x1="303.50" y1="288.60" x2="329.50" y2="288.60" stroke="#777" stroke-width="0.9" />
<line x1="303.50" y1="286.60" x2="303.50" y2="290.60" stroke="#777" stroke-width="0.9" />
<line x1="329.50" y1="286.60" x2="329.50" y2="290.60" stroke="#777" stroke-width="0.9" />
<text x="304.80" y="283.40" font-family="'Liberation Serif', 'Times New Roman', serif" font-size="12.6" text-anchor="start" font-weight="normal" fill="#111" textLength="23.10" lengthAdjust="spacingAndGlyphs"  stroke="#111" stroke-width="0.20">48.4</text>
<path d="M349.25,302.70 L349.25,302.70 L349.50,302.70 L349.75,302.70 L350.00,302.70 L350.25,302.70 L350.50,302.70 L350.75,302.70 L351.00,302.70 L351.25,302.70 L351.50,302.70 L351.75,302.70 L352.00,302.70 L352.25,302.70 L352.50,302.70 L352.75,302.70 L353.00,302.70 L353.25,302.70 L353.50,302.70 L353.75,302.70 L354.00,302.70 L354.25,302.70 L354.50,302.70 L354.75,302.70 L355.00,302.20 L355.25,302.20 L355.50,302.20 L355.75,302.20 L356.00,302.20 L356.25,302.20 L356.50,302.20 L356.75,302.20 L357.00,302.20 L357.25,302.20 L357.50,302.20 L357.75,302.20 L358.00,302.20 L358.25,302.20 L358.50,302.20 L358.75,302.20 L359.00,302.20 L359.25,302.20 L359.50,302.20 L359.75,302.20 L360.00,302.20 L360.25,302.19 L360.50,302.19 L360.75,302.19 L361.00,302.19 L361.25,302.19 L361.50,302.19 L361.75,302.19 L362.00,302.19 L362.25,302.19 L362.50,302.19 L362.75,302.18 L363.00,302.18 L363.25,302.18 L363.50,302.18 L363.75,302.18 L364.00,302.17 L364.25,302.17 L364.50,302.17 L364.75,302.16 L365.00,302.16 L365.25,302.16 L365.50,302.15 L365.75,302.15 L366.00,302.14 L366.25,302.14 L366.50,302.13 L366.75,302.13 L367.00,302.12 L367.25,302.11 L367.50,302.11 L367.75,302.10 L368.00,302.09 L368.25,302.08 L368.50,302.07 L368.75,302.06 L369.00,302.05 L369.25,302.04 L369.50,302.03 L369.75,302.02 L370.00,302.01 L370.25,301.99 L370.50,301.98 L370.75,301.97 L371.00,301.95 L371.25,301.94 L371.50,301.92 L371.75,301.90 L372.00,301.89 L372.25,301.87 L372.50,301.85 L372.75,301.83 L373.00,301.81 L373.25,301.79 L373.50,301.77 L373.75,301.75 L374.00,301.73 L374.25,301.71 L374.50,301.69 L374.75,301.67 L375.00,301.65 L375.25,301.62 L375.50,301.60 L375.75,301.58 L376.00,301.56 L376.25,301.54 L376.50,301.51 L376.75,301.49 L377.00,301.47 L377.25,301.45 L377.50,301.43 L377.75,301.41 L378.00,301.39 L378.25,301.37 L378.50,301.35 L378.75,301.34 L379.00,301.32 L379.25,301.30 L379.50,301.29 L379.75,301.28 L380.00,301.26 L380.25,301.25 L380.50,301.24 L380.75,301.23 L381.00,301.22 L381.25,301.22 L381.50,301.21 L381.75,301.21 L382.00,301.20 L382.25,301.20 L382.50,301.20 L382.75,301.20 L383.00,301.21 L383.25,301.23 L383.50,301.25 L383.75,301.28 L384.00,301.32 L384.25,301.36 L384.50,301.40 L384.75,301.45 L385.00,301.49 L385.25,301.54 L385.50,301.59 L385.75,301.64 L386.00,301.69 L386.25,301.74 L386.50,301.79 L386.75,301.83 L387.00,301.88 L387.25,301.91 L387.50,301.95 L387.75,301.98 L388.00,302.01 L388.25,302.04 L388.50,302.06 L388.75,302.09 L389.00,302.10 L389.25,302.12 L389.50,302.13 L389.75,302.15 L390.00,302.16 L390.25,302.16 L390.50,302.17 L390.75,302.18 L391.00,302.18 L391.25,302.19 L391.50,302.19 L391.75,302.19 L392.00,301.90 L392.25,301.90 L392.50,301.91 L392.75,301.92 L393.00,301.93 L393.25,301.94 L393.50,301.96 L393.75,301.97 L394.00,301.79 L394.25,301.02 L394.50,299.45 L394.75,296.98 L395.00,294.14 L395.25,292.08 L395.50,291.87 L395.75,293.62 L396.00,296.41 L396.25,299.02 L396.50,300.78 L396.75,301.68 L397.00,302.55 L397.25,302.66 L397.50,302.68 L397.75,302.68 L398.00,302.68 L398.25,302.69 L398.50,302.69 L398.75,302.69 L399.00,302.69 L399.25,302.70 L399.50,302.70 L399.75,302.70 L400.00,302.70 L400.25,302.70 L400.50,302.70 L400.75,302.70 L401.00,302.70 L401.25,302.70 L401.50,302.70 L401.55,302.70 Z" fill="#000"/>
<path d="M390.90,302.70 L391.45,259.80 L392.35,259.80 L392.90,302.70 Z" fill="#000"/>
<line x1="361.50" y1="290.30" x2="391.50" y2="290.30" stroke="#777" stroke-width="0.9" />
<line x1="361.50" y1="288.30" x2="361.50" y2="292.30" stroke="#777" stroke-width="0.9" />
<line x1="391.50" y1="288.30" x2="391.50" y2="292.30" stroke="#777" stroke-width="0.9" />
<text x="361.50" y="282.40" font-family="'Liberation Serif', 'Times New Roman', serif" font-size="12.6" text-anchor="start" font-weight="normal" fill="#111" textLength="22.80" lengthAdjust="spacingAndGlyphs"  stroke="#111" stroke-width="0.20">10.4</text>
<path d="M410.50,302.70 L410.50,302.70 L410.75,302.70 L411.00,302.70 L411.25,302.70 L411.50,302.70 L411.75,302.70 L412.00,302.70 L412.25,302.70 L412.50,302.70 L412.75,302.70 L413.00,302.70 L413.25,302.70 L413.50,302.70 L413.75,302.70 L414.00,302.70 L414.25,302.70 L414.50,302.70 L414.75,302.70 L415.00,302.70 L415.25,302.70 L415.50,302.70 L415.75,302.70 L416.00,302.70 L416.25,302.70 L416.50,302.70 L416.75,302.70 L417.00,302.70 L417.25,302.70 L417.50,302.70 L417.75,302.70 L418.00,302.70 L418.25,302.70 L418.50,302.70 L418.75,302.70 L419.00,302.70 L419.25,302.70 L419.50,302.70 L419.75,302.70 L420.00,302.70 L420.25,302.70 L420.50,302.70 L420.75,302.70 L421.00,302.70 L421.25,302.70 L421.50,302.70 L421.75,302.70 L422.00,302.70 L422.25,302.70 L422.50,302.70 L422.75,302.70 L423.00,302.70 L423.25,302.70 L423.50,302.70 L423.75,302.70 L424.00,302.70 L424.25,302.70 L424.50,302.70 L424.75,302.70 L425.00,302.70 L425.25,302.70 L425.50,302.70 L425.75,302.70 L426.00,302.70 L426.25,302.70 L426.50,302.70 L426.75,302.70 L427.00,302.70 L427.25,301.70 L427.50,301.70 L427.75,301.70 L428.00,301.70 L428.25,301.70 L428.50,301.70 L428.75,301.70 L429.00,301.70 L429.25,301.70 L429.50,301.70 L429.75,301.70 L430.00,293.70 L430.25,295.53 L430.50,296.99 L430.75,298.12 L431.00,297.91 L431.25,297.74 L431.50,297.89 L431.75,298.25 L432.00,298.46 L432.25,298.38 L432.50,298.21 L432.75,298.28 L433.00,298.57 L433.25,298.76 L433.50,298.62 L433.75,298.31 L434.00,298.18 L434.25,298.33 L434.50,298.49 L434.75,298.38 L435.00,298.08 L435.25,297.93 L435.50,298.11 L435.75,298.42 L436.00,298.52 L436.25,298.37 L436.50,298.26 L436.75,298.45 L437.00,298.81 L437.25,298.97 L437.50,298.81 L437.75,298.58 L438.00,298.58 L438.25,298.80 L438.50,298.90 L438.75,298.70 L439.00,298.36 L439.25,298.25 L439.50,298.45 L439.75,298.66 L440.00,298.61 L440.25,298.39 L440.50,298.34 L440.75,298.60 L441.00,298.96 L441.25,299.06 L441.50,298.89 L441.75,298.77 L442.00,298.92 L442.25,299.20 L442.50,299.26 L442.75,299.01 L443.00,298.71 L443.25,298.68 L443.50,298.88 L443.75,298.98 L444.00,298.79 L444.25,298.52 L444.50,298.50 L444.75,298.79 L445.00,299.07 L445.25,299.08 L445.50,298.90 L445.75,298.88 L446.00,299.14 L446.25,299.43 L446.50,299.41 L446.75,299.07 L447.00,298.71 L447.25,298.55 L447.50,298.39 L447.75,297.91 L448.00,297.06 L448.25,296.19 L448.50,295.69 L448.75,295.59 L449.00,295.62 L449.25,295.64 L449.50,295.82 L449.75,296.41 L450.00,297.34 L450.25,298.20 L450.50,301.90 L450.75,302.34 L451.00,302.56 L451.25,302.65 L451.50,302.69 L451.75,302.70 L452.00,302.70 L452.25,302.70 L452.50,302.70 L452.75,302.70 L453.00,302.70 L453.25,302.70 L453.50,302.70 L453.75,302.70 L454.00,302.70 L454.25,302.70 L454.50,302.70 L454.75,302.70 L455.00,302.70 L455.25,302.70 L455.50,302.70 L455.75,302.70 L456.00,302.70 L456.25,302.70 L456.50,302.70 L456.75,302.70 L457.00,302.70 L457.25,302.70 L457.50,302.70 L457.75,302.70 L458.00,302.70 L458.25,302.70 L458.50,302.70 L458.75,302.70 L459.00,302.70 L459.25,302.70 L459.50,302.70 L459.75,302.70 L460.00,302.70 L460.25,302.70 L460.50,302.70 L460.75,302.70 L461.00,302.70 L461.25,302.70 L461.50,302.70 L461.75,302.70 L462.00,302.70 L462.25,302.70 L462.50,302.70 L462.75,302.70 L462.80,302.70 Z" fill="#000"/>
<path d="M428.30,302.70 L429.25,280.60 L430.75,280.60 L432.30,302.70 Z" fill="#000"/>
<line x1="433.50" y1="289.20" x2="459.40" y2="289.20" stroke="#777" stroke-width="0.9" />
<line x1="433.50" y1="287.20" x2="433.50" y2="291.20" stroke="#777" stroke-width="0.9" />
<line x1="459.40" y1="287.20" x2="459.40" y2="291.20" stroke="#777" stroke-width="0.9" />
<text x="434.20" y="281.70" font-family="'Liberation Serif', 'Times New Roman', serif" font-size="12.6" text-anchor="start" font-weight="normal" fill="#111" textLength="22.80" lengthAdjust="spacingAndGlyphs"  stroke="#111" stroke-width="0.20">54.3</text>
<text x="13.80" y="310.80" font-family="'Liberation Sans', Arial, sans-serif" font-size="12.6" text-anchor="start" font-weight="bold" fill="#111" textLength="9.20" lengthAdjust="spacingAndGlyphs"  stroke="#111" stroke-width="0.45">C</text>
<text x="42.30" y="334.20" font-family="'Liberation Serif', 'Times New Roman', serif" font-size="16.0" text-anchor="start" font-weight="normal" fill="#111" textLength="37.00" lengthAdjust="spacingAndGlyphs"  stroke="#111" stroke-width="0.20">Day 2</text>
<text x="110.40" y="334.20" font-family="'Liberation Serif', 'Times New Roman', serif" font-size="16.0" text-anchor="start" font-weight="normal" fill="#111" textLength="37.50" lengthAdjust="spacingAndGlyphs"  stroke="#111" stroke-width="0.20">Day 3</text>
<text x="181.60" y="334.20" font-family="'Liberation Serif', 'Times New Roman', serif" font-size="16.0" text-anchor="start" font-weight="normal" fill="#111" textLength="37.60" lengthAdjust="spacingAndGlyphs"  stroke="#111" stroke-width="0.20">Day 4</text>
<text x="249.50" y="364.60" font-family="'Liberation Serif', 'Times New Roman', serif" font-size="15.8" text-anchor="start" font-weight="normal" fill="#111" textLength="18.80" lengthAdjust="spacingAndGlyphs"  stroke="#111" stroke-width="0.20">B6</text>
<text x="237.50" y="405.60" font-family="'Liberation Serif', 'Times New Roman', serif" font-size="15.8" text-anchor="start" font-weight="normal" fill="#111" textLength="42.00" lengthAdjust="spacingAndGlyphs"  stroke="#111" stroke-width="0.20">CD19:</text>
<text x="239.50" y="425.20" font-family="'Liberation Serif', 'Times New Roman', serif" font-size="15.8" text-anchor="start" font-weight="normal" fill="#111" textLength="37.50" lengthAdjust="spacingAndGlyphs"  stroke="#111" stroke-width="0.20">KLF3</text>
<text x="110.20" y="454.00" font-family="'Liberation Serif', 'Times New Roman', serif" font-size="15.9" text-anchor="start" font-weight="normal" fill="#111" textLength="38.10" lengthAdjust="spacingAndGlyphs"  stroke="#111" stroke-width="0.20">CFSE</text>
<line x1="20.20" y1="341.80" x2="20.20" y2="432.80" stroke="#222" stroke-width="1.0" />
<line x1="27.70" y1="438.00" x2="231.20" y2="438.00" stroke="#222" stroke-width="1.0" />
<text x="0" y="0" transform="translate(15.60,387.00) rotate(-90)" font-family="'Liberation Serif', 'Times New Roman', serif" font-size="16.0" text-anchor="middle" fill="#111" stroke="#111" stroke-width="0.2" textLength="43.40" lengthAdjust="spacingAndGlyphs">Events</text>
<line x1="27.50" y1="341.20" x2="92.70" y2="341.20" stroke="#888" stroke-width="0.8" />
<line x1="92.70" y1="341.20" x2="92.70" y2="385.20" stroke="#888" stroke-width="0.8" />
<line x1="27.50" y1="341.20" x2="27.50" y2="385.20" stroke="#666" stroke-width="0.8" />
<line x1="27.50" y1="385.20" x2="92.70" y2="385.20" stroke="#333" stroke-width="0.8" />
<line x1="96.00" y1="341.20" x2="161.20" y2="341.20" stroke="#888" stroke-width="0.8" />
<line x1="161.20" y1="341.20" x2="161.20" y2="385.20" stroke="#888" stroke-width="0.8" />
<line x1="96.00" y1="341.20" x2="96.00" y2="385.20" stroke="#666" stroke-width="0.8" />
<line x1="96.00" y1="385.20" x2="161.20" y2="385.20" stroke="#333" stroke-width="0.8" />
<line x1="165.30" y1="341.20" x2="230.50" y2="341.20" stroke="#888" stroke-width="0.8" />
<line x1="230.50" y1="341.20" x2="230.50" y2="385.20" stroke="#888" stroke-width="0.8" />
<line x1="165.30" y1="341.20" x2="165.30" y2="385.20" stroke="#666" stroke-width="0.8" />
<line x1="165.30" y1="385.20" x2="230.50" y2="385.20" stroke="#333" stroke-width="0.8" />
<rect x="23.90" y="340.30" width="1.40" height="3.80" fill="#b8b8b8" stroke="none" stroke-width="1" />
<line x1="25.80" y1="342.20" x2="27.50" y2="342.20" stroke="#666" stroke-width="0.5" />
<rect x="23.90" y="347.30" width="1.40" height="3.80" fill="#b8b8b8" stroke="none" stroke-width="1" />
<line x1="25.80" y1="349.20" x2="27.50" y2="349.20" stroke="#666" stroke-width="0.5" />
<rect x="23.90" y="354.30" width="1.40" height="3.80" fill="#b8b8b8" stroke="none" stroke-width="1" />
<line x1="25.80" y1="356.20" x2="27.50" y2="356.20" stroke="#666" stroke-width="0.5" />
<rect x="23.90" y="361.30" width="1.40" height="3.80" fill="#b8b8b8" stroke="none" stroke-width="1" />
<line x1="25.80" y1="363.20" x2="27.50" y2="363.20" stroke="#666" stroke-width="0.5" />
<rect x="23.90" y="368.30" width="1.40" height="3.80" fill="#b8b8b8" stroke="none" stroke-width="1" />
<line x1="25.80" y1="370.20" x2="27.50" y2="370.20" stroke="#666" stroke-width="0.5" />
<rect x="23.90" y="375.30" width="1.40" height="3.80" fill="#b8b8b8" stroke="none" stroke-width="1" />
<line x1="25.80" y1="377.20" x2="27.50" y2="377.20" stroke="#666" stroke-width="0.5" />
<rect x="23.90" y="382.30" width="1.40" height="3.80" fill="#b8b8b8" stroke="none" stroke-width="1" />
<line x1="25.80" y1="384.20" x2="27.50" y2="384.20" stroke="#666" stroke-width="0.5" />
<line x1="27.50" y1="388.60" x2="92.70" y2="388.60" stroke="#888" stroke-width="0.8" />
<line x1="92.70" y1="388.60" x2="92.70" y2="432.60" stroke="#888" stroke-width="0.8" />
<line x1="27.50" y1="388.60" x2="27.50" y2="432.60" stroke="#666" stroke-width="0.8" />
<line x1="27.50" y1="432.60" x2="92.70" y2="432.60" stroke="#333" stroke-width="0.8" />
<line x1="96.00" y1="388.60" x2="161.20" y2="388.60" stroke="#888" stroke-width="0.8" />
<line x1="161.20" y1="388.60" x2="161.20" y2="432.60" stroke="#888" stroke-width="0.8" />
<line x1="96.00" y1="388.60" x2="96.00" y2="432.60" stroke="#666" stroke-width="0.8" />
<line x1="96.00" y1="432.60" x2="161.20" y2="432.60" stroke="#333" stroke-width="0.8" />
<line x1="165.30" y1="388.60" x2="230.50" y2="388.60" stroke="#888" stroke-width="0.8" />
<line x1="230.50" y1="388.60" x2="230.50" y2="432.60" stroke="#888" stroke-width="0.8" />
<line x1="165.30" y1="388.60" x2="165.30" y2="432.60" stroke="#666" stroke-width="0.8" />
<line x1="165.30" y1="432.60" x2="230.50" y2="432.60" stroke="#333" stroke-width="0.8" />
<rect x="23.90" y="387.70" width="1.40" height="3.80" fill="#b8b8b8" stroke="none" stroke-width="1" />
<line x1="25.80" y1="389.60" x2="27.50" y2="389.60" stroke="#666" stroke-width="0.5" />
<rect x="23.90" y="394.70" width="1.40" height="3.80" fill="#b8b8b8" stroke="none" stroke-width="1" />
<line x1="25.80" y1="396.60" x2="27.50" y2="396.60" stroke="#666" stroke-width="0.5" />
<rect x="23.90" y="401.70" width="1.40" height="3.80" fill="#b8b8b8" stroke="none" stroke-width="1" />
<line x1="25.80" y1="403.60" x2="27.50" y2="403.60" stroke="#666" stroke-width="0.5" />
<rect x="23.90" y="408.70" width="1.40" height="3.80" fill="#b8b8b8" stroke="none" stroke-width="1" />
<line x1="25.80" y1="410.60" x2="27.50" y2="410.60" stroke="#666" stroke-width="0.5" />
<rect x="23.90" y="415.70" width="1.40" height="3.80" fill="#b8b8b8" stroke="none" stroke-width="1" />
<line x1="25.80" y1="417.60" x2="27.50" y2="417.60" stroke="#666" stroke-width="0.5" />
<rect x="23.90" y="422.70" width="1.40" height="3.80" fill="#b8b8b8" stroke="none" stroke-width="1" />
<line x1="25.80" y1="424.60" x2="27.50" y2="424.60" stroke="#666" stroke-width="0.5" />
<rect x="23.90" y="429.70" width="1.40" height="3.80" fill="#b8b8b8" stroke="none" stroke-width="1" />
<line x1="25.80" y1="431.60" x2="27.50" y2="431.60" stroke="#666" stroke-width="0.5" />
<path d="M27.90,385.20 L27.90,384.90 L28.10,384.90 L28.30,384.90 L28.50,384.90 L28.70,384.90 L28.90,384.90 L29.10,384.90 L29.30,384.90 L29.50,384.90 L29.70,384.90 L29.90,384.90 L30.10,384.90 L30.30,384.90 L30.50,384.90 L30.70,384.90 L30.90,384.90 L31.10,384.90 L31.30,384.90 L31.50,384.90 L31.70,384.90 L31.90,384.90 L32.10,384.90 L32.30,384.90 L32.50,384.90 L32.70,384.90 L32.90,384.90 L33.10,384.90 L33.30,384.90 L33.50,384.90 L33.70,384.90 L33.90,384.90 L34.10,384.90 L34.30,384.90 L34.50,384.90 L34.70,384.90 L34.90,384.90 L35.10,384.90 L35.30,384.90 L35.50,384.90 L35.70,384.90 L35.90,384.90 L36.10,384.90 L36.30,384.90 L36.50,384.90 L36.70,384.90 L36.90,384.90 L37.10,384.90 L37.30,384.90 L37.50,384.90 L37.70,384.90 L37.90,384.90 L38.10,384.90 L38.30,384.90 L38.50,384.90 L38.70,384.90 L38.90,384.89 L39.10,384.89 L39.30,384.89 L39.50,384.89 L39.70,384.89 L39.90,384.89 L40.10,384.89 L40.30,384.89 L40.50,384.89 L40.70,384.89 L40.90,384.89 L41.10,384.89 L41.30,384.89 L41.50,384.89 L41.70,384.88 L41.90,384.88 L42.10,384.88 L42.30,384.88 L42.50,384.88 L42.70,384.88 L42.90,384.88 L43.10,384.87 L43.30,384.87 L43.50,384.87 L43.70,384.87 L43.90,384.87 L44.10,384.86 L44.30,384.86 L44.50,384.86 L44.70,384.85 L44.90,384.85 L45.10,384.85 L45.30,384.84 L45.50,384.84 L45.70,384.84 L45.90,384.83 L46.10,384.83 L46.30,384.82 L46.50,384.82 L46.70,384.81 L46.90,384.81 L47.10,384.80 L47.30,384.80 L47.50,384.79 L47.70,384.78 L47.90,384.78 L48.10,384.77 L48.30,384.76 L48.50,384.75 L48.70,384.74 L48.90,384.73 L49.10,384.72 L49.30,384.71 L49.50,384.70 L49.70,384.69 L49.90,384.68 L50.10,384.67 L50.30,384.65 L50.50,384.64 L50.70,384.63 L50.90,384.61 L51.10,384.60 L51.30,384.58 L51.50,384.56 L51.70,384.55 L51.90,384.53 L52.10,384.51 L52.30,384.49 L52.50,384.47 L52.70,384.45 L52.90,384.43 L53.10,384.40 L53.30,384.38 L53.50,384.36 L53.70,384.33 L53.90,384.30 L54.10,384.28 L54.30,384.25 L54.50,384.22 L54.70,384.19 L54.90,384.16 L55.10,384.13 L55.30,384.10 L55.50,384.06 L55.70,384.03 L55.90,383.99 L56.10,383.95 L56.30,383.92 L56.50,383.88 L56.70,383.84 L56.90,383.80 L57.10,383.76 L57.30,383.71 L57.50,383.67 L57.70,383.63 L57.90,383.58 L58.10,383.53 L58.30,383.49 L58.50,383.44 L58.70,383.39 L58.90,383.34 L59.10,383.29 L59.30,383.24 L59.50,383.18 L59.70,383.13 L59.90,383.08 L60.10,383.02 L60.30,382.97 L60.50,382.91 L60.70,382.85 L60.90,382.80 L61.10,382.74 L61.30,382.68 L61.50,382.62 L61.70,382.56 L61.90,382.50 L62.10,382.44 L62.30,382.38 L62.50,382.32 L62.70,382.26 L62.90,382.20 L63.10,382.14 L63.30,382.08 L63.50,382.02 L63.70,381.96 L63.90,381.90 L64.10,381.84 L64.30,381.78 L64.50,381.72 L64.70,381.66 L64.90,381.60 L65.10,381.55 L65.30,381.37 L65.50,380.77 L65.70,380.18 L65.90,379.63 L66.10,379.14 L66.30,378.74 L66.50,378.46 L66.70,378.32 L66.90,378.32 L67.10,378.46 L67.30,378.74 L67.50,379.14 L67.70,379.63 L67.90,380.18 L68.10,380.77 L68.30,380.76 L68.50,380.73 L68.70,380.69 L68.90,380.61 L69.10,380.43 L69.30,379.36 L69.50,378.21 L69.70,377.04 L69.90,375.91 L70.10,374.89 L70.30,374.05 L70.50,373.45 L70.70,373.14 L70.90,373.14 L71.10,373.45 L71.30,374.05 L71.50,374.89 L71.70,375.91 L71.90,377.04 L72.10,378.21 L72.30,378.48 L72.50,378.44 L72.70,378.41 L72.90,378.40 L73.10,378.40 L73.30,378.42 L73.50,376.45 L73.70,373.52 L73.90,370.13 L74.10,366.44 L74.30,362.67 L74.50,359.10 L74.70,356.06 L74.90,353.83 L75.10,352.65 L75.30,352.65 L75.50,353.83 L75.70,356.06 L75.90,359.10 L76.10,362.67 L76.30,366.44 L76.50,370.13 L76.70,373.52 L76.90,376.45 L77.10,378.85 L77.30,380.73 L77.50,381.68 L77.70,381.87 L77.90,382.07 L78.10,381.56 L78.30,380.68 L78.50,379.75 L78.70,378.83 L78.90,377.96 L79.10,377.24 L79.30,376.71 L79.50,376.44 L79.70,376.44 L79.90,376.71 L80.10,377.24 L80.30,377.96 L80.50,378.83 L80.70,379.75 L80.90,380.68 L81.10,381.56 L81.30,382.34 L81.50,383.00 L81.70,383.54 L81.90,383.95 L82.10,384.26 L82.30,384.49 L82.50,384.60 L82.70,384.63 L82.90,384.66 L83.10,384.69 L83.30,384.71 L83.50,384.73 L83.70,384.75 L83.90,384.76 L84.10,384.78 L84.30,384.79 L84.50,384.81 L84.70,384.82 L84.90,384.83 L85.10,384.83 L85.30,384.84 L85.50,384.85 L85.70,384.86 L85.90,384.86 L86.10,384.87 L86.30,384.87 L86.50,384.87 L86.70,384.88 L86.90,384.88 L87.10,384.88 L87.30,384.89 L87.50,384.89 L87.70,384.89 L87.90,384.89 L88.10,384.89 L88.30,384.89 L88.50,384.89 L88.70,384.90 L88.90,384.90 L89.10,384.90 L89.30,384.90 L89.50,384.90 L89.70,384.90 L89.90,384.90 L90.10,384.90 L90.30,384.90 L90.50,384.90 L90.70,384.90 L90.90,384.90 L91.10,384.90 L91.30,384.90 L91.50,384.90 L91.70,384.90 L91.90,384.90 L92.10,384.90 L92.30,384.90 L92.30,385.20 Z" fill="#000"/>
<line x1="75.20" y1="344.40" x2="75.20" y2="348.00" stroke="#333" stroke-width="0.6" />
<path d="M74.30,347.60 L76.10,347.60 L75.20,349.20 Z" fill="#333"/>
<path d="M27.90,432.60 L27.90,432.30 L28.10,432.30 L28.30,432.30 L28.50,432.30 L28.70,432.30 L28.90,432.30 L29.10,432.30 L29.30,432.30 L29.50,432.30 L29.70,432.30 L29.90,432.30 L30.10,432.30 L30.30,432.30 L30.50,432.30 L30.70,432.30 L30.90,432.30 L31.10,432.30 L31.30,432.30 L31.50,432.30 L31.70,432.30 L31.90,432.30 L32.10,432.30 L32.30,432.30 L32.50,432.30 L32.70,432.30 L32.90,432.30 L33.10,432.30 L33.30,432.30 L33.50,432.30 L33.70,432.30 L33.90,432.30 L34.10,432.30 L34.30,432.30 L34.50,432.30 L34.70,432.30 L34.90,432.30 L35.10,432.30 L35.30,432.30 L35.50,432.30 L35.70,432.30 L35.90,432.30 L36.10,432.30 L36.30,432.30 L36.50,432.30 L36.70,432.30 L36.90,432.30 L37.10,432.30 L37.30,432.30 L37.50,432.30 L37.70,432.30 L37.90,432.30 L38.10,432.30 L38.30,432.30 L38.50,432.30 L38.70,432.30 L38.90,432.30 L39.10,432.30 L39.30,432.30 L39.50,432.30 L39.70,432.30 L39.90,432.30 L40.10,432.30 L40.30,432.30 L40.50,432.30 L40.70,432.30 L40.90,432.30 L41.10,432.30 L41.30,432.30 L41.50,432.30 L41.70,432.30 L41.90,432.30 L42.10,432.30 L42.30,432.30 L42.50,432.30 L42.70,432.30 L42.90,432.30 L43.10,432.30 L43.30,432.30 L43.50,432.30 L43.70,432.30 L43.90,432.30 L44.10,432.30 L44.30,432.30 L44.50,432.30 L44.70,432.30 L44.90,432.30 L45.10,432.30 L45.30,432.30 L45.50,432.30 L45.70,432.30 L45.90,432.30 L46.10,432.30 L46.30,432.30 L46.50,432.30 L46.70,432.30 L46.90,432.30 L47.10,432.30 L47.30,432.30 L47.50,432.30 L47.70,432.30 L47.90,432.30 L48.10,432.30 L48.30,432.30 L48.50,432.30 L48.70,432.30 L48.90,432.30 L49.10,432.30 L49.30,432.30 L49.50,432.30 L49.70,432.30 L49.90,432.30 L50.10,432.30 L50.30,432.30 L50.50,432.30 L50.70,432.30 L50.90,432.30 L51.10,432.29 L51.30,432.29 L51.50,432.29 L51.70,432.29 L51.90,432.29 L52.10,432.29 L52.30,432.29 L52.50,432.29 L52.70,432.29 L52.90,432.29 L53.10,432.28 L53.30,432.28 L53.50,432.28 L53.70,432.28 L53.90,432.27 L54.10,432.27 L54.30,432.27 L54.50,432.27 L54.70,432.26 L54.90,432.26 L55.10,432.25 L55.30,432.25 L55.50,432.24 L55.70,432.24 L55.90,432.23 L56.10,432.22 L56.30,432.22 L56.50,432.21 L56.70,432.20 L56.90,432.19 L57.10,432.18 L57.30,432.17 L57.50,432.16 L57.70,432.15 L57.90,432.13 L58.10,432.12 L58.30,432.10 L58.50,432.08 L58.70,432.07 L58.90,432.05 L59.10,432.03 L59.30,432.00 L59.50,431.98 L59.70,431.96 L59.90,431.93 L60.10,431.90 L60.30,431.87 L60.50,431.84 L60.70,431.81 L60.90,431.78 L61.10,431.74 L61.30,431.70 L61.50,431.66 L61.70,431.62 L61.90,431.58 L62.10,431.53 L62.30,431.48 L62.50,431.43 L62.70,431.38 L62.90,431.33 L63.10,431.27 L63.30,431.22 L63.50,431.16 L63.70,431.10 L63.90,431.03 L64.10,430.97 L64.30,430.90 L64.50,430.73 L64.70,430.26 L64.90,429.69 L65.10,429.04 L65.30,428.30 L65.50,427.48 L65.70,426.59 L65.90,425.67 L66.10,424.75 L66.30,423.85 L66.50,423.03 L66.70,422.31 L66.90,421.73 L67.10,421.33 L67.30,421.13 L67.50,421.13 L67.70,421.33 L67.90,421.73 L68.10,422.31 L68.30,423.03 L68.50,423.85 L68.70,424.75 L68.90,425.67 L69.10,426.59 L69.30,427.48 L69.50,427.58 L69.70,427.40 L69.90,426.45 L70.10,425.39 L70.30,424.32 L70.50,423.28 L70.70,422.34 L70.90,421.53 L71.10,420.92 L71.30,420.53 L71.50,420.40 L71.70,420.53 L71.90,420.92 L72.10,421.53 L72.30,422.34 L72.50,423.28 L72.70,424.32 L72.90,425.36 L73.10,425.33 L73.30,425.31 L73.50,425.30 L73.70,425.31 L73.90,425.34 L74.10,425.39 L74.30,425.45 L74.50,425.54 L74.70,424.98 L74.90,423.07 L75.10,421.04 L75.30,419.01 L75.50,417.12 L75.70,415.53 L75.90,414.38 L76.10,413.78 L76.30,413.78 L76.50,414.38 L76.70,415.53 L76.90,417.12 L77.10,419.01 L77.30,421.04 L77.50,423.07 L77.70,424.98 L77.90,426.69 L78.10,428.14 L78.30,429.15 L78.50,429.35 L78.70,429.56 L78.90,429.48 L79.10,428.90 L79.30,428.30 L79.50,427.73 L79.70,427.21 L79.90,426.78 L80.10,426.48 L80.30,426.32 L80.50,426.32 L80.70,426.48 L80.90,426.78 L81.10,427.21 L81.30,427.73 L81.50,428.30 L81.70,428.90 L81.90,429.48 L82.10,430.03 L82.30,430.52 L82.50,430.94 L82.70,431.29 L82.90,431.56 L83.10,431.78 L83.30,431.82 L83.50,431.86 L83.70,431.89 L83.90,431.93 L84.10,431.96 L84.30,431.99 L84.50,432.02 L84.70,432.04 L84.90,432.06 L85.10,432.09 L85.30,432.11 L85.50,432.12 L85.70,432.14 L85.90,432.16 L86.10,432.17 L86.30,432.18 L86.50,432.20 L86.70,432.21 L86.90,432.22 L87.10,432.22 L87.30,432.23 L87.50,432.24 L87.70,432.25 L87.90,432.25 L88.10,432.26 L88.30,432.26 L88.50,432.27 L88.70,432.27 L88.90,432.27 L89.10,432.28 L89.30,432.28 L89.50,432.28 L89.70,432.28 L89.90,432.29 L90.10,432.29 L90.30,432.29 L90.50,432.29 L90.70,432.29 L90.90,432.29 L91.10,432.29 L91.30,432.30 L91.50,432.30 L91.70,432.30 L91.90,432.30 L92.10,432.30 L92.30,432.30 L92.30,432.60 Z" fill="#000"/>
<line x1="76.20" y1="405.00" x2="76.20" y2="409.40" stroke="#333" stroke-width="0.6" />
<path d="M75.30,409.00 L77.10,409.00 L76.20,410.60 Z" fill="#333"/>
<path d="M96.40,385.20 L96.40,384.89 L96.60,384.89 L96.80,384.89 L97.00,384.89 L97.20,384.89 L97.40,384.89 L97.60,384.89 L97.80,384.89 L98.00,384.88 L98.20,384.88 L98.40,384.88 L98.60,384.88 L98.80,384.88 L99.00,384.88 L99.20,384.88 L99.40,384.87 L99.60,384.87 L99.80,384.87 L100.00,384.87 L100.20,384.86 L100.40,384.86 L100.60,384.86 L100.80,384.86 L101.00,384.85 L101.20,384.85 L101.40,384.84 L101.60,384.84 L101.80,384.84 L102.00,384.83 L102.20,384.83 L102.40,384.82 L102.60,384.82 L102.80,384.81 L103.00,384.80 L103.20,384.80 L103.40,384.79 L103.60,384.78 L103.80,384.78 L104.00,384.77 L104.20,384.76 L104.40,384.75 L104.60,384.74 L104.80,384.73 L105.00,384.72 L105.20,384.71 L105.40,384.70 L105.60,384.69 L105.80,384.67 L106.00,384.66 L106.20,384.65 L106.40,384.63 L106.60,384.62 L106.80,384.60 L107.00,384.59 L107.20,384.57 L107.40,384.55 L107.60,384.53 L107.80,384.51 L108.00,384.49 L108.20,384.47 L108.40,384.45 L108.60,384.43 L108.80,384.41 L109.00,384.38 L109.20,384.36 L109.40,384.33 L109.60,384.31 L109.80,384.28 L110.00,384.25 L110.20,384.22 L110.40,384.19 L110.60,384.16 L110.80,384.13 L111.00,384.10 L111.20,384.07 L111.40,384.03 L111.60,384.00 L111.80,383.96 L112.00,383.93 L112.20,383.89 L112.40,383.85 L112.60,383.81 L112.80,383.77 L113.00,383.73 L113.20,383.69 L113.40,383.56 L113.60,383.43 L113.80,383.29 L114.00,383.14 L114.20,382.98 L114.40,382.81 L114.60,382.16 L114.80,381.22 L115.00,380.08 L115.20,378.76 L115.40,377.29 L115.60,375.72 L115.80,374.11 L116.00,372.56 L116.20,371.16 L116.40,370.00 L116.60,369.18 L116.80,368.75 L117.00,368.75 L117.20,369.18 L117.40,370.00 L117.60,371.16 L117.80,372.56 L118.00,374.11 L118.20,375.72 L118.40,377.19 L118.60,376.84 L118.80,376.49 L119.00,376.14 L119.20,373.73 L119.40,370.10 L119.60,365.91 L119.80,361.35 L120.00,356.63 L120.20,352.08 L120.40,348.04 L120.60,344.85 L120.80,342.80 L121.00,342.10 L121.20,342.80 L121.40,344.85 L121.60,348.04 L121.80,352.08 L122.00,356.63 L122.20,361.35 L122.40,365.91 L122.60,370.10 L122.80,371.91 L123.00,371.90 L123.20,371.91 L123.40,371.92 L123.60,371.96 L123.80,370.39 L124.00,366.59 L124.20,362.56 L124.40,358.53 L124.60,354.79 L124.80,351.63 L125.00,349.35 L125.20,348.15 L125.40,348.15 L125.60,349.35 L125.80,351.63 L126.00,354.79 L126.20,358.53 L126.40,362.56 L126.60,366.59 L126.80,370.39 L127.00,373.77 L127.20,374.35 L127.40,374.56 L127.60,374.78 L127.80,375.00 L128.00,375.23 L128.20,375.46 L128.40,375.69 L128.60,375.93 L128.80,374.91 L129.00,373.47 L129.20,372.18 L129.40,371.11 L129.60,370.35 L129.80,369.95 L130.00,369.95 L130.20,370.35 L130.40,371.11 L130.60,372.18 L130.80,373.47 L131.00,374.91 L131.20,376.40 L131.40,377.86 L131.60,379.22 L131.80,379.70 L132.00,379.92 L132.20,380.13 L132.40,380.33 L132.60,380.53 L132.80,380.73 L133.00,380.92 L133.20,381.10 L133.40,381.29 L133.60,380.75 L133.80,380.22 L134.00,379.76 L134.20,379.40 L134.40,379.18 L134.60,379.10 L134.80,379.18 L135.00,379.40 L135.20,379.76 L135.40,380.22 L135.60,380.75 L135.80,381.32 L136.00,381.90 L136.20,382.45 L136.40,382.95 L136.60,383.39 L136.80,383.53 L137.00,383.61 L137.20,383.64 L137.40,383.68 L137.60,383.61 L137.80,383.30 L138.00,382.98 L138.20,382.68 L138.40,382.40 L138.60,382.19 L138.80,382.05 L139.00,382.00 L139.20,382.05 L139.40,382.19 L139.60,382.40 L139.80,382.68 L140.00,382.98 L140.20,383.30 L140.40,383.61 L140.60,383.90 L140.80,384.14 L141.00,384.19 L141.20,384.22 L141.40,384.24 L141.60,384.26 L141.80,384.28 L142.00,384.29 L142.20,384.00 L142.40,383.60 L142.60,383.09 L142.80,382.46 L143.00,381.71 L143.20,380.88 L143.40,380.00 L143.60,379.11 L143.80,378.29 L144.00,377.60 L144.20,377.10 L144.40,376.83 L144.60,376.83 L144.80,377.10 L145.00,377.60 L145.20,378.29 L145.40,379.11 L145.60,380.00 L145.80,380.88 L146.00,381.71 L146.20,382.46 L146.40,383.09 L146.60,383.60 L146.80,384.00 L147.00,384.29 L147.20,384.51 L147.40,384.65 L147.60,384.71 L147.80,384.72 L148.00,384.73 L148.20,384.74 L148.40,384.75 L148.60,384.75 L148.80,384.76 L149.00,384.77 L149.20,384.77 L149.40,384.78 L149.60,384.79 L149.80,384.79 L150.00,384.80 L150.20,384.80 L150.40,384.81 L150.60,384.81 L150.80,384.82 L151.00,384.82 L151.20,384.83 L151.40,384.83 L151.60,384.83 L151.80,384.84 L152.00,384.84 L152.20,384.84 L152.40,384.85 L152.60,384.85 L152.80,384.85 L153.00,384.86 L153.20,384.86 L153.40,384.86 L153.60,384.86 L153.80,384.86 L154.00,384.87 L154.20,384.87 L154.40,384.87 L154.60,384.87 L154.80,384.87 L155.00,384.88 L155.20,384.88 L155.40,384.88 L155.60,384.88 L155.80,384.88 L156.00,384.88 L156.20,384.88 L156.40,384.88 L156.60,384.89 L156.80,384.89 L157.00,384.89 L157.20,384.89 L157.40,384.89 L157.60,384.89 L157.80,384.89 L158.00,384.89 L158.20,384.89 L158.40,384.89 L158.60,384.89 L158.80,384.89 L159.00,384.89 L159.20,384.89 L159.40,384.89 L159.60,384.89 L159.80,384.90 L160.00,384.90 L160.20,384.90 L160.40,384.90 L160.60,384.90 L160.80,384.90 L160.80,385.20 Z" fill="#000"/>
<line x1="144.50" y1="368.00" x2="144.50" y2="372.40" stroke="#333" stroke-width="0.6" />
<path d="M143.60,372.00 L145.40,372.00 L144.50,373.60 Z" fill="#333"/>
<path d="M96.40,432.60 L96.40,432.29 L96.60,432.29 L96.80,432.29 L97.00,432.29 L97.20,432.29 L97.40,432.29 L97.60,432.29 L97.80,432.29 L98.00,432.28 L98.20,432.28 L98.40,432.28 L98.60,432.28 L98.80,432.28 L99.00,432.28 L99.20,432.28 L99.40,432.27 L99.60,432.27 L99.80,432.27 L100.00,432.27 L100.20,432.26 L100.40,432.26 L100.60,432.26 L100.80,432.26 L101.00,432.25 L101.20,432.25 L101.40,432.24 L101.60,432.24 L101.80,432.24 L102.00,432.23 L102.20,432.23 L102.40,432.22 L102.60,432.22 L102.80,432.21 L103.00,432.20 L103.20,432.20 L103.40,432.19 L103.60,432.18 L103.80,432.18 L104.00,432.17 L104.20,432.16 L104.40,432.15 L104.60,432.14 L104.80,432.13 L105.00,432.12 L105.20,432.11 L105.40,432.10 L105.60,432.09 L105.80,432.07 L106.00,432.06 L106.20,432.05 L106.40,432.03 L106.60,432.02 L106.80,432.00 L107.00,431.99 L107.20,431.97 L107.40,431.95 L107.60,431.93 L107.80,431.91 L108.00,431.89 L108.20,431.87 L108.40,431.85 L108.60,431.83 L108.80,431.81 L109.00,431.78 L109.20,431.76 L109.40,431.73 L109.60,431.71 L109.80,431.68 L110.00,431.65 L110.20,431.62 L110.40,431.59 L110.60,431.56 L110.80,431.53 L111.00,431.50 L111.20,431.47 L111.40,431.43 L111.60,431.40 L111.80,431.36 L112.00,431.33 L112.20,431.29 L112.40,431.25 L112.60,431.21 L112.80,431.17 L113.00,431.13 L113.20,431.09 L113.40,431.05 L113.60,431.01 L113.80,430.97 L114.00,430.93 L114.20,430.88 L114.40,430.84 L114.60,430.80 L114.80,430.71 L115.00,430.01 L115.20,429.09 L115.40,427.93 L115.60,426.51 L115.80,424.82 L116.00,422.91 L116.20,420.81 L116.40,418.61 L116.60,416.43 L116.80,414.39 L117.00,412.63 L117.20,411.26 L117.40,410.40 L117.60,410.10 L117.80,410.40 L118.00,411.26 L118.20,412.63 L118.40,414.39 L118.60,416.43 L118.80,418.61 L119.00,420.81 L119.20,422.91 L119.40,424.82 L119.60,424.00 L119.80,420.93 L120.00,417.22 L120.20,412.96 L120.40,408.30 L120.60,403.50 L120.80,398.86 L121.00,394.75 L121.20,391.50 L121.40,389.42 L121.60,389.00 L121.80,389.42 L122.00,391.50 L122.20,394.75 L122.40,398.86 L122.60,403.50 L122.80,408.30 L123.00,412.96 L123.20,417.22 L123.40,420.41 L123.60,420.35 L123.80,420.31 L124.00,420.30 L124.20,420.31 L124.40,419.84 L124.60,416.84 L124.80,413.74 L125.00,410.75 L125.20,408.10 L125.40,406.00 L125.60,404.66 L125.80,404.20 L126.00,404.66 L126.20,406.00 L126.40,408.10 L126.60,410.75 L126.80,413.74 L127.00,416.84 L127.20,419.84 L127.40,421.83 L127.60,422.01 L127.80,422.19 L128.00,422.37 L128.20,422.56 L128.40,422.76 L128.60,422.96 L128.80,423.16 L129.00,423.37 L129.20,423.59 L129.40,423.80 L129.60,424.02 L129.80,424.24 L130.00,423.77 L130.20,422.80 L130.40,422.00 L130.60,421.43 L130.80,421.14 L131.00,421.14 L131.20,421.43 L131.40,422.00 L131.60,422.80 L131.80,423.77 L132.00,424.84 L132.20,425.95 L132.40,427.04 L132.60,427.30 L132.80,427.50 L133.00,427.70 L133.20,427.89 L133.40,428.08 L133.60,428.27 L133.80,428.45 L134.00,428.63 L134.20,428.80 L134.40,428.96 L134.60,429.09 L134.80,428.58 L135.00,428.11 L135.20,427.69 L135.40,427.37 L135.60,427.17 L135.80,427.10 L136.00,427.17 L136.20,427.37 L136.40,427.69 L136.60,428.11 L136.80,428.58 L137.00,429.09 L137.20,429.61 L137.40,430.10 L137.60,430.55 L137.80,430.94 L138.00,431.12 L138.20,431.20 L138.40,431.24 L138.60,431.27 L138.80,431.30 L139.00,431.33 L139.20,431.36 L139.40,431.38 L139.60,431.41 L139.80,431.44 L140.00,431.47 L140.20,431.49 L140.40,431.52 L140.60,431.54 L140.80,431.57 L141.00,431.59 L141.20,431.62 L141.40,431.64 L141.60,431.66 L141.80,431.68 L142.00,431.71 L142.20,431.73 L142.40,431.75 L142.60,431.77 L142.80,431.60 L143.00,431.31 L143.20,430.94 L143.40,430.50 L143.60,429.99 L143.80,429.44 L144.00,428.87 L144.20,428.31 L144.40,427.82 L144.60,427.43 L144.80,427.19 L145.00,427.10 L145.20,427.19 L145.40,427.43 L145.60,427.82 L145.80,428.31 L146.00,428.87 L146.20,429.44 L146.40,429.99 L146.60,430.50 L146.80,430.94 L147.00,431.31 L147.20,431.60 L147.40,431.82 L147.60,431.98 L147.80,432.10 L148.00,432.13 L148.20,432.14 L148.40,432.15 L148.60,432.15 L148.80,432.16 L149.00,432.17 L149.20,432.17 L149.40,432.18 L149.60,432.19 L149.80,432.19 L150.00,432.20 L150.20,432.20 L150.40,432.21 L150.60,432.21 L150.80,432.22 L151.00,432.22 L151.20,432.23 L151.40,432.23 L151.60,432.23 L151.80,432.24 L152.00,432.24 L152.20,432.24 L152.40,432.25 L152.60,432.25 L152.80,432.25 L153.00,432.26 L153.20,432.26 L153.40,432.26 L153.60,432.26 L153.80,432.26 L154.00,432.27 L154.20,432.27 L154.40,432.27 L154.60,432.27 L154.80,432.27 L155.00,432.28 L155.20,432.28 L155.40,432.28 L155.60,432.28 L155.80,432.28 L156.00,432.28 L156.20,432.28 L156.40,432.28 L156.60,432.29 L156.80,432.29 L157.00,432.29 L157.20,432.29 L157.40,432.29 L157.60,432.29 L157.80,432.29 L158.00,432.29 L158.20,432.29 L158.40,432.29 L158.60,432.29 L158.80,432.29 L159.00,432.29 L159.20,432.29 L159.40,432.29 L159.60,432.29 L159.80,432.30 L160.00,432.30 L160.20,432.30 L160.40,432.30 L160.60,432.30 L160.80,432.30 L160.80,432.60 Z" fill="#000"/>
<line x1="145.00" y1="418.30" x2="145.00" y2="422.00" stroke="#333" stroke-width="0.6" />
<path d="M144.10,421.60 L145.90,421.60 L145.00,423.20 Z" fill="#333"/>
<path d="M165.70,385.20 L165.70,384.88 L165.90,384.88 L166.10,384.87 L166.30,384.87 L166.50,384.86 L166.70,384.85 L166.90,384.84 L167.10,384.83 L167.30,384.82 L167.50,384.81 L167.70,384.79 L167.90,384.77 L168.10,384.74 L168.30,384.72 L168.50,384.68 L168.70,384.65 L168.90,384.61 L169.10,384.56 L169.30,384.50 L169.50,384.44 L169.70,384.37 L169.90,384.29 L170.10,384.19 L170.30,384.09 L170.50,383.98 L170.70,383.85 L170.90,383.71 L171.10,383.55 L171.30,383.37 L171.50,383.18 L171.70,382.97 L171.90,382.73 L172.10,382.48 L172.30,382.20 L172.50,381.91 L172.70,381.58 L172.90,381.23 L173.10,380.86 L173.30,380.46 L173.50,380.04 L173.70,379.59 L173.90,379.11 L174.10,378.61 L174.30,378.08 L174.50,377.53 L174.70,376.93 L174.90,375.41 L175.10,373.78 L175.30,372.06 L175.50,370.32 L175.70,368.61 L175.90,366.97 L176.10,365.49 L176.30,364.22 L176.50,363.21 L176.70,362.50 L176.90,362.15 L177.10,362.15 L177.30,362.50 L177.50,363.21 L177.70,364.22 L177.90,365.49 L178.10,366.37 L178.30,365.90 L178.50,365.47 L178.70,365.09 L178.90,362.79 L179.10,359.61 L179.30,356.74 L179.50,354.37 L179.70,352.69 L179.90,351.81 L180.10,351.81 L180.30,352.69 L180.50,354.37 L180.70,356.74 L180.90,359.61 L181.10,362.79 L181.30,365.20 L181.50,365.40 L181.70,365.60 L181.90,365.80 L182.10,366.17 L182.30,366.70 L182.50,367.21 L182.70,367.71 L182.90,368.19 L183.10,366.39 L183.30,364.29 L183.50,362.56 L183.70,361.32 L183.90,360.68 L184.10,360.68 L184.30,361.32 L184.50,362.56 L184.70,364.29 L184.90,366.39 L185.10,368.72 L185.30,371.13 L185.50,373.38 L185.70,373.70 L185.90,374.02 L186.10,374.32 L186.30,374.62 L186.50,374.91 L186.70,375.19 L186.90,375.46 L187.10,375.73 L187.30,375.99 L187.50,375.07 L187.70,373.96 L187.90,373.04 L188.10,372.38 L188.30,372.04 L188.50,372.04 L188.70,372.38 L188.90,373.04 L189.10,373.96 L189.30,375.07 L189.50,376.31 L189.70,377.59 L189.90,378.75 L190.10,378.93 L190.30,379.09 L190.50,379.26 L190.70,379.42 L190.90,379.57 L191.10,379.72 L191.30,379.87 L191.50,380.01 L191.70,380.15 L191.90,380.28 L192.10,380.41 L192.30,379.98 L192.50,379.57 L192.70,379.27 L192.90,379.12 L193.10,379.12 L193.30,379.27 L193.50,379.57 L193.70,379.98 L193.90,380.48 L194.10,381.04 L194.30,381.61 L194.50,381.71 L194.70,381.80 L194.90,381.89 L195.10,381.98 L195.30,382.06 L195.50,382.14 L195.70,382.22 L195.90,382.29 L196.10,382.37 L196.30,382.44 L196.50,382.51 L196.70,382.57 L196.90,382.64 L197.10,382.70 L197.30,382.76 L197.50,382.74 L197.70,382.70 L197.90,382.74 L198.10,382.84 L198.30,383.01 L198.50,383.10 L198.70,383.15 L198.90,383.20 L199.10,383.25 L199.30,383.30 L199.50,383.34 L199.70,383.38 L199.90,383.43 L200.10,383.47 L200.30,383.51 L200.50,383.55 L200.70,383.59 L200.90,383.62 L201.10,383.66 L201.30,383.69 L201.50,383.73 L201.70,383.76 L201.90,383.79 L202.10,383.82 L202.30,383.85 L202.50,383.88 L202.70,383.91 L202.90,383.94 L203.10,383.97 L203.30,383.99 L203.50,384.02 L203.70,384.04 L203.90,384.07 L204.10,384.09 L204.30,384.11 L204.50,384.14 L204.70,384.16 L204.90,384.18 L205.10,384.20 L205.30,384.22 L205.50,384.24 L205.70,384.26 L205.90,384.27 L206.10,384.29 L206.30,384.31 L206.50,384.33 L206.70,384.34 L206.90,384.36 L207.10,384.37 L207.30,384.39 L207.50,384.40 L207.70,384.42 L207.90,384.43 L208.10,384.44 L208.30,384.46 L208.50,384.47 L208.70,384.48 L208.90,384.49 L209.10,384.50 L209.30,384.52 L209.50,384.53 L209.70,384.54 L209.90,384.55 L210.10,384.56 L210.30,384.57 L210.50,384.58 L210.70,384.59 L210.90,384.59 L211.10,384.60 L211.30,384.61 L211.50,384.49 L211.70,384.25 L211.90,383.96 L212.10,383.63 L212.30,383.32 L212.50,383.06 L212.70,382.92 L212.90,382.92 L213.10,383.06 L213.30,383.32 L213.50,383.63 L213.70,383.96 L213.90,384.25 L214.10,384.49 L214.30,384.65 L214.50,384.72 L214.70,384.72 L214.90,384.73 L215.10,384.73 L215.30,384.74 L215.50,384.74 L215.70,384.75 L215.90,384.75 L216.10,384.75 L216.30,384.76 L216.50,384.76 L216.70,384.77 L216.90,384.77 L217.10,384.77 L217.30,384.78 L217.50,384.78 L217.70,384.78 L217.90,384.79 L218.10,384.79 L218.30,384.79 L218.50,384.80 L218.70,384.80 L218.90,384.80 L219.10,384.81 L219.30,384.81 L219.50,384.81 L219.70,384.81 L219.90,384.82 L220.10,384.82 L220.30,384.82 L220.50,384.82 L220.70,384.82 L220.90,384.83 L221.10,384.83 L221.30,384.83 L221.50,384.83 L221.70,384.83 L221.90,384.84 L222.10,384.84 L222.30,384.84 L222.50,384.84 L222.70,384.84 L222.90,384.84 L223.10,384.85 L223.30,384.85 L223.50,384.85 L223.70,384.85 L223.90,384.85 L224.10,384.85 L224.30,384.85 L224.50,384.86 L224.70,384.86 L224.90,384.86 L225.10,384.86 L225.30,384.86 L225.50,384.86 L225.70,384.86 L225.90,384.86 L226.10,384.87 L226.30,384.87 L226.50,384.87 L226.70,384.87 L226.90,384.87 L227.10,384.87 L227.30,384.87 L227.50,384.87 L227.70,384.87 L227.90,384.87 L228.10,384.87 L228.30,384.87 L228.50,384.88 L228.70,384.88 L228.90,384.88 L229.10,384.88 L229.30,384.88 L229.50,384.88 L229.70,384.88 L229.90,384.88 L230.10,384.88 L230.10,385.20 Z" fill="#000"/>
<line x1="212.80" y1="375.50" x2="212.80" y2="378.40" stroke="#333" stroke-width="0.6" />
<path d="M211.90,378.00 L213.70,378.00 L212.80,379.60 Z" fill="#333"/>
<path d="M165.70,432.60 L165.70,432.29 L165.90,432.29 L166.10,432.29 L166.30,432.29 L166.50,432.29 L166.70,432.28 L166.90,432.28 L167.10,432.28 L167.30,432.27 L167.50,432.26 L167.70,432.26 L167.90,432.25 L168.10,432.24 L168.30,432.22 L168.50,432.21 L168.70,432.19 L168.90,432.17 L169.10,432.15 L169.30,432.13 L169.50,432.09 L169.70,432.06 L169.90,432.02 L170.10,431.97 L170.30,431.92 L170.50,431.86 L170.70,431.79 L170.90,431.72 L171.10,431.63 L171.30,431.53 L171.50,431.42 L171.70,431.30 L171.90,431.16 L172.10,431.01 L172.30,430.85 L172.50,430.66 L172.70,430.46 L172.90,430.24 L173.10,430.00 L173.30,429.73 L173.50,429.45 L173.70,429.14 L173.90,428.81 L174.10,428.45 L174.30,428.07 L174.50,427.67 L174.70,427.00 L174.90,425.73 L175.10,424.28 L175.30,422.67 L175.50,420.92 L175.70,419.07 L175.90,417.15 L176.10,415.23 L176.30,413.37 L176.50,411.64 L176.70,410.11 L176.90,408.84 L177.10,407.89 L177.30,407.30 L177.50,407.10 L177.70,407.30 L177.90,407.89 L178.10,408.84 L178.30,410.11 L178.50,411.64 L178.70,413.37 L178.90,415.13 L179.10,414.65 L179.30,414.20 L179.50,413.13 L179.70,410.07 L179.90,407.22 L180.10,404.74 L180.30,402.83 L180.50,401.62 L180.70,401.20 L180.90,401.62 L181.10,402.83 L181.30,404.74 L181.50,407.22 L181.70,410.07 L181.90,413.13 L182.10,413.95 L182.30,414.25 L182.50,414.55 L182.70,414.85 L182.90,415.15 L183.10,415.54 L183.30,416.01 L183.50,416.47 L183.70,416.92 L183.90,416.93 L184.10,414.96 L184.30,413.25 L184.50,411.93 L184.70,411.09 L184.90,410.80 L185.10,411.09 L185.30,411.93 L185.50,413.25 L185.70,414.96 L185.90,416.93 L186.10,419.05 L186.30,421.17 L186.50,421.99 L186.70,422.28 L186.90,422.56 L187.10,422.84 L187.30,423.10 L187.50,423.36 L187.70,423.61 L187.90,423.86 L188.10,424.10 L188.30,424.33 L188.50,424.37 L188.70,423.23 L188.90,422.21 L189.10,421.36 L189.30,420.75 L189.50,420.44 L189.70,420.44 L189.90,420.75 L190.10,421.36 L190.30,422.21 L190.50,423.23 L190.70,424.37 L190.90,425.55 L191.10,426.71 L191.30,427.11 L191.50,427.25 L191.70,427.39 L191.90,427.53 L192.10,427.67 L192.30,427.80 L192.50,427.92 L192.70,428.01 L192.90,427.46 L193.10,426.98 L193.30,426.61 L193.50,426.38 L193.70,426.30 L193.90,426.38 L194.10,426.61 L194.30,426.98 L194.50,427.46 L194.70,428.01 L194.90,428.60 L195.10,429.19 L195.30,429.37 L195.50,429.45 L195.70,429.53 L195.90,429.61 L196.10,429.68 L196.30,429.76 L196.50,429.83 L196.70,429.90 L196.90,429.97 L197.10,430.03 L197.30,430.10 L197.50,430.16 L197.70,430.22 L197.90,430.28 L198.10,430.33 L198.30,430.39 L198.50,430.44 L198.70,430.50 L198.90,430.55 L199.10,430.60 L199.30,430.64 L199.50,430.69 L199.70,430.74 L199.90,430.78 L200.10,430.82 L200.30,430.86 L200.50,430.90 L200.70,430.94 L200.90,430.98 L201.10,431.02 L201.30,431.06 L201.50,431.09 L201.70,431.12 L201.90,431.16 L202.10,431.19 L202.30,431.22 L202.50,431.25 L202.70,431.28 L202.90,431.31 L203.10,431.34 L203.30,431.36 L203.50,431.39 L203.70,431.42 L203.90,431.44 L204.10,431.47 L204.30,431.49 L204.50,431.51 L204.70,431.53 L204.90,431.56 L205.10,431.58 L205.30,431.60 L205.50,431.62 L205.70,431.64 L205.90,431.65 L206.10,431.67 L206.30,431.69 L206.50,431.71 L206.70,431.72 L206.90,431.74 L207.10,431.76 L207.30,431.77 L207.50,431.79 L207.70,431.80 L207.90,431.82 L208.10,431.83 L208.30,431.84 L208.50,431.85 L208.70,431.87 L208.90,431.88 L209.10,431.89 L209.30,431.90 L209.50,431.91 L209.70,431.93 L209.90,431.94 L210.10,431.95 L210.30,431.96 L210.50,431.97 L210.70,431.97 L210.90,431.98 L211.10,431.99 L211.30,432.00 L211.50,432.01 L211.70,432.02 L211.90,431.93 L212.10,431.72 L212.30,431.45 L212.50,431.16 L212.70,430.87 L212.90,430.64 L213.10,430.52 L213.30,430.52 L213.50,430.64 L213.70,430.87 L213.90,431.16 L214.10,431.45 L214.30,431.72 L214.50,431.93 L214.70,432.08 L214.90,432.12 L215.10,432.13 L215.30,432.13 L215.50,432.14 L215.70,432.14 L215.90,432.15 L216.10,432.15 L216.30,432.15 L216.50,432.16 L216.70,432.16 L216.90,432.17 L217.10,432.17 L217.30,432.17 L217.50,432.18 L217.70,432.18 L217.90,432.18 L218.10,432.19 L218.30,432.19 L218.50,432.19 L218.70,432.20 L218.90,432.20 L219.10,432.20 L219.30,432.20 L219.50,432.21 L219.70,432.21 L219.90,432.21 L220.10,432.22 L220.30,432.22 L220.50,432.22 L220.70,432.22 L220.90,432.22 L221.10,432.23 L221.30,432.23 L221.50,432.23 L221.70,432.23 L221.90,432.23 L222.10,432.24 L222.30,432.24 L222.50,432.24 L222.70,432.24 L222.90,432.24 L223.10,432.24 L223.30,432.25 L223.50,432.25 L223.70,432.25 L223.90,432.25 L224.10,432.25 L224.30,432.25 L224.50,432.25 L224.70,432.26 L224.90,432.26 L225.10,432.26 L225.30,432.26 L225.50,432.26 L225.70,432.26 L225.90,432.26 L226.10,432.26 L226.30,432.27 L226.50,432.27 L226.70,432.27 L226.90,432.27 L227.10,432.27 L227.30,432.27 L227.50,432.27 L227.70,432.27 L227.90,432.27 L228.10,432.27 L228.30,432.27 L228.50,432.27 L228.70,432.28 L228.90,432.28 L229.10,432.28 L229.30,432.28 L229.50,432.28 L229.70,432.28 L229.90,432.28 L230.10,432.28 L230.10,432.60 Z" fill="#000"/>
<line x1="213.20" y1="423.50" x2="213.20" y2="426.40" stroke="#333" stroke-width="0.6" />
<path d="M212.30,426.00 L214.10,426.00 L213.20,427.60 Z" fill="#333"/>
<text x="14.20" y="463.20" font-family="'Liberation Sans', Arial, sans-serif" font-size="12.8" text-anchor="start" font-weight="bold" fill="#111" textLength="8.60" lengthAdjust="spacingAndGlyphs"  stroke="#111" stroke-width="0.45">D</text>
<line x1="53.10" y1="486.20" x2="178.40" y2="486.20" stroke="#444" stroke-width="0.9" />
<line x1="178.40" y1="486.20" x2="178.40" y2="625.20" stroke="#444" stroke-width="0.9" />
<line x1="53.10" y1="486.20" x2="53.10" y2="625.20" stroke="#333" stroke-width="1.0" />
<line x1="53.10" y1="625.20" x2="178.40" y2="625.20" stroke="#333" stroke-width="1.0" />
<line x1="53.10" y1="605.30" x2="58.10" y2="605.30" stroke="#333" stroke-width="0.7" />
<line x1="53.10" y1="587.39" x2="56.10" y2="587.39" stroke="#333" stroke-width="0.7" />
<line x1="53.10" y1="576.91" x2="56.10" y2="576.91" stroke="#333" stroke-width="0.7" />
<line x1="53.10" y1="569.48" x2="56.10" y2="569.48" stroke="#333" stroke-width="0.7" />
<line x1="53.10" y1="563.71" x2="56.10" y2="563.71" stroke="#333" stroke-width="0.7" />
<line x1="53.10" y1="559.00" x2="56.10" y2="559.00" stroke="#333" stroke-width="0.7" />
<line x1="53.10" y1="555.02" x2="56.10" y2="555.02" stroke="#333" stroke-width="0.7" />
<line x1="53.10" y1="551.57" x2="56.10" y2="551.57" stroke="#333" stroke-width="0.7" />
<line x1="53.10" y1="548.52" x2="56.10" y2="548.52" stroke="#333" stroke-width="0.7" />
<line x1="53.10" y1="545.80" x2="58.10" y2="545.80" stroke="#333" stroke-width="0.7" />
<line x1="53.10" y1="527.89" x2="56.10" y2="527.89" stroke="#333" stroke-width="0.7" />
<line x1="53.10" y1="517.41" x2="56.10" y2="517.41" stroke="#333" stroke-width="0.7" />
<line x1="53.10" y1="509.98" x2="56.10" y2="509.98" stroke="#333" stroke-width="0.7" />
<line x1="53.10" y1="504.21" x2="56.10" y2="504.21" stroke="#333" stroke-width="0.7" />
<line x1="53.10" y1="499.50" x2="56.10" y2="499.50" stroke="#333" stroke-width="0.7" />
<line x1="53.10" y1="495.52" x2="56.10" y2="495.52" stroke="#333" stroke-width="0.7" />
<line x1="53.10" y1="492.07" x2="56.10" y2="492.07" stroke="#333" stroke-width="0.7" />
<line x1="53.10" y1="489.02" x2="56.10" y2="489.02" stroke="#333" stroke-width="0.7" />
<line x1="53.10" y1="486.20" x2="58.10" y2="486.20" stroke="#333" stroke-width="0.7" />
<line x1="53.10" y1="618.50" x2="56.10" y2="618.50" stroke="#333" stroke-width="0.7" />
<line x1="53.10" y1="614.52" x2="56.10" y2="614.52" stroke="#333" stroke-width="0.7" />
<line x1="53.10" y1="611.07" x2="56.10" y2="611.07" stroke="#333" stroke-width="0.7" />
<line x1="53.10" y1="608.02" x2="56.10" y2="608.02" stroke="#333" stroke-width="0.7" />
<line x1="87.20" y1="625.20" x2="87.20" y2="627.20" stroke="#333" stroke-width="0.7" />
<line x1="125.80" y1="625.20" x2="125.80" y2="627.20" stroke="#333" stroke-width="0.7" />
<line x1="163.80" y1="625.20" x2="163.80" y2="627.20" stroke="#333" stroke-width="0.7" />
<line x1="65.60" y1="625.20" x2="65.60" y2="627.20" stroke="#333" stroke-width="0.7" />
<rect x="74.6" y="623" width="2.8" height="4.4" fill="#fff"/>
<line x1="73.60" y1="629.00" x2="75.60" y2="622.00" stroke="#333" stroke-width="0.8" />
<line x1="76.40" y1="629.00" x2="78.40" y2="622.00" stroke="#333" stroke-width="0.8" />
<text x="27.20" y="490.30" font-family="'Liberation Serif', 'Times New Roman', serif" font-size="13.4" text-anchor="start" font-weight="normal" fill="#111" textLength="20.10" lengthAdjust="spacingAndGlyphs"  stroke="#111" stroke-width="0.20">100</text>
<text x="33.50" y="549.60" font-family="'Liberation Serif', 'Times New Roman', serif" font-size="13.4" text-anchor="start" font-weight="normal" fill="#111" textLength="13.80" lengthAdjust="spacingAndGlyphs"  stroke="#111" stroke-width="0.20">10</text>
<text x="40.80" y="609.20" font-family="'Liberation Serif', 'Times New Roman', serif" font-size="13.4" text-anchor="start" font-weight="normal" fill="#111" textLength="6.50" lengthAdjust="spacingAndGlyphs"  stroke="#111" stroke-width="0.20">1</text>
<text x="65.60" y="643.40" font-family="'Liberation Serif', 'Times New Roman', serif" font-size="15.5" text-anchor="middle" font-weight="normal" fill="#111"  stroke="#111" stroke-width="0.20">0</text>
<text x="87.20" y="643.40" font-family="'Liberation Serif', 'Times New Roman', serif" font-size="15.5" text-anchor="middle" font-weight="normal" fill="#111"  stroke="#111" stroke-width="0.20">2</text>
<text x="125.80" y="643.40" font-family="'Liberation Serif', 'Times New Roman', serif" font-size="15.5" text-anchor="middle" font-weight="normal" fill="#111"  stroke="#111" stroke-width="0.20">3</text>
<text x="163.80" y="643.40" font-family="'Liberation Serif', 'Times New Roman', serif" font-size="15.5" text-anchor="middle" font-weight="normal" fill="#111"  stroke="#111" stroke-width="0.20">4</text>
<text x="97.40" y="660.00" font-family="'Liberation Serif', 'Times New Roman', serif" font-size="16.6" text-anchor="start" font-weight="normal" fill="#111" textLength="34.20" lengthAdjust="spacingAndGlyphs"  stroke="#111" stroke-width="0.20">Days</text>
<text x="0" y="0" transform="translate(19.20,626.90) rotate(-90)" font-family="'Liberation Serif', 'Times New Roman', serif" font-size="15.6" fill="#111" stroke="#111" stroke-width="0.2" textLength="120.30" lengthAdjust="spacingAndGlyphs">Cell number (× 10</text>
<text x="0" y="0" transform="translate(11.60,502.60) rotate(-90)" font-family="'Liberation Serif', 'Times New Roman', serif" font-size="11.0" fill="#111" stroke="#111" stroke-width="0.2" textLength="11.00" lengthAdjust="spacingAndGlyphs">−4</text>
<text x="0" y="0" transform="translate(18.60,494.30) rotate(-90)" font-family="'Liberation Serif', 'Times New Roman', serif" font-size="15.0" fill="#111" stroke="#111" stroke-width="0.2">)</text>
<text x="0" y="0" transform="translate(68.40,573.00) rotate(-90)" font-family="'Liberation Serif', 'Times New Roman', serif" font-size="12.9" text-anchor="middle" fill="#111" stroke="#111" stroke-width="0.2" textLength="26.60" lengthAdjust="spacingAndGlyphs">input</text>
<path d="M66.2,591.6 L68.8,594.2 L66.2,596.8 L63.6,594.2 Z" fill="#111"/>
<path d="M87.20,596.98 L125.80,552.89 L163.80,527.25" fill="none" stroke="#111" stroke-width="0.9"/>
<path d="M87.20,594.82 L125.80,549.70 L163.80,526.02" fill="none" stroke="#222" stroke-width="0.9"/>
<path d="M87.20,592.83 L125.80,555.02 L163.80,521.61" fill="none" stroke="#666" stroke-width="0.9"/>
<path d="M87.20,591.29 L125.80,556.54 L163.80,518.74" fill="none" stroke="#999" stroke-width="0.9"/>
<rect x="85.40" y="589.49" width="3.60" height="3.60" fill="#fff" stroke="#888" stroke-width="0.7" />
<rect x="124.00" y="554.74" width="3.60" height="3.60" fill="#fff" stroke="#888" stroke-width="0.7" />
<line x1="163.80" y1="514.74" x2="163.80" y2="521.74" stroke="#999" stroke-width="0.8" />
<rect x="162.00" y="516.94" width="3.60" height="3.60" fill="#fff" stroke="#888" stroke-width="0.7" />
<circle cx="87.20" cy="592.83" r="1.8" fill="#fff" stroke="#555" stroke-width="0.7"/>
<circle cx="125.80" cy="555.02" r="1.8" fill="#fff" stroke="#555" stroke-width="0.7"/>
<line x1="163.80" y1="517.61" x2="163.80" y2="524.61" stroke="#999" stroke-width="0.8" />
<circle cx="163.80" cy="521.61" r="1.8" fill="#fff" stroke="#555" stroke-width="0.7"/>
<circle cx="87.20" cy="596.98" r="1.9" fill="#111"/>
<circle cx="125.80" cy="552.89" r="1.9" fill="#111"/>
<circle cx="163.80" cy="527.25" r="1.9" fill="#111"/>
<rect x="85.30" y="592.92" width="3.80" height="3.80" fill="#111" stroke="none" stroke-width="1" />
<rect x="123.90" y="547.80" width="3.80" height="3.80" fill="#111" stroke="none" stroke-width="1" />
<rect x="161.90" y="524.12" width="3.80" height="3.80" fill="#111" stroke="none" stroke-width="1" />
<line x1="183.00" y1="494.60" x2="198.00" y2="494.60" stroke="#222" stroke-width="0.9" />
<circle cx="190.5" cy="494.6" r="2.4" fill="#111"/>
<line x1="183.00" y1="522.30" x2="198.00" y2="522.30" stroke="#222" stroke-width="0.9" />
<rect x="188.20" y="520.00" width="4.60" height="4.60" fill="#111" stroke="none" stroke-width="1" />
<line x1="183.00" y1="563.90" x2="198.00" y2="563.90" stroke="#222" stroke-width="0.9" />
<circle cx="190.5" cy="563.9" r="2.2" fill="#fff" stroke="#222" stroke-width="0.9"/>
<line x1="183.00" y1="592.20" x2="198.00" y2="592.20" stroke="#222" stroke-width="0.9" />
<rect x="188.30" y="590.00" width="4.40" height="4.40" fill="#fff" stroke="#444" stroke-width="0.9" />
<text x="216.10" y="500.00" font-family="'Liberation Serif', 'Times New Roman', serif" font-size="16.4" text-anchor="start" font-weight="normal" fill="#111" textLength="19.40" lengthAdjust="spacingAndGlyphs"  stroke="#111" stroke-width="0.20">B6</text>
<text x="202.70" y="520.70" font-family="'Liberation Serif', 'Times New Roman', serif" font-size="16.4" text-anchor="start" font-weight="normal" fill="#111" textLength="44.30" lengthAdjust="spacingAndGlyphs"  stroke="#111" stroke-width="0.20">CD19:</text>
<text x="205.00" y="536.30" font-family="'Liberation Serif', 'Times New Roman', serif" font-size="16.4" text-anchor="start" font-weight="normal" fill="#111" textLength="39.20" lengthAdjust="spacingAndGlyphs"  stroke="#111" stroke-width="0.20">KLF3</text>
<text x="216.10" y="569.60" font-family="'Liberation Serif', 'Times New Roman', serif" font-size="16.4" text-anchor="start" font-weight="normal" fill="#111" textLength="19.40" lengthAdjust="spacingAndGlyphs"  stroke="#111" stroke-width="0.20">B6</text>
<text x="202.70" y="590.40" font-family="'Liberation Serif', 'Times New Roman', serif" font-size="16.4" text-anchor="start" font-weight="normal" fill="#111" textLength="44.30" lengthAdjust="spacingAndGlyphs"  stroke="#111" stroke-width="0.20">CD19:</text>
<text x="205.00" y="605.50" font-family="'Liberation Serif', 'Times New Roman', serif" font-size="16.4" text-anchor="start" font-weight="normal" fill="#111" textLength="39.20" lengthAdjust="spacingAndGlyphs"  stroke="#111" stroke-width="0.20">KLF3</text>
<line x1="255.80" y1="486.50" x2="255.80" y2="535.50" stroke="#222" stroke-width="0.9" />
<line x1="251.90" y1="486.50" x2="255.80" y2="486.50" stroke="#222" stroke-width="0.9" />
<line x1="251.90" y1="535.50" x2="255.80" y2="535.50" stroke="#222" stroke-width="0.9" />
<line x1="255.80" y1="555.80" x2="255.80" y2="604.20" stroke="#222" stroke-width="0.9" />
<line x1="251.90" y1="555.80" x2="255.80" y2="555.80" stroke="#222" stroke-width="0.9" />
<line x1="251.90" y1="604.20" x2="255.80" y2="604.20" stroke="#222" stroke-width="0.9" />
<text x="0" y="0" transform="translate(273.60,510.20) rotate(-90)" font-family="'Liberation Serif', 'Times New Roman', serif" font-size="16.4" text-anchor="middle" fill="#111" stroke="#111" stroke-width="0.2" textLength="24.30" lengthAdjust="spacingAndGlyphs">F. 2</text>
<text x="0" y="0" transform="translate(273.60,580.60) rotate(-90)" font-family="'Liberation Serif', 'Times New Roman', serif" font-size="16.6" text-anchor="middle" fill="#111" stroke="#111" stroke-width="0.2" textLength="33.40" lengthAdjust="spacingAndGlyphs">F. 23</text>
<text x="319.60" y="474.60" font-family="'Liberation Sans', Arial, sans-serif" font-size="13.0" text-anchor="start" font-weight="bold" fill="#111" textLength="8.60" lengthAdjust="spacingAndGlyphs"  stroke="#111" stroke-width="0.45">E</text>
<line x1="363.00" y1="521.00" x2="458.00" y2="521.00" stroke="#777" stroke-width="0.9" />
<line x1="458.00" y1="521.00" x2="458.00" y2="625.00" stroke="#777" stroke-width="0.9" />
<line x1="363.00" y1="521.00" x2="363.00" y2="625.00" stroke="#555" stroke-width="0.9" />
<line x1="363.00" y1="625.00" x2="458.00" y2="625.00" stroke="#333" stroke-width="0.9" />
<line x1="360.00" y1="625.00" x2="363.00" y2="625.00" stroke="#555" stroke-width="0.6" />
<line x1="361.40" y1="609.35" x2="363.00" y2="609.35" stroke="#555" stroke-width="0.6" />
<line x1="361.40" y1="600.19" x2="363.00" y2="600.19" stroke="#555" stroke-width="0.6" />
<line x1="361.40" y1="593.69" x2="363.00" y2="593.69" stroke="#555" stroke-width="0.6" />
<line x1="361.40" y1="588.65" x2="363.00" y2="588.65" stroke="#555" stroke-width="0.6" />
<line x1="361.40" y1="584.54" x2="363.00" y2="584.54" stroke="#555" stroke-width="0.6" />
<line x1="361.40" y1="581.05" x2="363.00" y2="581.05" stroke="#555" stroke-width="0.6" />
<line x1="361.40" y1="578.04" x2="363.00" y2="578.04" stroke="#555" stroke-width="0.6" />
<line x1="361.40" y1="575.38" x2="363.00" y2="575.38" stroke="#555" stroke-width="0.6" />
<line x1="360.00" y1="573.00" x2="363.00" y2="573.00" stroke="#555" stroke-width="0.6" />
<line x1="361.40" y1="557.35" x2="363.00" y2="557.35" stroke="#555" stroke-width="0.6" />
<line x1="361.40" y1="548.19" x2="363.00" y2="548.19" stroke="#555" stroke-width="0.6" />
<line x1="361.40" y1="541.69" x2="363.00" y2="541.69" stroke="#555" stroke-width="0.6" />
<line x1="361.40" y1="536.65" x2="363.00" y2="536.65" stroke="#555" stroke-width="0.6" />
<line x1="361.40" y1="532.54" x2="363.00" y2="532.54" stroke="#555" stroke-width="0.6" />
<line x1="361.40" y1="529.05" x2="363.00" y2="529.05" stroke="#555" stroke-width="0.6" />
<line x1="361.40" y1="526.04" x2="363.00" y2="526.04" stroke="#555" stroke-width="0.6" />
<line x1="361.40" y1="523.38" x2="363.00" y2="523.38" stroke="#555" stroke-width="0.6" />
<line x1="383.10" y1="625.00" x2="383.10" y2="626.50" stroke="#555" stroke-width="0.6" />
<line x1="401.90" y1="625.00" x2="401.90" y2="626.50" stroke="#555" stroke-width="0.6" />
<line x1="420.70" y1="625.00" x2="420.70" y2="626.50" stroke="#555" stroke-width="0.6" />
<line x1="439.50" y1="625.00" x2="439.50" y2="626.50" stroke="#555" stroke-width="0.6" />
<text x="339.70" y="524.70" font-family="'Liberation Serif', 'Times New Roman', serif" font-size="10.8" text-anchor="start" font-weight="normal" fill="#111" textLength="15.90" lengthAdjust="spacingAndGlyphs"  stroke="#111" stroke-width="0.18">100</text>
<text x="345.70" y="575.20" font-family="'Liberation Serif', 'Times New Roman', serif" font-size="10.8" text-anchor="start" font-weight="normal" fill="#111" textLength="10.00" lengthAdjust="spacingAndGlyphs"  stroke="#111" stroke-width="0.18">10</text>
<text x="351.00" y="628.60" font-family="'Liberation Serif', 'Times New Roman', serif" font-size="10.8" text-anchor="start" font-weight="normal" fill="#111" textLength="4.60" lengthAdjust="spacingAndGlyphs"  stroke="#111" stroke-width="0.18">1</text>
<text x="383.10" y="641.60" font-family="'Liberation Serif', 'Times New Roman', serif" font-size="13.2" text-anchor="middle" font-weight="normal" fill="#111"  stroke="#111" stroke-width="0.20">2</text>
<text x="401.90" y="641.60" font-family="'Liberation Serif', 'Times New Roman', serif" font-size="13.2" text-anchor="middle" font-weight="normal" fill="#111"  stroke="#111" stroke-width="0.20">4</text>
<text x="439.50" y="641.60" font-family="'Liberation Serif', 'Times New Roman', serif" font-size="13.2" text-anchor="middle" font-weight="normal" fill="#111"  stroke="#111" stroke-width="0.20">8</text>
<text x="377.30" y="655.00" font-family="'Liberation Serif', 'Times New Roman', serif" font-size="13.2" text-anchor="start" font-weight="normal" fill="#111" textLength="59.70" lengthAdjust="spacingAndGlyphs"  stroke="#111" stroke-width="0.20">cells plated</text>
<text x="0" y="0" transform="translate(331.60,570.70) rotate(-90)" font-family="'Liberation Serif', 'Times New Roman', serif" font-size="16.2" text-anchor="middle" fill="#111" stroke="#111" stroke-width="0.2" textLength="122.40" lengthAdjust="spacingAndGlyphs">% non-responding</text>
<text x="418.80" y="537.50" font-family="'Liberation Serif', 'Times New Roman', serif" font-size="12.9" text-anchor="start" font-weight="normal" fill="#111" textLength="26.70" lengthAdjust="spacingAndGlyphs"  stroke="#111" stroke-width="0.20">LDA</text>
<text x="418.80" y="553.00" font-family="'Liberation Serif', 'Times New Roman', serif" font-size="12.9" text-anchor="start" font-weight="normal" fill="#111" textLength="32.50" lengthAdjust="spacingAndGlyphs"  stroke="#111" stroke-width="0.20">IgM,κ</text>
<line x1="363.00" y1="521.00" x2="454.50" y2="625.00" stroke="#222" stroke-width="1.2" />
<line x1="363.80" y1="521.30" x2="455.50" y2="625.00" stroke="#777" stroke-width="1.0" stroke-dasharray="2.5,1.5"/>
<line x1="363.00" y1="543.90" x2="383.80" y2="543.90" stroke="#111" stroke-width="1.1" stroke-dasharray="1.8,1.2"/>
<line x1="383.80" y1="543.90" x2="383.80" y2="617.50" stroke="#111" stroke-width="1.1" stroke-dasharray="1.8,1.2"/>
<path d="M381.8,615.5 L385.8,615.5 L383.8,621.8 Z" fill="#111"/>
<rect x="380.60" y="539.40" width="4.00" height="4.00" fill="#fff" stroke="#333" stroke-width="0.7" />
<rect x="399.50" y="555.20" width="4.00" height="4.00" fill="#fff" stroke="#333" stroke-width="0.7" />
<rect x="437.00" y="605.20" width="4.00" height="4.00" fill="#fff" stroke="#333" stroke-width="0.7" />
<line x1="372.80" y1="529.80" x2="372.80" y2="534.60" stroke="#555" stroke-width="0.6" />
<circle cx="372.8" cy="532.2" r="1.9" fill="#111"/>
<line x1="383.20" y1="542.60" x2="383.20" y2="547.40" stroke="#555" stroke-width="0.6" />
<circle cx="383.2" cy="545.0" r="1.9" fill="#111"/>
<line x1="401.50" y1="557.20" x2="401.50" y2="562.00" stroke="#555" stroke-width="0.6" />
<circle cx="401.5" cy="559.6" r="1.9" fill="#111"/>
<line x1="438.80" y1="605.90" x2="438.80" y2="610.70" stroke="#555" stroke-width="0.6" />
<circle cx="438.8" cy="608.3" r="1.9" fill="#111"/>
<text x="391.00" y="621.00" font-family="'Liberation Serif', 'Times New Roman', serif" font-size="14.0" text-anchor="start" font-weight="normal" fill="#111" textLength="12.40" lengthAdjust="spacingAndGlyphs"  stroke="#111" stroke-width="0.20">f≃</text>
<text x="403.60" y="615.00" font-family="'Liberation Serif', 'Times New Roman', serif" font-size="9.5" text-anchor="start" font-weight="normal" fill="#111"  stroke="#111" stroke-width="0.16">1</text>
<text x="406.60" y="621.50" font-family="'Liberation Serif', 'Times New Roman', serif" font-size="14.0" text-anchor="start" font-weight="normal" fill="#111"  stroke="#111" stroke-width="0.20">/</text>
<text x="411.60" y="623.20" font-family="'Liberation Serif', 'Times New Roman', serif" font-size="11.5" text-anchor="start" font-weight="normal" fill="#111"  stroke="#111" stroke-width="0.19">2</text>
<circle cx="465.0" cy="533.6" r="1.3" fill="#111"/>
<line x1="461.20" y1="535.80" x2="468.80" y2="535.80" stroke="#444" stroke-width="0.7" stroke-dasharray="1.5,1"/>
<rect x="463.20" y="556.40" width="3.60" height="3.60" fill="#fff" stroke="#444" stroke-width="0.6" />
<line x1="461.20" y1="563.20" x2="468.80" y2="563.20" stroke="#666" stroke-width="0.7" />
<text x="487.00" y="538.00" font-family="'Liberation Serif', 'Times New Roman', serif" font-size="16.4" text-anchor="start" font-weight="normal" fill="#111" textLength="19.30" lengthAdjust="spacingAndGlyphs"  stroke="#111" stroke-width="0.20">B6</text>
<text x="474.50" y="558.80" font-family="'Liberation Serif', 'Times New Roman', serif" font-size="16.5" text-anchor="start" font-weight="normal" fill="#111" textLength="44.30" lengthAdjust="spacingAndGlyphs"  stroke="#111" stroke-width="0.20">CD19:</text>
<text x="476.30" y="573.80" font-family="'Liberation Serif', 'Times New Roman', serif" font-size="16.5" text-anchor="start" font-weight="normal" fill="#111" textLength="40.00" lengthAdjust="spacingAndGlyphs"  stroke="#111" stroke-width="0.20">KLF3</text>
</svg>
</body></html>
